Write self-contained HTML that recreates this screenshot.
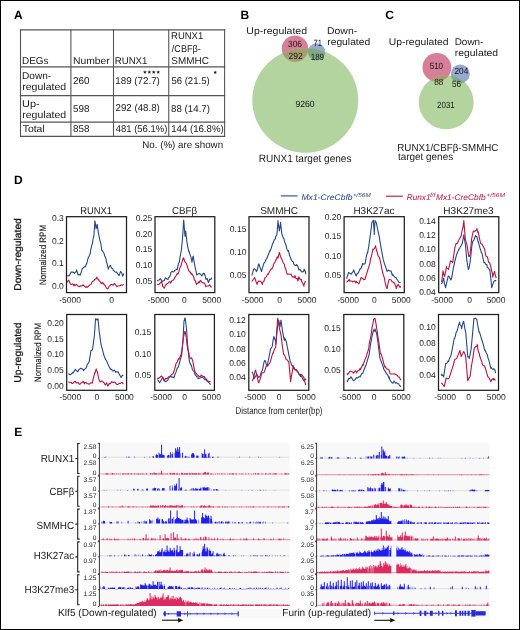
<!DOCTYPE html>
<html><head><meta charset="utf-8"><style>
html,body{margin:0;padding:0;background:#fff;}
svg{display:block;font-family:"Liberation Sans", sans-serif;will-change:transform;text-rendering:geometricPrecision;}
</style></head><body>
<svg width="520" height="630" viewBox="0 0 520 630">
<rect x="0" y="0" width="520" height="630" fill="#fff"/>
<text x="14" y="19" font-size="12" font-weight="bold" fill="#000">A</text>
<line x1="20.5" y1="29.2" x2="20.5" y2="137.0" stroke="#555" stroke-width="1.1"/>
<line x1="70.9" y1="29.2" x2="70.9" y2="137.0" stroke="#555" stroke-width="1.1"/>
<line x1="113.5" y1="29.2" x2="113.5" y2="137.0" stroke="#555" stroke-width="1.1"/>
<line x1="168.75" y1="29.2" x2="168.75" y2="137.0" stroke="#555" stroke-width="1.1"/>
<line x1="224.6" y1="29.2" x2="224.6" y2="137.0" stroke="#555" stroke-width="1.1"/>
<line x1="19.95" y1="29.8" x2="225.15" y2="29.8" stroke="#555" stroke-width="1.25"/>
<line x1="19.95" y1="66.9" x2="225.15" y2="66.9" stroke="#555" stroke-width="1.25"/>
<line x1="19.95" y1="95.65" x2="225.15" y2="95.65" stroke="#555" stroke-width="1.25"/>
<line x1="19.95" y1="122.1" x2="225.15" y2="122.1" stroke="#555" stroke-width="1.25"/>
<line x1="19.95" y1="136.4" x2="225.15" y2="136.4" stroke="#555" stroke-width="1.25"/>
<text x="22.00" y="63.70" font-size="9.90" textLength="26.57" lengthAdjust="spacingAndGlyphs" fill="#1a1a1a">DEGs</text>
<text x="72.97" y="63.70" font-size="9.90" textLength="36.75" lengthAdjust="spacingAndGlyphs" fill="#1a1a1a">Number</text>
<text x="114.73" y="63.60" font-size="9.90" textLength="32.70" lengthAdjust="spacingAndGlyphs" fill="#1a1a1a">RUNX1</text>
<text x="171.04" y="39.40" font-size="9.90" textLength="32.18" lengthAdjust="spacingAndGlyphs" fill="#1a1a1a">RUNX1</text>
<text x="171.80" y="51.60" font-size="9.90" textLength="28.97" lengthAdjust="spacingAndGlyphs" fill="#1a1a1a">/CBF&#946;-</text>
<text x="171.35" y="63.70" font-size="9.90" textLength="37.52" lengthAdjust="spacingAndGlyphs" fill="#1a1a1a">SMMHC</text>
<text x="22.09" y="78.80" font-size="9.90" textLength="29.16" lengthAdjust="spacingAndGlyphs" fill="#1a1a1a">Down-</text>
<text x="22.21" y="90.00" font-size="9.90" textLength="44.02" lengthAdjust="spacingAndGlyphs" fill="#1a1a1a">regulated</text>
<text x="73.00" y="84.30" font-size="9.90" textLength="16.58" lengthAdjust="spacingAndGlyphs" fill="#1a1a1a">260</text>
<text x="115.27" y="84.40" font-size="9.90" textLength="44.61" lengthAdjust="spacingAndGlyphs" fill="#1a1a1a">189 (72.7)</text>
<text x="171.42" y="84.10" font-size="9.90" textLength="38.23" lengthAdjust="spacingAndGlyphs" fill="#1a1a1a">56 (21.5)</text>
<text x="22.08" y="106.90" font-size="9.90" textLength="17.57" lengthAdjust="spacingAndGlyphs" fill="#1a1a1a">Up-</text>
<text x="22.21" y="117.90" font-size="9.90" textLength="44.02" lengthAdjust="spacingAndGlyphs" fill="#1a1a1a">regulated</text>
<text x="73.10" y="111.80" font-size="9.90" textLength="16.53" lengthAdjust="spacingAndGlyphs" fill="#1a1a1a">598</text>
<text x="115.51" y="111.40" font-size="9.90" textLength="44.36" lengthAdjust="spacingAndGlyphs" fill="#1a1a1a">292 (48.8)</text>
<text x="171.11" y="111.50" font-size="9.90" textLength="38.85" lengthAdjust="spacingAndGlyphs" fill="#1a1a1a">88 (14.7)</text>
<text x="22.69" y="131.60" font-size="9.90" textLength="21.96" lengthAdjust="spacingAndGlyphs" fill="#1a1a1a">Total</text>
<text x="73.10" y="131.80" font-size="9.90" textLength="16.53" lengthAdjust="spacingAndGlyphs" fill="#1a1a1a">858</text>
<text x="115.81" y="132.10" font-size="9.90" textLength="51.54" lengthAdjust="spacingAndGlyphs" fill="#1a1a1a">481 (56.1%)</text>
<text x="171.18" y="132.00" font-size="9.90" textLength="52.48" lengthAdjust="spacingAndGlyphs" fill="#1a1a1a">144 (16.8%)</text>
<text x="142.22" y="148.20" font-size="9.90" textLength="80.88" lengthAdjust="spacingAndGlyphs" fill="#1a1a1a">No. (%) are shown</text>
<polygon points="144.90,70.20 145.40,71.51 146.80,71.58 145.71,72.46 146.08,73.82 144.90,73.05 143.72,73.82 144.09,72.46 143.00,71.58 144.40,71.51" fill="#1a1a1a"/>
<polygon points="149.30,70.20 149.80,71.51 151.20,71.58 150.11,72.46 150.48,73.82 149.30,73.05 148.12,73.82 148.49,72.46 147.40,71.58 148.80,71.51" fill="#1a1a1a"/>
<polygon points="153.70,70.20 154.20,71.51 155.60,71.58 154.51,72.46 154.88,73.82 153.70,73.05 152.52,73.82 152.89,72.46 151.80,71.58 153.20,71.51" fill="#1a1a1a"/>
<polygon points="158.20,70.20 158.70,71.51 160.10,71.58 159.01,72.46 159.38,73.82 158.20,73.05 157.02,73.82 157.39,72.46 156.30,71.58 157.70,71.51" fill="#1a1a1a"/>
<polygon points="215.20,70.40 215.70,71.71 217.10,71.78 216.01,72.66 216.38,74.02 215.20,73.25 214.02,74.02 214.39,72.66 213.30,71.78 214.70,71.71" fill="#1a1a1a"/>
<text x="240.5" y="19.3" font-size="12" font-weight="bold" fill="#000">B</text>
<clipPath id="vbg"><ellipse cx="305.3" cy="100.3" rx="53.0" ry="52.4"/></clipPath>
<circle cx="295.0" cy="48.7" r="13.2" fill="#d77f99"/>
<circle cx="316.5" cy="51.9" r="8.7" fill="#99a8cf"/>
<ellipse cx="305.3" cy="100.3" rx="53.0" ry="52.4" fill="#b3d39f"/>
<circle cx="295.0" cy="48.7" r="13.2" fill="#a99c72" clip-path="url(#vbg)"/>
<circle cx="316.5" cy="51.9" r="8.7" fill="#7fa887" clip-path="url(#vbg)"/>
<text x="246.31" y="33.70" font-size="9.70" textLength="60.73" lengthAdjust="spacingAndGlyphs" fill="#1a1a1a">Up-regulated</text>
<text x="327.07" y="33.90" font-size="9.70" textLength="30.10" lengthAdjust="spacingAndGlyphs" fill="#1a1a1a">Down-</text>
<text x="327.23" y="45.00" font-size="9.70" textLength="42.99" lengthAdjust="spacingAndGlyphs" fill="#1a1a1a">regulated</text>
<text x="288.11" y="46.60" font-size="9.00" textLength="13.85" lengthAdjust="spacingAndGlyphs" fill="#151515">306</text>
<text x="288.58" y="59.00" font-size="9.00" textLength="14.13" lengthAdjust="spacingAndGlyphs" fill="#151515">292</text>
<text x="313.42" y="46.20" font-size="9.00" textLength="8.44" lengthAdjust="spacingAndGlyphs" fill="#151515">71</text>
<text x="310.70" y="60.10" font-size="9.00" textLength="13.39" lengthAdjust="spacingAndGlyphs" fill="#151515">189</text>
<text x="295.41" y="106.60" font-size="9.00" textLength="19.19" lengthAdjust="spacingAndGlyphs" fill="#151515">9260</text>
<text x="258.70" y="161.90" font-size="10.60" textLength="92.78" lengthAdjust="spacingAndGlyphs" fill="#1a1a1a">RUNX1 target genes</text>
<text x="385.3" y="19.4" font-size="12" font-weight="bold" fill="#000">C</text>
<clipPath id="vcg"><ellipse cx="446.2" cy="102.2" rx="27.4" ry="27.0"/></clipPath>
<circle cx="436.9" cy="67.4" r="14.4" fill="#d77f99"/>
<circle cx="460.3" cy="73.9" r="9.5" fill="#99a8cf"/>
<ellipse cx="446.2" cy="102.2" rx="27.4" ry="27.0" fill="#b3d39f"/>
<circle cx="436.9" cy="67.4" r="14.4" fill="#a99c72" clip-path="url(#vcg)"/>
<circle cx="460.3" cy="73.9" r="9.5" fill="#7fa887" clip-path="url(#vcg)"/>
<text x="388.72" y="45.00" font-size="9.70" textLength="59.91" lengthAdjust="spacingAndGlyphs" fill="#1a1a1a">Up-regulated</text>
<text x="454.70" y="44.90" font-size="9.70" textLength="28.74" lengthAdjust="spacingAndGlyphs" fill="#1a1a1a">Down-</text>
<text x="454.83" y="55.70" font-size="9.70" textLength="43.30" lengthAdjust="spacingAndGlyphs" fill="#1a1a1a">regulated</text>
<text x="429.68" y="68.90" font-size="9.00" textLength="13.43" lengthAdjust="spacingAndGlyphs" fill="#151515">510</text>
<text x="454.48" y="73.90" font-size="9.00" textLength="13.85" lengthAdjust="spacingAndGlyphs" fill="#151515">204</text>
<text x="434.27" y="84.50" font-size="9.00" textLength="9.18" lengthAdjust="spacingAndGlyphs" fill="#151515">88</text>
<text x="451.97" y="87.40" font-size="9.00" textLength="9.07" lengthAdjust="spacingAndGlyphs" fill="#151515">56</text>
<text x="437.10" y="107.50" font-size="9.00" textLength="17.65" lengthAdjust="spacingAndGlyphs" fill="#151515">2031</text>
<text x="397.32" y="150.70" font-size="10.10" textLength="101.06" lengthAdjust="spacingAndGlyphs" fill="#1a1a1a">RUNX1/CBF&#946;-SMMHC</text>
<text x="397.95" y="159.90" font-size="10.10" textLength="55.19" lengthAdjust="spacingAndGlyphs" fill="#1a1a1a">target genes</text>
<text x="14" y="183.5" font-size="12" font-weight="bold" fill="#000">D</text>
<line x1="280.8" y1="195.9" x2="297.6" y2="195.9" stroke="#25488a" stroke-width="1.1"/>
<line x1="385.9" y1="196.2" x2="402.9" y2="196.2" stroke="#bd1240" stroke-width="1.1"/>
<text x="301.44" y="199.70" font-size="8.20" textLength="51.18" lengthAdjust="spacingAndGlyphs" fill="#25488a" font-style="italic">Mx1-CreCbfb</text>
<text x="352.92" y="196.50" font-size="5.90" textLength="17.76" lengthAdjust="spacingAndGlyphs" fill="#25488a" font-style="italic">+/56M</text>
<text x="406.75" y="199.80" font-size="8.20" textLength="23.71" lengthAdjust="spacingAndGlyphs" fill="#bd1240" font-style="italic">Runx1</text>
<text x="430.00" y="196.50" font-size="5.90" textLength="5.43" lengthAdjust="spacingAndGlyphs" fill="#bd1240" font-style="italic">f/f</text>
<text x="435.95" y="199.80" font-size="8.20" textLength="49.77" lengthAdjust="spacingAndGlyphs" fill="#bd1240" font-style="italic">Mx1-CreCbfb</text>
<text x="486.40" y="197.00" font-size="5.90" textLength="18.58" lengthAdjust="spacingAndGlyphs" fill="#bd1240" font-style="italic">+/56M</text>
<text x="80.15" y="213.90" font-size="10.00" textLength="31.77" lengthAdjust="spacingAndGlyphs" fill="#1a1a1a">RUNX1</text>
<text x="172.01" y="213.90" font-size="10.00" textLength="25.13" lengthAdjust="spacingAndGlyphs" fill="#1a1a1a">CBF&#946;</text>
<text x="260.15" y="213.90" font-size="10.00" textLength="37.93" lengthAdjust="spacingAndGlyphs" fill="#1a1a1a">SMMHC</text>
<text x="353.40" y="213.90" font-size="10.00" textLength="41.04" lengthAdjust="spacingAndGlyphs" fill="#1a1a1a">H3K27ac</text>
<text x="443.29" y="213.90" font-size="10.00" textLength="50.44" lengthAdjust="spacingAndGlyphs" fill="#1a1a1a">H3K27me3</text>
<text x="63.8" y="220.8" font-size="8.5" text-anchor="end" fill="#1c1c1c">0.3</text>
<text x="63.8" y="243.5" font-size="8.5" text-anchor="end" fill="#1c1c1c">0.2</text>
<text x="63.8" y="266.2" font-size="8.5" text-anchor="end" fill="#1c1c1c">0.1</text>
<text x="63.8" y="289.0" font-size="8.5" text-anchor="end" fill="#1c1c1c">0.0</text>
<text x="152.2" y="220.9" font-size="8.5" text-anchor="end" fill="#1c1c1c">0.25</text>
<text x="152.2" y="236.5" font-size="8.5" text-anchor="end" fill="#1c1c1c">0.20</text>
<text x="152.2" y="252.3" font-size="8.5" text-anchor="end" fill="#1c1c1c">0.15</text>
<text x="152.2" y="268.0" font-size="8.5" text-anchor="end" fill="#1c1c1c">0.10</text>
<text x="152.2" y="283.9" font-size="8.5" text-anchor="end" fill="#1c1c1c">0.05</text>
<text x="246.4" y="232.0" font-size="8.5" text-anchor="end" fill="#1c1c1c">0.15</text>
<text x="246.4" y="254.5" font-size="8.5" text-anchor="end" fill="#1c1c1c">0.10</text>
<text x="246.4" y="277.5" font-size="8.5" text-anchor="end" fill="#1c1c1c">0.05</text>
<text x="341.2" y="219.6" font-size="8.5" text-anchor="end" fill="#1c1c1c">0.20</text>
<text x="341.2" y="239.3" font-size="8.5" text-anchor="end" fill="#1c1c1c">0.15</text>
<text x="341.2" y="258.8" font-size="8.5" text-anchor="end" fill="#1c1c1c">0.10</text>
<text x="341.2" y="278.4" font-size="8.5" text-anchor="end" fill="#1c1c1c">0.05</text>
<text x="435.7" y="224.1" font-size="8.5" text-anchor="end" fill="#1c1c1c">0.14</text>
<text x="435.7" y="238.2" font-size="8.5" text-anchor="end" fill="#1c1c1c">0.12</text>
<text x="435.7" y="252.0" font-size="8.5" text-anchor="end" fill="#1c1c1c">0.10</text>
<text x="435.7" y="266.5" font-size="8.5" text-anchor="end" fill="#1c1c1c">0.08</text>
<text x="435.7" y="280.5" font-size="8.5" text-anchor="end" fill="#1c1c1c">0.06</text>
<text x="435.7" y="294.7" font-size="8.5" text-anchor="end" fill="#1c1c1c">0.04</text>
<text x="63.8" y="326.3" font-size="8.5" text-anchor="end" fill="#1c1c1c">0.20</text>
<text x="63.8" y="342.0" font-size="8.5" text-anchor="end" fill="#1c1c1c">0.15</text>
<text x="63.8" y="357.4" font-size="8.5" text-anchor="end" fill="#1c1c1c">0.10</text>
<text x="63.8" y="373.1" font-size="8.5" text-anchor="end" fill="#1c1c1c">0.05</text>
<text x="63.8" y="388.6" font-size="8.5" text-anchor="end" fill="#1c1c1c">0.00</text>
<text x="151.2" y="335.1" font-size="8.5" text-anchor="end" fill="#1c1c1c">0.15</text>
<text x="151.2" y="356.6" font-size="8.5" text-anchor="end" fill="#1c1c1c">0.10</text>
<text x="151.2" y="378.2" font-size="8.5" text-anchor="end" fill="#1c1c1c">0.05</text>
<text x="245.7" y="323.0" font-size="8.5" text-anchor="end" fill="#1c1c1c">0.12</text>
<text x="245.7" y="337.4" font-size="8.5" text-anchor="end" fill="#1c1c1c">0.10</text>
<text x="245.7" y="351.5" font-size="8.5" text-anchor="end" fill="#1c1c1c">0.08</text>
<text x="245.7" y="365.8" font-size="8.5" text-anchor="end" fill="#1c1c1c">0.06</text>
<text x="245.7" y="380.3" font-size="8.5" text-anchor="end" fill="#1c1c1c">0.04</text>
<text x="340.7" y="330.7" font-size="8.5" text-anchor="end" fill="#1c1c1c">0.15</text>
<text x="340.7" y="351.8" font-size="8.5" text-anchor="end" fill="#1c1c1c">0.10</text>
<text x="340.7" y="373.4" font-size="8.5" text-anchor="end" fill="#1c1c1c">0.05</text>
<text x="435.7" y="330.3" font-size="8.5" text-anchor="end" fill="#1c1c1c">0.10</text>
<text x="435.7" y="346.1" font-size="8.5" text-anchor="end" fill="#1c1c1c">0.08</text>
<text x="435.7" y="362.0" font-size="8.5" text-anchor="end" fill="#1c1c1c">0.06</text>
<text x="435.7" y="377.8" font-size="8.5" text-anchor="end" fill="#1c1c1c">0.04</text>
<text x="70.0" y="303.1" font-size="8.5" text-anchor="middle" fill="#1c1c1c">-5000</text>
<text x="111.7" y="303.1" font-size="8.5" text-anchor="middle" fill="#1c1c1c">0</text>
<text x="158.5" y="303.4" font-size="8.5" text-anchor="middle" fill="#1c1c1c">-5000</text>
<text x="184.3" y="303.4" font-size="8.5" text-anchor="middle" fill="#1c1c1c">0</text>
<text x="211.8" y="303.4" font-size="8.5" text-anchor="middle" fill="#1c1c1c">5000</text>
<text x="252.5" y="303.4" font-size="8.5" text-anchor="middle" fill="#1c1c1c">-5000</text>
<text x="279.5" y="303.4" font-size="8.5" text-anchor="middle" fill="#1c1c1c">0</text>
<text x="307.0" y="303.4" font-size="8.5" text-anchor="middle" fill="#1c1c1c">5000</text>
<text x="348.1" y="303.4" font-size="8.5" text-anchor="middle" fill="#1c1c1c">-5000</text>
<text x="374.3" y="303.4" font-size="8.5" text-anchor="middle" fill="#1c1c1c">0</text>
<text x="401.3" y="303.4" font-size="8.5" text-anchor="middle" fill="#1c1c1c">5000</text>
<text x="442.1" y="303.4" font-size="8.5" text-anchor="middle" fill="#1c1c1c">-5000</text>
<text x="469.5" y="303.4" font-size="8.5" text-anchor="middle" fill="#1c1c1c">0</text>
<text x="496.1" y="303.4" font-size="8.5" text-anchor="middle" fill="#1c1c1c">5000</text>
<text x="70.4" y="400.3" font-size="8.5" text-anchor="middle" fill="#1c1c1c">-5000</text>
<text x="96.9" y="400.3" font-size="8.5" text-anchor="middle" fill="#1c1c1c">0</text>
<text x="124.4" y="400.3" font-size="8.5" text-anchor="middle" fill="#1c1c1c">5000</text>
<text x="161.0" y="400.3" font-size="8.5" text-anchor="middle" fill="#1c1c1c">-5000</text>
<text x="184.6" y="400.3" font-size="8.5" text-anchor="middle" fill="#1c1c1c">0</text>
<text x="211.5" y="400.3" font-size="8.5" text-anchor="middle" fill="#1c1c1c">5000</text>
<text x="255.0" y="400.3" font-size="8.5" text-anchor="middle" fill="#1c1c1c">-5000</text>
<text x="279.2" y="400.3" font-size="8.5" text-anchor="middle" fill="#1c1c1c">0</text>
<text x="306.3" y="400.3" font-size="8.5" text-anchor="middle" fill="#1c1c1c">5000</text>
<text x="350.0" y="400.3" font-size="8.5" text-anchor="middle" fill="#1c1c1c">-5000</text>
<text x="374.2" y="400.3" font-size="8.5" text-anchor="middle" fill="#1c1c1c">0</text>
<text x="401.3" y="400.3" font-size="8.5" text-anchor="middle" fill="#1c1c1c">5000</text>
<text x="445.0" y="400.3" font-size="8.5" text-anchor="middle" fill="#1c1c1c">-5000</text>
<text x="468.7" y="400.3" font-size="8.5" text-anchor="middle" fill="#1c1c1c">0</text>
<text x="496.3" y="400.3" font-size="8.5" text-anchor="middle" fill="#1c1c1c">5000</text>
<text x="-0.82" y="0" font-size="9.80" textLength="72.54" lengthAdjust="spacingAndGlyphs" fill="#1a1a1a" stroke="#1a1a1a" stroke-width="0.3" transform="translate(21.3,289.9) rotate(-90)">Down-regulated</text>
<text x="-0.78" y="0" font-size="9.80" textLength="60.32" lengthAdjust="spacingAndGlyphs" fill="#1a1a1a" stroke="#1a1a1a" stroke-width="0.3" transform="translate(21.3,381.9) rotate(-90)">Up-regulated</text>
<text x="-0.64" y="0" font-size="9.30" textLength="60.05" lengthAdjust="spacingAndGlyphs" fill="#1a1a1a" stroke="#1a1a1a" stroke-width="0.15" transform="translate(46.0,284.4) rotate(-90)">Normalized RPM</text>
<text x="-0.62" y="0" font-size="9.30" textLength="58.93" lengthAdjust="spacingAndGlyphs" fill="#1a1a1a" stroke="#1a1a1a" stroke-width="0.15" transform="translate(41.3,381.3) rotate(-90)">Normalized RPM</text>
<text x="235.57" y="414.20" font-size="10.00" textLength="86.90" lengthAdjust="spacingAndGlyphs" fill="#1a1a1a">Distance from center(bp)</text>
<path d="M67.20,275.60 L67.20,275.60 L68.50,275.84 L69.40,275.60 L69.80,274.69 L71.10,271.97 L71.50,272.00 L72.40,272.10 L73.70,272.34 L74.40,273.50 L75.00,272.57 L76.30,271.46 L76.60,269.90 L77.60,273.08 L78.00,274.90 L78.90,274.40 L80.20,275.29 L80.20,274.90 L81.50,271.34 L82.40,268.40 L82.80,268.28 L84.10,266.81 L85.20,267.00 L85.40,266.45 L86.70,263.60 L87.40,261.20 L88.00,258.49 L89.30,255.66 L90.30,253.30 L90.60,250.40 L91.90,244.92 L92.50,243.20 L93.20,238.13 L93.90,236.00 L94.50,226.69 L94.90,220.80 L95.80,226.33 L96.00,228.80 L97.10,224.98 L97.20,224.40 L98.20,231.60 L98.40,232.79 L99.70,239.45 L99.70,239.60 L101.00,244.27 L101.80,250.40 L102.30,250.63 L103.60,252.73 L104.00,253.30 L104.90,256.34 L106.20,259.28 L106.20,260.50 L107.50,265.44 L108.30,269.10 L108.80,267.50 L110.10,265.51 L110.50,265.50 L111.40,267.93 L112.70,268.72 L113.40,270.60 L114.00,270.86 L115.30,272.22 L116.30,272.00 L116.60,271.92 L117.90,273.97 L119.10,275.60 L119.20,275.40 L120.50,271.64 L120.60,271.30 L121.80,273.18 L122.70,276.30 L123.10,275.34 L123.80,273.50" fill="none" stroke="#25488a" stroke-width="1.1" stroke-linejoin="round"/>
<path d="M67.50,282.49 L67.50,281.40 L68.80,280.16 L69.40,281.40 L70.10,283.54 L70.80,284.30 L71.40,284.40 L72.70,283.79 L74.00,285.90 L74.40,284.30 L75.30,285.34 L76.60,284.39 L77.90,286.03 L78.80,286.40 L79.20,286.73 L80.50,285.70 L81.80,285.97 L83.10,284.95 L83.10,285.00 L84.40,286.20 L85.70,287.48 L87.00,286.45 L87.40,287.20 L88.30,286.64 L89.60,285.06 L90.90,284.48 L91.00,284.30 L92.20,281.86 L93.50,280.73 L93.90,280.70 L94.80,279.43 L96.10,278.69 L96.80,277.10 L97.40,279.04 L98.70,279.30 L98.90,280.70 L100.00,281.16 L101.30,283.62 L101.80,283.60 L102.60,282.39 L103.90,284.24 L104.70,285.00 L105.20,285.54 L106.50,288.24 L107.60,288.60 L107.80,288.90 L109.10,286.48 L110.40,284.83 L110.50,285.00 L111.70,284.33 L113.00,285.25 L114.10,283.60 L114.30,283.45 L115.60,284.81 L116.90,286.59 L117.00,286.40 L118.20,286.07 L119.50,285.76 L120.60,285.70 L120.80,284.76 L122.10,285.33 L123.40,284.67 L123.50,285.00" fill="none" stroke="#bd1240" stroke-width="1.1" stroke-linejoin="round"/>
<path d="M157.70,281.35 L157.70,280.30 L159.00,280.04 L160.30,278.58 L160.30,278.60 L161.60,280.50 L162.90,281.20 L162.90,280.89 L164.20,280.40 L165.50,277.70 L165.50,277.70 L166.80,279.08 L168.10,279.40 L168.10,278.24 L169.40,277.11 L170.70,274.20 L170.70,272.68 L172.00,271.37 L173.30,271.94 L174.10,271.60 L174.60,270.29 L175.90,269.95 L176.70,269.00 L177.20,269.69 L178.50,263.47 L179.30,262.10 L179.80,258.54 L181.10,251.48 L181.60,248.30 L182.40,239.48 L182.80,234.40 L183.70,220.20 L183.70,220.04 L185.00,236.20 L185.00,236.01 L185.70,231.00 L186.30,236.82 L187.10,243.10 L187.60,246.10 L188.80,251.70 L188.90,251.02 L190.20,255.10 L190.90,256.90 L191.50,259.77 L192.00,262.10 L192.80,257.15 L193.20,256.10 L194.10,261.61 L195.40,269.00 L195.40,268.23 L196.60,274.20 L196.70,275.04 L198.00,273.94 L199.20,273.40 L199.30,273.58 L200.60,274.27 L201.80,276.00 L201.90,275.82 L203.20,273.23 L204.40,274.20 L204.50,273.49 L205.80,278.81 L206.10,279.40 L207.10,278.48 L208.40,282.46 L208.70,282.00 L209.70,278.98 L210.50,279.40 L211.00,279.37 L211.70,277.70" fill="none" stroke="#25488a" stroke-width="1.1" stroke-linejoin="round"/>
<path d="M157.70,283.75 L157.70,284.60 L159.00,284.41 L160.30,282.80 L161.20,282.00 L161.60,281.30 L162.90,286.79 L163.70,287.20 L164.20,288.14 L165.50,285.33 L166.80,283.83 L167.20,283.70 L168.10,283.10 L169.40,281.66 L170.70,282.00 L170.70,283.10 L172.00,280.46 L173.30,279.96 L174.10,279.40 L174.60,277.86 L175.90,276.10 L177.20,273.52 L177.60,274.20 L178.50,273.07 L179.80,268.21 L180.20,267.30 L181.10,265.51 L181.90,262.10 L182.40,260.58 L183.30,257.80 L183.70,258.12 L185.00,262.10 L185.00,261.77 L186.30,263.42 L186.80,264.70 L187.60,267.15 L188.80,270.80 L188.90,270.56 L190.20,272.33 L191.40,274.20 L191.50,272.96 L192.80,275.28 L194.00,277.70 L194.10,279.62 L195.40,280.74 L196.60,284.60 L196.70,283.42 L198.00,283.11 L199.20,281.20 L199.30,282.66 L200.60,280.43 L201.90,282.30 L202.70,282.90 L203.20,282.77 L204.50,282.94 L205.80,286.73 L206.10,286.30 L207.10,286.05 L208.40,285.85 L209.60,285.50 L209.70,284.83 L211.00,287.09 L211.70,287.20" fill="none" stroke="#bd1240" stroke-width="1.1" stroke-linejoin="round"/>
<path d="M252.00,274.56 L252.00,275.10 L253.30,270.29 L253.70,269.00 L254.60,268.79 L255.90,269.98 L256.30,271.60 L257.20,270.24 L258.50,264.49 L258.90,263.80 L259.80,266.79 L261.10,270.37 L261.50,271.60 L262.40,268.18 L263.70,263.82 L264.10,263.00 L265.00,262.14 L266.30,259.06 L266.70,258.70 L267.60,256.31 L268.90,253.25 L270.20,250.00 L270.20,251.18 L271.50,247.23 L272.80,243.10 L272.80,243.48 L274.10,240.34 L275.40,238.70 L275.40,237.32 L276.70,235.06 L277.10,232.70 L278.00,220.60 L278.00,221.57 L279.30,230.12 L279.40,231.00 L280.60,222.30 L280.60,222.84 L281.90,234.32 L282.00,234.40 L283.20,237.81 L284.00,238.70 L284.50,241.32 L285.80,244.80 L285.80,244.34 L287.10,249.76 L288.40,251.70 L288.40,250.45 L289.70,256.06 L291.00,258.70 L291.00,259.19 L292.30,261.27 L293.60,262.10 L293.60,263.98 L294.90,265.33 L296.20,265.60 L296.20,264.45 L297.50,265.68 L298.70,269.00 L298.80,269.92 L300.10,269.38 L301.30,271.60 L301.40,271.56 L302.70,272.02 L304.00,270.80 L304.00,269.16 L305.30,271.29 L305.70,274.20" fill="none" stroke="#25488a" stroke-width="1.1" stroke-linejoin="round"/>
<path d="M252.00,281.51 L252.00,281.20 L253.30,279.50 L254.60,277.70 L254.60,277.41 L255.90,281.20 L257.20,284.60 L257.20,283.57 L258.50,281.08 L259.80,281.20 L259.80,281.00 L261.10,281.73 L262.40,284.60 L262.40,282.63 L263.70,281.76 L265.00,277.70 L265.00,277.63 L266.30,276.89 L267.60,273.91 L268.50,274.20 L268.90,272.80 L270.20,270.40 L271.50,268.55 L271.90,269.00 L272.80,267.16 L274.10,262.98 L274.50,263.00 L275.40,261.32 L276.70,258.25 L277.10,256.90 L278.00,258.15 L279.30,252.35 L279.70,253.50 L280.60,256.95 L281.90,259.23 L282.30,260.40 L283.20,262.77 L284.50,264.50 L284.90,267.30 L285.80,269.14 L287.10,274.03 L287.50,274.20 L288.40,274.10 L289.70,274.30 L291.00,274.20 L291.00,273.85 L292.30,276.92 L293.60,276.85 L294.40,277.70 L294.90,275.56 L296.20,278.67 L297.50,278.44 L297.90,281.20 L298.80,276.82 L300.10,279.40 L301.30,279.40 L301.40,281.26 L302.70,283.03 L304.00,286.30 L304.00,284.89 L305.30,281.27 L305.70,281.20" fill="none" stroke="#bd1240" stroke-width="1.1" stroke-linejoin="round"/>
<path d="M346.80,278.72 L346.80,277.70 L348.10,274.09 L348.60,272.50 L349.40,273.07 L350.70,273.82 L351.20,274.20 L352.00,272.86 L353.30,271.31 L353.70,269.90 L354.60,272.51 L355.90,275.26 L356.30,276.00 L357.20,273.54 L358.50,272.74 L358.90,271.60 L359.80,269.21 L361.10,268.25 L362.40,264.70 L362.40,263.56 L363.70,264.13 L365.00,263.80 L365.00,263.79 L366.30,256.56 L367.60,251.70 L367.60,253.25 L368.90,245.26 L370.20,236.20 L370.20,235.78 L371.50,226.27 L371.90,222.30 L372.80,221.29 L373.30,220.20 L374.10,230.47 L374.20,234.40 L375.00,220.60 L375.40,221.39 L376.20,222.30 L376.70,224.66 L378.00,231.00 L378.00,231.07 L379.30,236.61 L379.70,239.60 L380.60,244.86 L381.40,250.00 L381.90,252.17 L383.20,259.45 L384.00,262.10 L384.50,263.90 L385.80,267.50 L386.60,269.90 L387.10,271.45 L388.40,270.02 L389.20,270.80 L389.70,270.94 L391.00,270.91 L392.30,275.22 L392.70,274.20 L393.60,275.97 L394.90,277.23 L396.20,277.70 L396.20,278.30 L397.50,280.04 L398.70,282.00 L398.80,282.24 L400.10,282.47 L400.50,282.90" fill="none" stroke="#25488a" stroke-width="1.1" stroke-linejoin="round"/>
<path d="M346.80,281.80 L346.80,282.00 L348.10,280.75 L349.40,279.40 L349.40,280.91 L350.70,280.92 L352.00,281.27 L352.90,282.00 L353.30,281.33 L354.60,280.97 L355.90,282.90 L356.30,281.20 L357.20,282.57 L358.50,283.38 L358.90,283.70 L359.80,281.28 L361.10,277.51 L361.50,277.70 L362.40,278.07 L363.70,279.64 L365.00,279.40 L365.00,279.01 L366.30,274.87 L367.60,270.80 L367.60,270.58 L368.90,266.56 L370.20,262.10 L370.20,260.51 L371.50,255.81 L372.80,250.00 L372.80,249.15 L374.10,249.13 L375.40,246.50 L375.40,245.73 L376.70,251.05 L377.10,251.70 L378.00,255.65 L379.30,257.31 L379.70,258.70 L380.60,262.29 L381.90,269.13 L382.30,270.80 L383.20,274.40 L384.50,278.61 L384.90,281.20 L385.80,285.31 L386.60,288.10 L387.10,288.44 L388.40,281.82 L389.20,279.40 L389.70,279.57 L391.00,279.69 L392.30,282.02 L392.70,282.00 L393.60,282.09 L394.90,284.16 L396.20,287.20 L396.20,288.48 L397.50,284.94 L398.70,284.60 L398.80,285.78 L400.10,287.45 L400.50,286.30" fill="none" stroke="#bd1240" stroke-width="1.1" stroke-linejoin="round"/>
<path d="M441.70,284.06 L441.70,283.80 L443.00,280.65 L443.70,278.10 L444.30,283.08 L445.60,287.50 L445.60,287.70 L446.90,281.95 L448.20,276.04 L448.50,276.20 L449.50,277.24 L450.80,279.98 L451.30,279.00 L452.10,275.99 L453.40,267.63 L454.20,264.60 L454.70,261.76 L456.00,256.96 L457.10,253.10 L457.30,252.99 L458.60,249.89 L459.90,247.71 L460.00,247.30 L461.20,245.61 L462.30,243.50 L462.50,242.04 L463.80,234.80 L463.80,234.76 L465.10,242.81 L465.40,244.40 L466.40,255.39 L466.70,258.80 L467.70,265.93 L468.30,269.40 L469.00,268.51 L470.00,262.70 L470.30,260.56 L471.60,248.19 L471.90,245.40 L472.90,241.03 L474.20,239.62 L474.40,238.70 L475.50,235.60 L476.30,236.70 L476.80,236.49 L478.10,241.87 L478.30,241.50 L479.40,246.23 L480.70,250.12 L481.20,252.10 L482.00,253.42 L483.30,259.68 L484.00,262.70 L484.60,262.41 L485.90,264.58 L486.90,264.60 L487.20,267.46 L488.50,268.02 L489.80,270.40 L489.80,269.62 L491.10,281.07 L491.70,287.70 L492.40,285.61 L493.70,281.90 L493.70,281.72 L495.00,280.28 L496.20,281.00" fill="none" stroke="#25488a" stroke-width="1.1" stroke-linejoin="round"/>
<path d="M441.70,282.02 L441.70,281.90 L443.00,270.91 L443.10,271.30 L444.30,276.33 L444.60,276.20 L445.60,272.16 L446.50,266.50 L446.90,268.16 L448.20,268.49 L448.50,269.40 L449.50,265.39 L450.40,260.80 L450.80,261.00 L452.10,261.82 L452.70,262.70 L453.40,257.77 L454.70,248.28 L455.20,246.30 L456.00,243.53 L457.30,243.62 L458.10,241.50 L458.60,240.33 L459.90,238.18 L461.00,235.80 L461.20,235.99 L462.50,227.99 L462.90,228.10 L463.80,221.30 L463.80,220.52 L465.10,236.34 L465.40,239.60 L466.40,242.99 L466.70,243.50 L467.70,249.37 L468.70,256.00 L469.00,256.80 L470.00,255.00 L470.30,252.33 L471.50,240.60 L471.60,238.91 L472.90,232.95 L473.50,231.00 L474.20,231.56 L475.50,230.75 L476.30,230.00 L476.80,228.58 L478.10,233.06 L478.30,231.90 L479.40,238.06 L480.20,241.50 L480.70,243.67 L482.00,244.10 L483.10,246.30 L483.30,246.52 L484.60,249.04 L485.00,251.20 L485.90,256.10 L487.20,256.79 L487.90,258.80 L488.50,261.98 L489.80,263.20 L490.80,266.50 L491.10,268.34 L492.40,273.75 L492.70,277.10 L493.70,273.66 L494.60,271.30 L495.00,273.98 L496.20,278.10" fill="none" stroke="#bd1240" stroke-width="1.1" stroke-linejoin="round"/>
<path d="M68.90,373.20 L68.90,374.20 L70.20,374.72 L71.50,373.79 L72.80,372.34 L73.10,373.10 L74.10,371.18 L75.40,369.23 L75.40,369.60 L76.70,370.86 L77.70,371.90 L78.00,371.11 L79.30,369.30 L80.50,368.50 L80.60,368.33 L81.90,368.75 L83.20,369.54 L83.50,370.80 L84.50,369.41 L85.80,368.39 L86.90,366.20 L87.10,364.57 L88.40,363.14 L89.20,361.50 L89.70,358.09 L91.00,350.30 L91.10,350.50 L92.30,349.91 L92.70,348.80 L93.60,341.30 L94.30,336.20 L94.90,328.70 L95.50,318.80 L96.20,318.78 L96.90,320.00 L97.50,319.65 L98.00,318.80 L98.80,327.08 L99.20,331.50 L100.10,337.42 L100.80,343.10 L101.40,345.97 L102.70,350.58 L103.10,352.30 L104.00,355.48 L105.30,358.86 L105.40,359.20 L106.60,360.73 L107.90,364.12 L108.90,366.20 L109.20,366.65 L110.50,369.13 L111.80,369.40 L112.30,370.80 L113.10,371.02 L114.40,370.08 L115.70,372.39 L115.80,371.90 L117.00,371.85 L118.30,372.15 L119.20,374.20 L119.60,374.67 L120.90,377.30 L121.50,377.20 L122.20,375.32 L123.40,375.40" fill="none" stroke="#25488a" stroke-width="1.1" stroke-linejoin="round"/>
<path d="M68.90,381.43 L68.90,382.30 L70.20,382.23 L71.50,382.44 L71.90,383.50 L72.80,383.39 L74.10,381.85 L75.40,381.32 L75.40,381.90 L76.70,383.02 L78.00,382.60 L79.30,384.20 L80.00,384.20 L80.60,383.18 L81.90,382.45 L83.20,381.41 L84.50,383.83 L84.60,382.30 L85.80,382.54 L87.10,383.53 L88.40,383.84 L89.20,384.20 L89.70,383.90 L91.00,382.70 L92.30,383.07 L92.70,381.20 L93.60,377.20 L94.90,372.21 L95.00,373.10 L96.20,368.79 L96.20,369.60 L97.50,372.27 L97.80,374.20 L98.80,378.69 L99.60,381.20 L100.10,382.01 L101.40,381.00 L102.70,381.06 L103.10,382.30 L104.00,382.70 L105.30,385.09 L106.60,382.71 L107.70,385.80 L107.90,386.02 L109.20,383.44 L110.50,383.83 L111.20,382.30 L111.80,381.59 L113.10,382.57 L114.40,381.93 L115.70,382.69 L115.80,383.50 L117.00,384.61 L118.30,384.16 L119.60,383.18 L120.40,383.50 L120.90,382.92 L122.20,382.40 L123.40,384.20" fill="none" stroke="#bd1240" stroke-width="1.1" stroke-linejoin="round"/>
<path d="M157.70,379.45 L157.70,379.80 L159.00,381.76 L159.60,382.70 L160.30,381.47 L161.60,379.31 L162.50,377.90 L162.90,377.41 L164.20,380.07 L165.40,381.70 L165.50,381.53 L166.80,381.03 L168.10,379.84 L168.30,377.90 L169.40,377.40 L170.70,376.38 L171.20,376.90 L172.00,377.13 L173.30,377.10 L174.00,377.90 L174.60,375.49 L175.90,372.34 L176.00,372.10 L177.20,368.29 L178.50,366.66 L178.80,365.40 L179.80,361.65 L181.10,357.22 L181.70,354.80 L182.40,346.49 L183.10,338.50 L183.70,326.31 L184.00,321.20 L185.00,317.93 L185.20,318.30 L186.30,326.97 L186.50,328.80 L187.50,344.20 L187.60,344.62 L188.90,357.16 L189.40,361.50 L190.20,363.62 L191.50,365.85 L192.30,369.20 L192.80,370.26 L194.10,371.59 L195.20,375.00 L195.40,374.71 L196.70,376.70 L198.00,376.80 L198.10,378.80 L199.30,378.28 L200.60,377.69 L201.90,376.90 L201.90,376.76 L203.20,377.82 L204.50,379.16 L204.80,379.80 L205.80,379.58 L207.10,381.06 L207.70,381.70 L208.40,381.90 L209.70,383.78 L210.60,384.60" fill="none" stroke="#25488a" stroke-width="1.1" stroke-linejoin="round"/>
<path d="M157.70,377.72 L157.70,378.80 L159.00,378.05 L160.30,377.01 L161.50,376.00 L161.60,376.04 L162.90,377.92 L164.20,380.97 L164.40,380.80 L165.50,378.20 L166.80,378.81 L168.10,377.32 L168.30,376.90 L169.40,376.49 L170.70,375.79 L172.00,374.08 L173.10,374.00 L173.30,373.04 L174.60,369.14 L175.90,364.25 L176.00,363.50 L177.20,362.01 L178.50,358.65 L178.80,359.60 L179.80,357.43 L181.10,354.55 L181.70,351.90 L182.40,346.95 L183.30,338.50 L183.70,336.62 L184.60,331.70 L185.00,331.50 L186.20,336.50 L186.30,338.24 L187.50,348.10 L187.60,348.47 L188.90,352.89 L189.40,357.70 L190.20,358.56 L191.50,357.73 L192.30,359.60 L192.80,360.96 L194.10,368.12 L194.20,369.20 L195.40,372.75 L196.70,373.87 L197.10,375.00 L198.00,375.24 L199.30,376.57 L200.60,376.43 L201.00,375.00 L201.90,375.59 L203.20,376.46 L204.50,376.54 L204.80,377.90 L205.80,378.27 L207.10,380.58 L207.70,380.80 L208.40,381.37 L209.70,381.52 L210.60,381.70" fill="none" stroke="#bd1240" stroke-width="1.1" stroke-linejoin="round"/>
<path d="M252.30,373.09 L252.30,372.10 L253.60,375.91 L254.20,378.80 L254.90,377.28 L256.20,375.36 L256.50,374.00 L257.50,375.58 L258.80,377.37 L259.40,376.90 L260.10,375.68 L261.40,371.97 L262.30,370.20 L262.70,368.89 L264.00,362.10 L264.60,360.60 L265.30,360.56 L266.60,365.74 L267.10,366.30 L267.90,362.27 L269.20,356.18 L270.00,351.90 L270.50,348.96 L271.80,347.07 L272.30,346.20 L273.10,340.43 L273.80,336.50 L274.40,337.95 L275.70,341.56 L275.80,344.20 L277.00,331.74 L277.70,325.00 L278.30,323.02 L278.70,320.20 L279.60,325.22 L280.00,326.90 L280.90,320.27 L281.00,320.20 L282.20,328.67 L282.50,330.80 L283.50,336.61 L284.40,340.40 L284.80,337.83 L286.10,341.08 L286.30,341.30 L287.40,347.67 L288.30,351.90 L288.70,354.18 L290.00,360.40 L291.20,363.50 L291.30,364.77 L292.60,365.71 L293.90,367.47 L294.00,367.30 L295.20,369.70 L296.50,370.12 L296.90,371.20 L297.80,372.04 L299.10,374.25 L300.40,376.57 L300.80,375.00 L301.70,376.64 L303.00,379.35 L303.70,380.80 L304.30,380.37 L305.60,378.80 L305.60,380.14" fill="none" stroke="#25488a" stroke-width="1.1" stroke-linejoin="round"/>
<path d="M252.30,380.77 L252.30,380.80 L253.60,378.09 L254.90,371.48 L255.60,370.20 L256.20,372.60 L257.50,378.19 L258.50,382.70 L258.80,382.66 L260.10,379.35 L261.30,375.00 L261.40,373.39 L262.70,372.68 L264.00,372.64 L264.20,372.10 L265.30,368.90 L266.60,365.03 L267.10,365.40 L267.90,365.64 L269.20,363.79 L270.00,362.50 L270.50,361.34 L271.80,356.07 L272.90,352.90 L273.10,353.47 L274.40,349.19 L275.70,347.53 L275.80,346.20 L277.00,327.67 L277.70,318.30 L278.30,320.89 L279.20,326.90 L279.60,329.02 L280.90,334.36 L281.20,336.50 L282.20,344.70 L283.50,353.80 L283.50,354.06 L284.80,355.57 L286.10,359.26 L286.30,359.60 L287.40,360.08 L288.70,362.34 L288.80,361.50 L290.00,374.33 L290.60,381.70 L291.30,376.70 L292.60,369.87 L293.10,365.40 L293.90,368.65 L295.20,370.05 L296.50,369.76 L296.90,370.20 L297.80,371.53 L299.10,374.44 L300.40,374.38 L300.80,375.00 L301.70,374.61 L303.00,376.56 L303.70,376.90 L304.30,379.78 L305.60,384.60 L305.60,383.77" fill="none" stroke="#bd1240" stroke-width="1.1" stroke-linejoin="round"/>
<path d="M347.30,380.38 L347.30,381.70 L348.60,378.66 L349.90,378.45 L350.60,376.90 L351.20,377.10 L352.50,379.34 L353.50,380.80 L353.80,380.66 L355.10,379.64 L356.30,377.90 L356.40,377.61 L357.70,377.94 L359.00,376.50 L360.20,376.90 L360.30,376.45 L361.60,373.76 L362.90,373.34 L363.10,372.10 L364.20,369.54 L365.50,365.96 L366.00,365.40 L366.80,362.38 L368.10,358.02 L368.80,355.80 L369.40,352.78 L370.70,343.19 L371.70,338.50 L372.00,336.37 L373.30,331.24 L373.70,329.80 L374.60,331.13 L375.00,328.80 L375.90,331.90 L376.50,332.70 L377.20,337.34 L378.50,346.20 L378.50,346.77 L379.80,357.01 L380.40,359.60 L381.10,361.27 L382.40,364.62 L383.30,367.30 L383.70,369.07 L385.00,371.10 L386.20,373.10 L386.30,373.77 L387.60,374.53 L388.90,378.18 L389.10,376.90 L390.20,380.47 L391.50,382.15 L392.00,382.70 L392.80,383.25 L394.10,381.08 L395.40,383.21 L395.80,382.70 L396.70,382.86 L398.00,383.81 L398.70,383.70 L399.30,385.13 L400.60,386.50 L400.60,386.23" fill="none" stroke="#25488a" stroke-width="1.1" stroke-linejoin="round"/>
<path d="M347.30,373.25 L347.30,374.60 L348.60,373.55 L349.90,371.33 L350.60,371.20 L351.20,371.33 L352.50,371.96 L353.50,373.10 L353.80,372.72 L355.10,370.68 L356.30,372.10 L356.40,372.98 L357.70,370.94 L359.00,370.36 L360.20,368.30 L360.30,369.78 L361.60,366.92 L362.90,364.16 L363.10,365.40 L364.20,361.76 L365.50,358.06 L366.00,357.70 L366.80,354.56 L368.10,350.56 L368.80,348.10 L369.40,342.92 L370.70,337.04 L371.70,330.80 L372.00,327.85 L373.30,321.76 L373.70,319.20 L374.60,318.49 L375.00,318.30 L375.90,323.21 L376.50,326.90 L377.20,331.57 L378.50,340.40 L378.50,339.97 L379.80,349.08 L380.40,353.80 L381.10,353.89 L382.30,357.70 L382.40,357.97 L383.70,363.33 L385.00,367.29 L385.20,366.30 L386.30,368.46 L387.60,369.26 L388.10,369.20 L388.90,369.98 L390.20,373.83 L391.00,374.00 L391.50,373.96 L392.80,373.94 L394.10,373.77 L394.80,374.00 L395.40,374.49 L396.70,374.96 L397.70,376.00 L398.00,376.33 L399.30,377.23 L400.60,379.80 L400.60,379.50" fill="none" stroke="#bd1240" stroke-width="1.1" stroke-linejoin="round"/>
<path d="M441.70,376.05 L441.70,374.00 L443.00,375.82 L443.70,376.90 L444.30,372.45 L445.60,363.98 L445.60,363.50 L446.90,363.24 L448.20,360.70 L448.50,361.50 L449.50,358.56 L450.80,356.00 L451.30,353.80 L452.10,349.82 L453.40,342.83 L454.20,338.50 L454.70,338.57 L456.00,333.11 L457.10,330.80 L457.30,330.18 L458.60,325.11 L459.60,322.10 L459.90,324.50 L461.20,325.99 L461.50,328.80 L462.50,324.40 L463.50,321.20 L463.80,322.22 L465.10,329.80 L465.80,332.70 L466.40,340.54 L467.70,355.80 L467.70,357.06 L469.00,356.90 L469.20,358.70 L470.30,353.55 L471.20,348.10 L471.60,343.68 L472.50,334.60 L472.90,329.65 L474.00,318.30 L474.20,318.86 L475.50,318.06 L476.30,319.20 L476.80,319.66 L478.10,327.25 L479.20,332.70 L479.40,331.88 L480.70,336.10 L482.00,340.47 L482.10,340.40 L483.30,344.65 L484.60,350.10 L485.00,350.00 L485.90,352.21 L487.20,354.46 L487.90,357.70 L488.50,359.21 L489.80,363.82 L490.80,368.30 L491.10,367.30 L492.40,369.19 L493.70,369.20 L493.70,368.62 L495.00,370.09 L495.60,373.10" fill="none" stroke="#25488a" stroke-width="1.1" stroke-linejoin="round"/>
<path d="M441.70,383.73 L441.70,383.10 L443.00,384.77 L444.20,386.50 L444.30,386.39 L445.60,380.58 L446.20,377.90 L446.90,378.74 L448.20,378.72 L448.50,378.80 L449.50,377.20 L450.80,372.94 L451.30,371.20 L452.10,368.88 L453.40,364.54 L454.20,361.50 L454.70,359.53 L456.00,358.99 L457.10,357.70 L457.30,356.93 L458.60,353.87 L459.60,351.00 L459.90,350.54 L461.20,356.51 L461.50,355.80 L462.50,353.94 L463.50,351.90 L463.80,351.57 L465.10,354.40 L465.80,357.70 L466.40,364.74 L467.70,380.80 L467.70,380.72 L469.00,377.95 L470.00,376.90 L470.30,374.87 L471.60,365.04 L471.90,363.50 L472.90,357.84 L474.20,348.68 L474.40,348.10 L475.50,346.74 L476.80,346.08 L477.30,344.60 L478.10,350.81 L479.40,353.92 L479.60,355.80 L480.70,358.77 L482.00,362.44 L482.10,363.50 L483.30,365.78 L484.60,365.74 L485.00,367.30 L485.90,369.84 L487.20,374.56 L487.90,376.90 L488.50,377.01 L489.80,379.18 L490.80,381.70 L491.10,381.08 L492.40,378.76 L493.70,379.80 L493.70,378.50 L495.00,379.84 L495.60,380.40" fill="none" stroke="#bd1240" stroke-width="1.1" stroke-linejoin="round"/>
<rect x="66.5" y="216.7" width="60.0" height="75.90000000000003" fill="none" stroke="#1e1e1e" stroke-width="1.25"/>
<rect x="155" y="216.7" width="59.80000000000001" height="75.90000000000003" fill="none" stroke="#1e1e1e" stroke-width="1.25"/>
<rect x="249" y="216.7" width="60" height="75.90000000000003" fill="none" stroke="#1e1e1e" stroke-width="1.25"/>
<rect x="344.1" y="216.7" width="60.19999999999999" height="75.90000000000003" fill="none" stroke="#1e1e1e" stroke-width="1.25"/>
<rect x="438.7" y="216.7" width="60.10000000000002" height="75.90000000000003" fill="none" stroke="#1e1e1e" stroke-width="1.25"/>
<rect x="66.7" y="314.5" width="59.89999999999999" height="75.80000000000001" fill="none" stroke="#1e1e1e" stroke-width="1.25"/>
<rect x="154.8" y="314.5" width="59.599999999999994" height="75.80000000000001" fill="none" stroke="#1e1e1e" stroke-width="1.25"/>
<rect x="248.8" y="314.5" width="60.0" height="75.80000000000001" fill="none" stroke="#1e1e1e" stroke-width="1.25"/>
<rect x="343.8" y="314.5" width="60.0" height="75.80000000000001" fill="none" stroke="#1e1e1e" stroke-width="1.25"/>
<rect x="438.5" y="314.5" width="60.0" height="75.80000000000001" fill="none" stroke="#1e1e1e" stroke-width="1.25"/>
<text x="14.2" y="435.7" font-size="12" font-weight="bold" fill="#000">E</text>
<rect x="100.6" y="608.5" width="388.8" height="9.5" fill="#f8f8f8"/>
<rect x="100.6" y="442.6" width="188.9" height="163.39999999999998" fill="#f8f8f8"/>
<line x1="100.6" y1="457.2" x2="289.5" y2="457.2" stroke="#dedede" stroke-width="1.0"/>
<line x1="100.6" y1="474.0" x2="289.5" y2="474.0" stroke="#eaa2b6" stroke-width="1.15"/>
<line x1="100.6" y1="490.06" x2="289.5" y2="490.06" stroke="#dedede" stroke-width="1.0"/>
<line x1="100.6" y1="506.84" x2="289.5" y2="506.84" stroke="#eaa2b6" stroke-width="1.15"/>
<line x1="100.6" y1="522.92" x2="289.5" y2="522.92" stroke="#dedede" stroke-width="1.0"/>
<line x1="100.6" y1="539.6800000000001" x2="289.5" y2="539.6800000000001" stroke="#eaa2b6" stroke-width="1.15"/>
<line x1="100.6" y1="555.78" x2="289.5" y2="555.78" stroke="#dedede" stroke-width="1.0"/>
<line x1="100.6" y1="572.5200000000001" x2="289.5" y2="572.5200000000001" stroke="#eaa2b6" stroke-width="1.15"/>
<line x1="100.6" y1="588.64" x2="289.5" y2="588.64" stroke="#dedede" stroke-width="1.0"/>
<line x1="100.6" y1="605.3600000000001" x2="289.5" y2="605.3600000000001" stroke="#eaa2b6" stroke-width="1.15"/>
<rect x="317.3" y="442.6" width="172.09999999999997" height="163.39999999999998" fill="#f8f8f8"/>
<line x1="317.3" y1="458.1" x2="489.4" y2="458.1" stroke="#dedede" stroke-width="1.0"/>
<line x1="317.3" y1="474.65" x2="489.4" y2="474.65" stroke="#eaa2b6" stroke-width="1.15"/>
<line x1="317.3" y1="490.75" x2="489.4" y2="490.75" stroke="#dedede" stroke-width="1.0"/>
<line x1="317.3" y1="507.33" x2="489.4" y2="507.33" stroke="#eaa2b6" stroke-width="1.15"/>
<line x1="317.3" y1="523.4" x2="489.4" y2="523.4" stroke="#dedede" stroke-width="1.0"/>
<line x1="317.3" y1="540.01" x2="489.4" y2="540.01" stroke="#eaa2b6" stroke-width="1.15"/>
<line x1="317.3" y1="556.05" x2="489.4" y2="556.05" stroke="#dedede" stroke-width="1.0"/>
<line x1="317.3" y1="572.69" x2="489.4" y2="572.69" stroke="#eaa2b6" stroke-width="1.15"/>
<line x1="317.3" y1="588.7" x2="489.4" y2="588.7" stroke="#dedede" stroke-width="1.0"/>
<line x1="317.3" y1="605.37" x2="489.4" y2="605.37" stroke="#eaa2b6" stroke-width="1.15"/>
<path d="M100.6,457.7L100.6,457.70L100.6,457.70L104.1,457.70L104.1,456.93L104.6,456.93L104.6,457.70L105.6,457.70L105.6,456.52L106.1,456.52L106.1,457.70L126.6,457.70L126.6,456.58L127.1,456.58L127.1,457.70L128.1,457.70L128.1,456.56L128.6,456.56L128.6,457.70L129.1,457.70L129.1,456.60L129.6,456.60L129.6,457.70L134.1,457.70L134.1,456.51L134.6,456.51L134.6,457.70L144.1,457.70L144.1,456.86L144.6,456.86L144.6,457.70L149.6,457.70L149.6,456.61L150.1,456.61L150.1,457.70L152.6,457.70L152.6,456.06L153.1,456.06L153.1,455.97L153.6,455.97L153.6,456.71L154.1,456.71L154.1,457.70L155.6,457.70L155.6,454.78L156.1,454.78L156.1,454.49L156.6,454.49L156.6,454.20L157.1,454.20L157.1,454.79L157.6,454.79L157.6,454.88L158.1,454.88L158.1,457.70L158.6,457.70L158.6,452.45L159.1,452.45L159.1,453.10L159.6,453.10L159.6,454.44L160.1,454.44L160.1,453.89L160.6,453.89L160.6,454.61L161.1,454.61L161.1,444.70L162.1,444.70L162.1,455.22L162.6,455.22L162.6,453.87L163.1,453.87L163.1,454.90L163.6,454.90L163.6,454.90L164.1,454.90L164.1,455.34L164.6,455.34L164.6,457.70L167.1,457.70L167.1,455.70L167.6,455.70L167.6,455.26L168.1,455.26L168.1,454.76L168.6,454.76L168.6,454.95L169.1,454.95L169.1,455.19L169.6,455.19L169.6,457.70L170.1,457.70L170.1,452.21L170.6,452.21L170.6,452.28L171.1,452.28L171.1,457.70L171.6,457.70L171.6,453.92L172.1,453.92L172.1,454.30L172.6,454.30L172.6,452.10L173.1,452.10L173.1,457.70L174.6,457.70L174.6,452.72L175.1,452.72L175.1,448.20L176.1,448.20L176.1,449.86L176.6,449.86L176.6,451.47L177.1,451.47L177.1,447.20L178.1,447.20L178.1,449.19L178.6,449.19L178.6,451.67L179.1,451.67L179.1,447.00L180.1,447.00L180.1,457.70L180.6,457.70L180.6,453.30L181.1,453.30L181.1,457.70L182.1,457.70L182.1,452.43L182.6,452.43L182.6,452.84L183.1,452.84L183.1,457.70L184.6,457.70L184.6,456.43L185.1,456.43L185.1,456.18L185.6,456.18L185.6,455.72L186.1,455.72L186.1,456.11L186.6,456.11L186.6,457.70L187.6,457.70L187.6,456.43L188.1,456.43L188.1,456.84L188.6,456.84L188.6,457.70L189.6,457.70L189.6,456.83L190.1,456.83L190.1,457.70L191.1,457.70L191.1,454.87L191.6,454.87L191.6,453.39L192.1,453.39L192.1,453.28L192.6,453.28L192.6,453.00L193.6,453.00L193.6,453.48L194.1,453.48L194.1,454.64L194.6,454.64L194.6,457.70L196.1,457.70L196.1,456.15L196.6,456.15L196.6,455.23L197.1,455.23L197.1,455.56L197.6,455.56L197.6,455.75L198.1,455.75L198.1,455.79L198.6,455.79L198.6,457.70L201.6,457.70L201.6,453.00L202.1,453.00L202.1,453.62L202.6,453.62L202.6,454.06L203.1,454.06L203.1,454.05L203.6,454.05L203.6,456.84L204.1,456.84L204.1,449.40L205.1,449.40L205.1,454.36L205.6,454.36L205.6,453.69L206.1,453.69L206.1,456.95L206.6,456.95L206.6,453.89L207.1,453.89L207.1,457.70L207.6,457.70L207.6,456.73L208.1,456.73L208.1,453.24L208.6,453.24L208.6,453.84L209.1,453.84L209.1,452.61L209.6,452.61L209.6,457.70L210.1,457.70L210.1,456.81L210.6,456.81L210.6,457.70L212.1,457.70L212.1,456.71L212.6,456.71L212.6,456.39L213.1,456.39L213.1,456.67L213.6,456.67L213.6,457.70L217.1,457.70L217.1,456.78L217.6,456.78L217.6,457.70L218.6,457.70L218.6,456.50L219.1,456.50L219.1,457.70L239.1,457.70L239.1,456.61L239.6,456.61L239.6,457.70L249.6,457.70L249.6,456.61L250.1,456.61L250.1,457.70L258.1,457.70L258.1,456.41L258.6,456.41L258.6,457.70L260.1,457.70L260.1,456.91L260.6,456.91L260.6,457.70L279.6,457.70L279.6,456.72L280.1,456.72L280.1,457.70L289.5,457.70L289.5,457.7Z" fill="#2020ee"/>
<path d="M100.6,474.6L100.6,474.55L100.6,474.55L105.1,474.55L105.1,473.04L105.6,473.04L105.6,474.55L106.1,474.55L106.1,473.37L106.6,473.37L106.6,473.51L107.1,473.51L107.1,472.98L107.6,472.98L107.6,473.60L108.1,473.60L108.1,473.64L108.6,473.64L108.6,474.55L110.1,474.55L110.1,473.50L110.6,473.50L110.6,474.55L111.6,474.55L111.6,473.28L112.1,473.28L112.1,472.90L112.6,472.90L112.6,473.08L113.1,473.08L113.1,474.55L113.6,474.55L113.6,473.22L114.1,473.22L114.1,474.55L114.6,474.55L114.6,473.26L115.1,473.26L115.1,474.55L116.6,474.55L116.6,473.11L117.1,473.11L117.1,474.55L118.6,474.55L118.6,473.17L119.1,473.17L119.1,474.55L120.1,474.55L120.1,473.41L120.6,473.41L120.6,474.55L122.1,474.55L122.1,473.62L122.6,473.62L122.6,473.53L123.1,473.53L123.1,473.03L123.6,473.03L123.6,474.55L124.6,474.55L124.6,473.16L125.1,473.16L125.1,474.55L125.6,474.55L125.6,473.02L126.1,473.02L126.1,473.66L126.6,473.66L126.6,474.55L127.1,474.55L127.1,472.93L127.6,472.93L127.6,474.55L128.1,474.55L128.1,473.38L128.6,473.38L128.6,472.91L129.1,472.91L129.1,474.55L130.1,474.55L130.1,473.19L130.6,473.19L130.6,474.55L131.1,474.55L131.1,473.23L131.6,473.23L131.6,473.00L132.1,473.00L132.1,474.55L134.1,474.55L134.1,473.17L134.6,473.17L134.6,473.13L135.1,473.13L135.1,474.55L136.1,474.55L136.1,473.57L136.6,473.57L136.6,474.55L137.6,474.55L137.6,473.19L138.1,473.19L138.1,473.40L138.6,473.40L138.6,473.64L139.1,473.64L139.1,474.55L139.6,474.55L139.6,473.59L140.1,473.59L140.1,473.29L140.6,473.29L140.6,474.55L141.6,474.55L141.6,473.48L142.1,473.48L142.1,474.55L142.6,474.55L142.6,473.05L143.1,473.05L143.1,474.55L143.6,474.55L143.6,473.60L144.1,473.60L144.1,474.55L144.6,474.55L144.6,473.69L145.1,473.69L145.1,474.55L146.1,474.55L146.1,472.85L146.6,472.85L146.6,473.43L147.1,473.43L147.1,474.55L150.1,474.55L150.1,473.06L150.6,473.06L150.6,473.27L151.1,473.27L151.1,474.55L151.6,474.55L151.6,473.36L152.1,473.36L152.1,473.27L152.6,473.27L152.6,473.52L153.1,473.52L153.1,472.62L153.6,472.62L153.6,474.55L154.1,474.55L154.1,472.56L154.6,472.56L154.6,472.80L155.1,472.80L155.1,473.32L155.6,473.32L155.6,472.95L156.1,472.95L156.1,473.31L156.6,473.31L156.6,473.41L157.1,473.41L157.1,474.55L157.6,474.55L157.6,473.15L158.1,473.15L158.1,473.28L158.6,473.28L158.6,474.55L159.1,474.55L159.1,472.86L159.6,472.86L159.6,474.55L160.6,474.55L160.6,472.81L161.1,472.81L161.1,470.75L162.1,470.75L162.1,473.52L162.6,473.52L162.6,474.55L163.6,474.55L163.6,473.36L164.1,473.36L164.1,474.55L165.6,474.55L165.6,473.03L166.1,473.03L166.1,474.55L166.6,474.55L166.6,473.67L167.1,473.67L167.1,472.99L167.6,472.99L167.6,474.55L169.6,474.55L169.6,472.86L170.1,472.86L170.1,472.86L170.6,472.86L170.6,472.89L171.1,472.89L171.1,473.30L171.6,473.30L171.6,474.55L172.1,474.55L172.1,473.22L172.6,473.22L172.6,473.39L173.1,473.39L173.1,473.03L173.6,473.03L173.6,472.86L174.1,472.86L174.1,472.91L174.6,472.91L174.6,472.86L175.1,472.86L175.1,474.55L176.1,474.55L176.1,473.50L176.6,473.50L176.6,473.35L177.1,473.35L177.1,473.17L177.6,473.17L177.6,473.54L178.1,473.54L178.1,474.55L179.1,474.55L179.1,473.45L179.6,473.45L179.6,473.43L180.1,473.43L180.1,474.55L181.1,474.55L181.1,472.79L181.6,472.79L181.6,472.80L182.1,472.80L182.1,472.78L182.6,472.78L182.6,472.97L183.1,472.97L183.1,473.43L183.6,473.43L183.6,474.55L184.1,474.55L184.1,472.98L184.6,472.98L184.6,473.56L185.1,473.56L185.1,472.89L185.6,472.89L185.6,473.70L186.1,473.70L186.1,473.03L186.6,473.03L186.6,473.30L187.1,473.30L187.1,473.30L187.6,473.30L187.6,473.13L188.1,473.13L188.1,474.55L188.6,474.55L188.6,473.37L189.1,473.37L189.1,472.83L189.6,472.83L189.6,473.68L190.1,473.68L190.1,473.05L190.6,473.05L190.6,473.64L191.1,473.64L191.1,474.55L191.6,474.55L191.6,472.85L192.1,472.85L192.1,472.94L192.6,472.94L192.6,473.14L193.1,473.14L193.1,473.43L193.6,473.43L193.6,473.39L194.1,473.39L194.1,473.25L194.6,473.25L194.6,473.29L195.1,473.29L195.1,473.51L195.6,473.51L195.6,473.08L196.1,473.08L196.1,473.20L196.6,473.20L196.6,473.33L197.1,473.33L197.1,474.55L197.6,474.55L197.6,473.13L198.1,473.13L198.1,473.25L198.6,473.25L198.6,473.06L199.1,473.06L199.1,473.43L199.6,473.43L199.6,473.40L200.1,473.40L200.1,474.55L200.6,474.55L200.6,472.97L201.1,472.97L201.1,474.55L202.1,474.55L202.1,473.52L202.6,473.52L202.6,474.55L203.1,474.55L203.1,472.89L203.6,472.89L203.6,472.83L204.1,472.83L204.1,472.00L204.6,472.00L204.6,472.25L205.1,472.25L205.1,472.12L205.6,472.12L205.6,472.30L206.1,472.30L206.1,474.55L206.6,474.55L206.6,472.66L207.1,472.66L207.1,472.60L207.6,472.60L207.6,472.78L208.1,472.78L208.1,472.63L208.6,472.63L208.6,472.22L209.1,472.22L209.1,474.55L210.1,474.55L210.1,473.34L210.6,473.34L210.6,474.55L211.1,474.55L211.1,473.60L211.6,473.60L211.6,473.15L212.1,473.15L212.1,474.55L213.6,474.55L213.6,473.63L214.1,473.63L214.1,474.55L215.1,474.55L215.1,473.55L215.6,473.55L215.6,474.55L217.6,474.55L217.6,473.05L218.1,473.05L218.1,474.55L219.1,474.55L219.1,473.27L219.6,473.27L219.6,474.55L221.1,474.55L221.1,473.14L221.6,473.14L221.6,474.55L222.6,474.55L222.6,473.08L223.1,473.08L223.1,474.55L224.1,474.55L224.1,473.18L224.6,473.18L224.6,474.55L227.1,474.55L227.1,473.53L227.6,473.53L227.6,474.55L229.1,474.55L229.1,473.11L229.6,473.11L229.6,474.55L230.6,474.55L230.6,473.60L231.1,473.60L231.1,474.55L231.6,474.55L231.6,473.47L232.1,473.47L232.1,473.32L232.6,473.32L232.6,473.60L233.1,473.60L233.1,473.61L233.6,473.61L233.6,473.15L234.1,473.15L234.1,474.55L235.6,474.55L235.6,473.07L236.1,473.07L236.1,473.38L236.6,473.38L236.6,474.55L239.6,474.55L239.6,473.37L240.1,473.37L240.1,474.55L241.1,474.55L241.1,473.52L241.6,473.52L241.6,474.55L242.6,474.55L242.6,473.26L243.1,473.26L243.1,474.55L245.1,474.55L245.1,473.21L245.6,473.21L245.6,474.55L248.1,474.55L248.1,472.91L248.6,472.91L248.6,474.55L251.6,474.55L251.6,473.67L252.1,473.67L252.1,474.55L253.6,474.55L253.6,472.93L254.1,472.93L254.1,474.55L255.1,474.55L255.1,472.86L255.6,472.86L255.6,473.41L256.1,473.41L256.1,474.55L257.1,474.55L257.1,473.08L257.6,473.08L257.6,474.55L258.1,474.55L258.1,473.00L258.6,473.00L258.6,473.15L259.1,473.15L259.1,474.55L261.1,474.55L261.1,473.45L261.6,473.45L261.6,474.55L262.6,474.55L262.6,473.17L263.1,473.17L263.1,474.55L265.1,474.55L265.1,472.95L265.6,472.95L265.6,473.61L266.1,473.61L266.1,474.55L266.6,474.55L266.6,473.29L267.1,473.29L267.1,474.55L268.1,474.55L268.1,473.68L268.6,473.68L268.6,474.55L269.6,474.55L269.6,472.98L270.1,472.98L270.1,473.04L270.6,473.04L270.6,474.55L272.6,474.55L272.6,473.66L273.1,473.66L273.1,474.55L273.6,474.55L273.6,473.07L274.1,473.07L274.1,474.55L274.6,474.55L274.6,473.11L275.1,473.11L275.1,473.59L275.6,473.59L275.6,473.25L276.1,473.25L276.1,473.11L276.6,473.11L276.6,474.55L281.1,474.55L281.1,473.41L281.6,473.41L281.6,474.55L284.1,474.55L284.1,473.27L284.6,473.27L284.6,474.55L285.1,474.55L285.1,472.87L285.6,472.87L285.6,473.16L286.1,473.16L286.1,473.27L286.6,473.27L286.6,473.64L287.1,473.64L287.1,474.55L287.6,474.55L287.6,473.60L288.1,473.60L288.1,472.98L288.6,472.98L288.6,474.55L289.5,474.55L289.5,474.6Z" fill="#dc2b5e"/>
<path d="M317.3,458.6L317.3,458.60L317.3,458.60L320.3,458.60L320.3,457.28L320.8,457.28L320.8,457.55L321.3,457.55L321.3,457.44L321.8,457.44L321.8,457.46L322.3,457.46L322.3,457.33L322.8,457.33L322.8,458.60L328.3,458.60L328.3,457.41L328.8,457.41L328.8,457.08L329.3,457.08L329.3,456.72L329.8,456.72L329.8,457.04L330.3,457.04L330.3,458.60L330.8,458.60L330.8,457.16L331.3,457.16L331.3,457.36L331.8,457.36L331.8,456.94L332.3,456.94L332.3,458.60L336.8,458.60L336.8,457.39L337.3,457.39L337.3,457.60L337.8,457.60L337.8,457.27L338.3,457.27L338.3,457.52L338.8,457.52L338.8,457.45L339.3,457.45L339.3,458.60L346.8,458.60L346.8,457.41L347.3,457.41L347.3,457.28L347.8,457.28L347.8,457.69L348.3,457.69L348.3,457.11L348.8,457.11L348.8,457.23L349.3,457.23L349.3,458.60L350.3,458.60L350.3,457.39L350.8,457.39L350.8,458.60L354.8,458.60L354.8,457.13L355.3,457.13L355.3,457.54L355.8,457.54L355.8,458.60L359.8,458.60L359.8,457.77L360.3,457.77L360.3,457.70L360.8,457.70L360.8,457.64L361.3,457.64L361.3,457.89L361.8,457.89L361.8,458.60L365.8,458.60L365.8,456.26L366.3,456.26L366.3,458.60L367.3,458.60L367.3,456.68L367.8,456.68L367.8,456.18L368.3,456.18L368.3,456.57L368.8,456.57L368.8,456.62L369.3,456.62L369.3,458.60L370.3,458.60L370.3,455.90L370.8,455.90L370.8,456.92L371.3,456.92L371.3,456.30L371.8,456.30L371.8,456.14L372.3,456.14L372.3,458.60L373.3,458.60L373.3,454.61L373.8,454.61L373.8,454.87L374.3,454.87L374.3,458.60L375.8,458.60L375.8,455.93L376.3,455.93L376.3,455.16L376.8,455.16L376.8,454.67L377.3,454.67L377.3,454.93L377.8,454.93L377.8,458.60L378.3,458.60L378.3,455.13L378.8,455.13L378.8,452.10L379.8,452.10L379.8,458.60L380.8,458.60L380.8,455.05L381.3,455.05L381.3,446.60L382.3,446.60L382.3,458.60L382.8,458.60L382.8,449.60L383.8,449.60L383.8,451.56L384.3,451.56L384.3,452.43L384.8,452.43L384.8,450.71L385.3,450.71L385.3,455.69L385.8,455.69L385.8,454.94L386.3,454.94L386.3,455.96L386.8,455.96L386.8,455.94L387.3,455.94L387.3,458.60L387.8,458.60L387.8,456.44L388.3,456.44L388.3,456.07L388.8,456.07L388.8,456.52L389.3,456.52L389.3,455.10L390.3,455.10L390.3,458.60L396.3,458.60L396.3,456.48L396.8,456.48L396.8,456.39L397.3,456.39L397.3,458.60L397.8,458.60L397.8,456.42L398.3,456.42L398.3,457.14L398.8,457.14L398.8,458.60L399.3,458.60L399.3,456.36L399.8,456.36L399.8,458.60L401.8,458.60L401.8,456.32L402.3,456.32L402.3,457.12L402.8,457.12L402.8,456.67L403.3,456.67L403.3,457.11L403.8,457.11L403.8,456.35L404.3,456.35L404.3,456.60L404.8,456.60L404.8,456.96L405.3,456.96L405.3,458.60L406.8,458.60L406.8,457.86L407.3,457.86L407.3,458.60L413.3,458.60L413.3,458.08L413.8,458.08L413.8,458.60L419.8,458.60L419.8,457.97L420.3,457.97L420.3,458.60L429.3,458.60L429.3,457.62L429.8,457.62L429.8,458.09L430.3,458.09L430.3,458.60L432.3,458.60L432.3,457.73L432.8,457.73L432.8,458.60L437.8,458.60L437.8,457.86L438.3,457.86L438.3,458.60L439.8,458.60L439.8,457.75L440.3,457.75L440.3,458.60L461.3,458.60L461.3,457.93L461.8,457.93L461.8,458.60L464.8,458.60L464.8,457.91L465.3,457.91L465.3,457.84L465.8,457.84L465.8,458.60L469.8,458.60L469.8,457.65L470.3,457.65L470.3,458.60L472.8,458.60L472.8,457.94L473.3,457.94L473.3,458.60L479.3,458.60L479.3,458.06L479.8,458.06L479.8,458.08L480.3,458.08L480.3,458.60L483.3,458.60L483.3,457.66L483.8,457.66L483.8,458.60L486.8,458.60L486.8,457.94L487.3,457.94L487.3,458.60L487.8,458.60L487.8,456.89L488.3,456.89L488.3,456.12L488.8,456.12L488.8,458.60L489.3,458.60L489.3,456.40L489.4,456.40L489.4,458.6Z" fill="#2020ee"/>
<path d="M317.3,475.2L317.3,475.20L317.3,475.20L325.8,475.20L325.8,474.53L326.3,474.53L326.3,475.20L338.3,475.20L338.3,474.52L338.8,474.52L338.8,475.20L339.8,475.20L339.8,474.25L340.3,474.25L340.3,475.20L343.8,475.20L343.8,474.60L344.3,474.60L344.3,475.20L348.8,475.20L348.8,474.58L349.3,474.58L349.3,475.20L350.8,475.20L350.8,474.26L351.3,474.26L351.3,475.20L353.3,475.20L353.3,474.56L353.8,474.56L353.8,475.20L356.8,475.20L356.8,474.53L357.3,474.53L357.3,475.20L359.8,475.20L359.8,474.26L360.3,474.26L360.3,475.20L363.8,475.20L363.8,474.54L364.3,474.54L364.3,475.20L367.8,475.20L367.8,474.20L368.3,474.20L368.3,474.29L368.8,474.29L368.8,475.20L370.3,475.20L370.3,474.58L370.8,474.58L370.8,474.55L371.3,474.55L371.3,475.20L371.8,475.20L371.8,474.40L372.3,474.40L372.3,474.15L372.8,474.15L372.8,474.46L373.3,474.46L373.3,474.42L373.8,474.42L373.8,474.06L374.3,474.06L374.3,475.20L374.8,475.20L374.8,473.94L375.3,473.94L375.3,473.90L375.8,473.90L375.8,474.28L376.3,474.28L376.3,475.20L377.3,475.20L377.3,474.22L377.8,474.22L377.8,474.09L378.3,474.09L378.3,473.64L378.8,473.64L378.8,474.05L379.3,474.05L379.3,475.20L380.8,475.20L380.8,473.35L381.3,473.35L381.3,473.47L381.8,473.47L381.8,472.70L382.8,472.70L382.8,473.21L383.3,473.21L383.3,473.56L383.8,473.56L383.8,473.19L384.3,473.19L384.3,475.20L384.8,475.20L384.8,472.20L385.8,472.20L385.8,473.92L386.3,473.92L386.3,474.59L386.8,474.59L386.8,474.11L387.3,474.11L387.3,475.20L388.3,475.20L388.3,473.82L388.8,473.82L388.8,473.79L389.3,473.79L389.3,474.39L389.8,474.39L389.8,474.46L390.3,474.46L390.3,475.20L391.8,475.20L391.8,474.32L392.3,474.32L392.3,475.20L393.3,475.20L393.3,474.59L393.8,474.59L393.8,475.20L395.3,475.20L395.3,474.32L395.8,474.32L395.8,475.20L396.8,475.20L396.8,474.29L397.3,474.29L397.3,475.20L398.8,475.20L398.8,474.59L399.3,474.59L399.3,475.20L400.3,475.20L400.3,474.43L400.8,474.43L400.8,474.04L401.3,474.04L401.3,474.10L401.8,474.10L401.8,475.20L402.3,475.20L402.3,473.98L402.8,473.98L402.8,474.60L403.3,474.60L403.3,475.20L403.8,475.20L403.8,474.45L404.3,474.45L404.3,474.35L404.8,474.35L404.8,475.20L405.8,475.20L405.8,474.43L406.3,474.43L406.3,474.47L406.8,474.47L406.8,474.12L407.3,474.12L407.3,475.20L408.3,475.20L408.3,474.58L408.8,474.58L408.8,475.20L409.8,475.20L409.8,474.03L410.3,474.03L410.3,475.20L410.8,475.20L410.8,474.40L411.3,474.40L411.3,475.20L411.8,475.20L411.8,473.93L412.3,473.93L412.3,474.44L412.8,474.44L412.8,475.20L413.3,475.20L413.3,474.25L413.8,474.25L413.8,475.20L416.8,475.20L416.8,474.63L417.3,474.63L417.3,475.20L428.3,475.20L428.3,474.49L428.8,474.49L428.8,475.20L433.3,475.20L433.3,474.45L433.8,474.45L433.8,475.20L438.3,475.20L438.3,474.39L438.8,474.39L438.8,475.20L459.3,475.20L459.3,474.67L459.8,474.67L459.8,475.20L460.8,475.20L460.8,474.60L461.3,474.60L461.3,474.64L461.8,474.64L461.8,474.56L462.3,474.56L462.3,475.20L466.8,475.20L466.8,474.61L467.3,474.61L467.3,475.20L471.3,475.20L471.3,474.23L471.8,474.23L471.8,475.20L475.3,475.20L475.3,474.51L475.8,474.51L475.8,475.20L479.3,475.20L479.3,474.63L479.8,474.63L479.8,474.37L480.3,474.37L480.3,475.20L480.8,475.20L480.8,474.21L481.3,474.21L481.3,474.30L481.8,474.30L481.8,475.20L482.8,475.20L482.8,474.38L483.3,474.38L483.3,475.20L489.4,475.20L489.4,475.2Z" fill="#dc2b5e"/>
<path d="M100.6,490.6L100.6,490.56L100.6,490.56L103.6,490.56L103.6,490.03L104.1,490.03L104.1,490.04L104.6,490.04L104.6,490.56L106.6,490.56L106.6,489.96L107.1,489.96L107.1,490.56L117.6,490.56L117.6,489.77L118.1,489.77L118.1,490.56L120.1,490.56L120.1,489.85L120.6,489.85L120.6,490.56L127.1,490.56L127.1,490.02L127.6,490.02L127.6,489.96L128.1,489.96L128.1,490.56L133.1,490.56L133.1,488.73L133.6,488.73L133.6,488.74L134.1,488.74L134.1,489.02L134.6,489.02L134.6,490.56L137.1,490.56L137.1,489.26L137.6,489.26L137.6,488.64L138.1,488.64L138.1,488.74L138.6,488.74L138.6,490.56L141.1,490.56L141.1,489.77L141.6,489.77L141.6,490.56L142.1,490.56L142.1,489.07L142.6,489.07L142.6,490.56L143.1,490.56L143.1,489.86L143.6,489.86L143.6,490.56L146.1,490.56L146.1,489.00L146.6,489.00L146.6,488.32L147.1,488.32L147.1,488.26L147.6,488.26L147.6,489.14L148.1,489.14L148.1,490.56L152.1,490.56L152.1,488.42L152.6,488.42L152.6,490.56L153.1,490.56L153.1,488.59L153.6,488.59L153.6,488.00L154.1,488.00L154.1,487.61L154.6,487.61L154.6,488.29L155.1,488.29L155.1,488.04L155.6,488.04L155.6,487.88L156.1,487.88L156.1,490.56L157.1,490.56L157.1,488.67L157.6,488.67L157.6,488.22L158.1,488.22L158.1,488.12L158.6,488.12L158.6,490.56L159.1,490.56L159.1,488.51L159.6,488.51L159.6,489.68L160.1,489.68L160.1,490.56L161.6,490.56L161.6,489.83L162.1,489.83L162.1,487.96L162.6,487.96L162.6,487.94L163.1,487.94L163.1,488.12L163.6,488.12L163.6,488.35L164.1,488.35L164.1,487.89L164.6,487.89L164.6,490.56L169.6,490.56L169.6,486.10L170.1,486.10L170.1,490.56L170.6,490.56L170.6,485.53L171.1,485.53L171.1,490.56L172.1,490.56L172.1,485.29L172.6,485.29L172.6,487.46L173.1,487.46L173.1,490.56L174.1,490.56L174.1,484.30L174.6,484.30L174.6,485.97L175.1,485.97L175.1,486.14L175.6,486.14L175.6,485.07L176.1,485.07L176.1,483.56L177.1,483.56L177.1,490.56L178.1,490.56L178.1,489.62L178.6,489.62L178.6,478.06L179.6,478.06L179.6,490.56L180.1,490.56L180.1,487.91L180.6,487.91L180.6,487.39L181.1,487.39L181.1,487.83L181.6,487.83L181.6,486.88L182.1,486.88L182.1,490.56L184.6,490.56L184.6,489.95L185.1,489.95L185.1,489.82L185.6,489.82L185.6,489.79L186.1,489.79L186.1,489.58L186.6,489.58L186.6,490.56L189.6,490.56L189.6,489.68L190.1,489.68L190.1,490.56L190.6,490.56L190.6,489.00L191.1,489.00L191.1,488.24L191.6,488.24L191.6,490.56L192.1,490.56L192.1,488.35L192.6,488.35L192.6,490.56L193.1,490.56L193.1,488.37L193.6,488.37L193.6,488.32L194.1,488.32L194.1,489.03L194.6,489.03L194.6,490.56L195.1,490.56L195.1,488.12L195.6,488.12L195.6,488.55L196.1,488.55L196.1,488.46L196.6,488.46L196.6,488.82L197.1,488.82L197.1,488.99L197.6,488.99L197.6,488.35L198.1,488.35L198.1,490.56L198.6,490.56L198.6,488.95L199.1,488.95L199.1,489.06L199.6,489.06L199.6,488.79L200.1,488.79L200.1,487.46L200.6,487.46L200.6,488.28L201.1,488.28L201.1,490.56L201.6,490.56L201.6,487.42L202.1,487.42L202.1,490.56L202.6,490.56L202.6,487.37L203.1,487.37L203.1,487.74L203.6,487.74L203.6,486.76L204.6,486.76L204.6,487.66L205.1,487.66L205.1,487.99L205.6,487.99L205.6,487.20L206.1,487.20L206.1,487.98L206.6,487.98L206.6,487.12L207.1,487.12L207.1,487.28L207.6,487.28L207.6,487.30L208.1,487.30L208.1,487.23L208.6,487.23L208.6,490.56L209.6,490.56L209.6,487.77L210.1,487.77L210.1,490.56L211.1,490.56L211.1,489.38L211.6,489.38L211.6,490.56L213.1,490.56L213.1,489.16L213.6,489.16L213.6,489.55L214.1,489.55L214.1,489.37L214.6,489.37L214.6,490.56L215.6,490.56L215.6,489.10L216.1,489.10L216.1,489.09L216.6,489.09L216.6,489.08L217.1,489.08L217.1,489.73L217.6,489.73L217.6,489.30L218.1,489.30L218.1,490.56L218.6,490.56L218.6,489.81L219.1,489.81L219.1,490.56L225.1,490.56L225.1,489.88L225.6,489.88L225.6,490.56L241.6,490.56L241.6,489.95L242.1,489.95L242.1,490.56L248.1,490.56L248.1,489.91L248.6,489.91L248.6,490.56L251.6,490.56L251.6,489.88L252.1,489.88L252.1,489.88L252.6,489.88L252.6,490.56L257.6,490.56L257.6,489.97L258.1,489.97L258.1,490.56L259.6,490.56L259.6,489.82L260.1,489.82L260.1,490.00L260.6,490.00L260.6,489.63L261.1,489.63L261.1,490.56L263.1,490.56L263.1,489.78L263.6,489.78L263.6,490.56L265.6,490.56L265.6,490.01L266.1,490.01L266.1,490.56L274.6,490.56L274.6,489.90L275.1,489.90L275.1,490.56L289.5,490.56L289.5,490.6Z" fill="#2020ee"/>
<path d="M100.6,507.4L100.6,507.39L100.6,507.39L108.1,507.39L108.1,506.20L108.6,506.20L108.6,506.69L109.1,506.69L109.1,507.39L112.6,507.39L112.6,506.46L113.1,506.46L113.1,507.39L119.1,507.39L119.1,506.51L119.6,506.51L119.6,507.39L120.1,507.39L120.1,506.16L120.6,506.16L120.6,507.39L121.6,507.39L121.6,505.59L122.6,505.59L122.6,507.39L123.6,507.39L123.6,506.64L124.1,506.64L124.1,507.39L127.6,507.39L127.6,506.31L128.1,506.31L128.1,506.53L128.6,506.53L128.6,506.32L129.1,506.32L129.1,507.39L129.6,507.39L129.6,506.21L130.1,506.21L130.1,507.39L132.6,507.39L132.6,506.20L133.1,506.20L133.1,506.19L133.6,506.19L133.6,507.39L136.6,507.39L136.6,506.55L137.1,506.55L137.1,507.39L142.6,507.39L142.6,506.56L143.1,506.56L143.1,507.39L145.6,507.39L145.6,506.66L146.1,506.66L146.1,507.39L147.6,507.39L147.6,506.57L148.1,506.57L148.1,507.39L149.1,507.39L149.1,506.66L149.6,506.66L149.6,507.39L150.1,507.39L150.1,505.85L150.6,505.85L150.6,505.05L151.1,505.05L151.1,505.91L151.6,505.91L151.6,505.27L152.1,505.27L152.1,505.22L152.6,505.22L152.6,506.23L153.1,506.23L153.1,505.35L153.6,505.35L153.6,505.64L154.1,505.64L154.1,505.72L154.6,505.72L154.6,505.72L155.1,505.72L155.1,506.00L155.6,506.00L155.6,505.26L156.1,505.26L156.1,505.93L156.6,505.93L156.6,505.79L157.1,505.79L157.1,506.71L157.6,506.71L157.6,505.11L158.1,505.11L158.1,505.42L158.6,505.42L158.6,505.49L159.1,505.49L159.1,507.39L160.1,507.39L160.1,505.31L160.6,505.31L160.6,505.44L161.1,505.44L161.1,505.66L161.6,505.66L161.6,507.39L162.1,507.39L162.1,504.90L162.6,504.90L162.6,505.37L163.1,505.37L163.1,507.39L163.6,507.39L163.6,505.02L164.1,505.02L164.1,505.95L164.6,505.95L164.6,505.94L165.1,505.94L165.1,505.13L165.6,505.13L165.6,504.96L166.1,504.96L166.1,505.96L166.6,505.96L166.6,507.39L167.1,507.39L167.1,506.00L167.6,506.00L167.6,505.37L168.1,505.37L168.1,505.86L168.6,505.86L168.6,507.39L169.1,507.39L169.1,505.27L169.6,505.27L169.6,506.00L170.1,506.00L170.1,505.04L170.6,505.04L170.6,505.73L171.1,505.73L171.1,505.39L171.6,505.39L171.6,505.62L172.1,505.62L172.1,505.63L172.6,505.63L172.6,505.56L173.1,505.56L173.1,506.01L173.6,506.01L173.6,505.53L174.1,505.53L174.1,505.72L174.6,505.72L174.6,505.61L175.1,505.61L175.1,505.83L175.6,505.83L175.6,505.64L176.1,505.64L176.1,505.23L176.6,505.23L176.6,504.91L177.1,504.91L177.1,507.39L177.6,507.39L177.6,505.04L178.1,505.04L178.1,505.32L178.6,505.32L178.6,507.39L179.1,507.39L179.1,506.62L179.6,506.62L179.6,505.02L180.1,505.02L180.1,505.75L180.6,505.75L180.6,505.90L181.1,505.90L181.1,505.28L181.6,505.28L181.6,505.22L182.1,505.22L182.1,505.01L182.6,505.01L182.6,505.45L183.1,505.45L183.1,507.39L184.6,507.39L184.6,506.23L185.1,506.23L185.1,507.39L191.1,507.39L191.1,506.24L191.6,506.24L191.6,507.39L193.6,507.39L193.6,506.11L194.1,506.11L194.1,507.39L196.6,507.39L196.6,506.49L197.1,506.49L197.1,507.39L199.6,507.39L199.6,506.71L200.1,506.71L200.1,505.58L200.6,505.58L200.6,505.90L201.1,505.90L201.1,505.33L201.6,505.33L201.6,505.53L202.1,505.53L202.1,507.39L202.6,507.39L202.6,505.37L203.1,505.37L203.1,506.02L203.6,506.02L203.6,505.74L204.1,505.74L204.1,505.53L204.6,505.53L204.6,505.18L205.1,505.18L205.1,506.21L205.6,506.21L205.6,505.93L206.1,505.93L206.1,505.83L206.6,505.83L206.6,507.39L207.1,507.39L207.1,505.97L207.6,505.97L207.6,507.39L208.1,507.39L208.1,505.87L208.6,505.87L208.6,505.60L209.1,505.60L209.1,505.20L209.6,505.20L209.6,505.14L210.1,505.14L210.1,505.96L210.6,505.96L210.6,507.39L211.6,507.39L211.6,505.97L212.1,505.97L212.1,506.55L212.6,506.55L212.6,507.39L213.1,507.39L213.1,506.24L213.6,506.24L213.6,506.73L214.1,506.73L214.1,507.39L217.1,507.39L217.1,506.72L217.6,506.72L217.6,507.39L218.6,507.39L218.6,506.35L219.1,506.35L219.1,507.39L219.6,507.39L219.6,506.30L220.1,506.30L220.1,507.39L222.1,507.39L222.1,506.37L222.6,506.37L222.6,507.39L224.1,507.39L224.1,506.39L224.6,506.39L224.6,507.39L225.6,507.39L225.6,506.35L226.1,506.35L226.1,507.39L227.1,507.39L227.1,506.65L227.6,506.65L227.6,507.39L231.6,507.39L231.6,506.70L232.1,506.70L232.1,507.39L233.1,507.39L233.1,506.51L233.6,506.51L233.6,507.39L239.6,507.39L239.6,506.38L240.1,506.38L240.1,507.39L241.6,507.39L241.6,506.58L242.1,506.58L242.1,507.39L246.1,507.39L246.1,506.62L246.6,506.62L246.6,507.39L248.1,507.39L248.1,506.45L248.6,506.45L248.6,507.39L250.6,507.39L250.6,506.47L251.1,506.47L251.1,507.39L252.1,507.39L252.1,506.57L252.6,506.57L252.6,507.39L253.1,507.39L253.1,506.14L253.6,506.14L253.6,506.13L254.1,506.13L254.1,507.39L259.6,507.39L259.6,506.71L260.1,506.71L260.1,507.39L263.6,507.39L263.6,506.43L264.1,506.43L264.1,507.39L267.1,507.39L267.1,506.59L267.6,506.59L267.6,507.39L268.1,507.39L268.1,506.52L268.6,506.52L268.6,507.39L271.6,507.39L271.6,506.72L272.1,506.72L272.1,507.39L275.1,507.39L275.1,506.69L275.6,506.69L275.6,507.39L278.1,507.39L278.1,506.72L278.6,506.72L278.6,506.66L279.1,506.66L279.1,507.39L279.6,507.39L279.6,506.32L280.1,506.32L280.1,507.39L282.1,507.39L282.1,506.69L282.6,506.69L282.6,506.16L283.1,506.16L283.1,507.39L283.6,507.39L283.6,506.22L284.1,506.22L284.1,506.56L284.6,506.56L284.6,507.39L288.1,507.39L288.1,506.29L288.6,506.29L288.6,506.12L289.1,506.12L289.1,507.39L289.5,507.39L289.5,507.4Z" fill="#dc2b5e"/>
<path d="M317.3,491.2L317.3,491.25L317.3,491.25L319.3,491.25L319.3,490.48L319.8,490.48L319.8,491.25L323.3,491.25L323.3,490.30L323.8,490.30L323.8,491.25L324.3,491.25L324.3,490.45L324.8,490.45L324.8,491.25L326.3,491.25L326.3,490.60L326.8,490.60L326.8,491.25L331.8,491.25L331.8,489.31L332.3,489.31L332.3,489.62L332.8,489.62L332.8,489.64L333.3,489.64L333.3,489.95L333.8,489.95L333.8,489.57L334.3,489.57L334.3,489.81L334.8,489.81L334.8,489.66L335.3,489.66L335.3,489.79L335.8,489.79L335.8,490.08L336.3,490.08L336.3,491.25L336.8,491.25L336.8,489.53L337.3,489.53L337.3,489.29L337.8,489.29L337.8,491.25L338.3,491.25L338.3,490.42L338.8,490.42L338.8,491.25L339.3,491.25L339.3,490.23L339.8,490.23L339.8,489.85L340.3,489.85L340.3,490.12L340.8,490.12L340.8,489.87L341.3,489.87L341.3,490.39L341.8,490.39L341.8,490.30L342.3,490.30L342.3,489.78L342.8,489.78L342.8,491.25L348.8,491.25L348.8,490.59L349.3,490.59L349.3,490.47L349.8,490.47L349.8,491.25L351.3,491.25L351.3,490.43L351.8,490.43L351.8,490.62L352.3,490.62L352.3,490.46L352.8,490.46L352.8,490.50L353.3,490.50L353.3,490.32L353.8,490.32L353.8,490.67L354.3,490.67L354.3,490.70L354.8,490.70L354.8,490.47L355.3,490.47L355.3,490.51L355.8,490.51L355.8,491.25L358.3,491.25L358.3,489.74L358.8,489.74L358.8,490.12L359.3,490.12L359.3,489.27L359.8,489.27L359.8,489.58L360.3,489.58L360.3,491.25L360.8,491.25L360.8,489.59L361.3,489.59L361.3,489.77L361.8,489.77L361.8,489.35L362.3,489.35L362.3,491.25L362.8,491.25L362.8,489.76L363.3,489.76L363.3,489.89L363.8,489.89L363.8,490.02L364.3,490.02L364.3,491.25L367.3,491.25L367.3,487.26L367.8,487.26L367.8,487.05L368.3,487.05L368.3,488.32L368.8,488.32L368.8,491.25L369.3,491.25L369.3,488.13L369.8,488.13L369.8,487.91L370.3,487.91L370.3,486.84L370.8,486.84L370.8,488.26L371.3,488.26L371.3,491.25L371.8,491.25L371.8,488.00L372.3,488.00L372.3,488.20L372.8,488.20L372.8,489.05L373.3,489.05L373.3,491.25L374.3,491.25L374.3,487.86L374.8,487.86L374.8,488.61L375.3,488.61L375.3,488.35L375.8,488.35L375.8,491.25L377.8,491.25L377.8,488.00L378.3,488.00L378.3,491.25L378.8,491.25L378.8,487.70L379.3,487.70L379.3,487.39L379.8,487.39L379.8,488.06L380.3,488.06L380.3,491.25L380.8,491.25L380.8,484.88L381.3,484.88L381.3,483.25L381.8,483.25L381.8,482.89L382.3,482.89L382.3,484.49L382.8,484.49L382.8,482.37L383.3,482.37L383.3,481.75L384.3,481.75L384.3,491.25L384.8,491.25L384.8,486.87L385.3,486.87L385.3,486.93L385.8,486.93L385.8,491.25L387.8,491.25L387.8,487.64L388.3,487.64L388.3,487.51L388.8,487.51L388.8,489.01L389.3,489.01L389.3,489.02L389.8,489.02L389.8,487.91L390.3,487.91L390.3,488.45L390.8,488.45L390.8,491.25L398.3,491.25L398.3,488.18L398.8,488.18L398.8,488.09L399.3,488.09L399.3,488.43L399.8,488.43L399.8,488.18L400.3,488.18L400.3,491.25L401.3,491.25L401.3,488.48L401.8,488.48L401.8,489.32L402.3,489.32L402.3,491.25L402.8,491.25L402.8,489.93L403.3,489.93L403.3,489.58L403.8,489.58L403.8,490.07L404.3,490.07L404.3,490.43L404.8,490.43L404.8,489.51L405.3,489.51L405.3,491.25L406.8,491.25L406.8,490.47L407.3,490.47L407.3,491.25L417.3,491.25L417.3,490.46L417.8,490.46L417.8,491.25L424.3,491.25L424.3,490.38L424.8,490.38L424.8,491.25L426.8,491.25L426.8,490.68L427.3,490.68L427.3,491.25L429.3,491.25L429.3,490.37L429.8,490.37L429.8,491.25L439.3,491.25L439.3,490.44L439.8,490.44L439.8,491.25L444.3,491.25L444.3,490.41L444.8,490.41L444.8,491.25L445.8,491.25L445.8,490.55L446.3,490.55L446.3,491.25L447.8,491.25L447.8,490.71L448.3,490.71L448.3,490.29L448.8,490.29L448.8,491.25L450.3,491.25L450.3,490.34L450.8,490.34L450.8,491.25L452.8,491.25L452.8,490.26L453.3,490.26L453.3,491.25L469.3,491.25L469.3,490.52L469.8,490.52L469.8,490.31L470.3,490.31L470.3,489.40L470.8,489.40L470.8,491.25L471.3,491.25L471.3,489.39L471.8,489.39L471.8,489.44L472.3,489.44L472.3,489.36L472.8,489.36L472.8,489.90L473.3,489.90L473.3,489.83L473.8,489.83L473.8,489.58L474.3,489.58L474.3,489.63L474.8,489.63L474.8,489.45L475.3,489.45L475.3,491.25L475.8,491.25L475.8,490.31L476.3,490.31L476.3,491.25L476.8,491.25L476.8,490.48L477.3,490.48L477.3,491.25L484.8,491.25L484.8,490.30L485.3,490.30L485.3,489.93L485.8,489.93L485.8,489.90L486.3,489.90L486.3,489.96L486.8,489.96L486.8,490.10L487.3,490.10L487.3,490.00L487.8,490.00L487.8,489.84L488.3,489.84L488.3,490.07L488.8,490.07L488.8,489.96L489.3,489.96L489.3,491.25L489.4,491.25L489.4,491.2Z" fill="#2020ee"/>
<path d="M317.3,507.9L317.3,507.88L317.3,507.88L317.8,507.88L317.8,506.66L318.3,506.66L318.3,506.76L318.8,506.76L318.8,507.88L321.8,507.88L321.8,506.78L322.3,506.78L322.3,507.05L322.8,507.05L322.8,507.88L323.8,507.88L323.8,506.66L324.3,506.66L324.3,507.88L324.8,507.88L324.8,506.67L325.3,506.67L325.3,507.88L326.3,507.88L326.3,506.78L326.8,506.78L326.8,507.88L328.8,507.88L328.8,506.96L329.3,506.96L329.3,507.88L330.3,507.88L330.3,507.01L330.8,507.01L330.8,507.88L331.3,507.88L331.3,506.51L331.8,506.51L331.8,506.54L332.3,506.54L332.3,506.60L332.8,506.60L332.8,507.05L333.3,507.05L333.3,507.88L333.8,507.88L333.8,506.89L334.3,506.89L334.3,507.88L337.3,507.88L337.3,506.50L337.8,506.50L337.8,507.88L338.3,507.88L338.3,506.83L338.8,506.83L338.8,507.88L339.8,507.88L339.8,506.74L340.3,506.74L340.3,507.88L341.8,507.88L341.8,506.84L342.3,506.84L342.3,507.88L343.8,507.88L343.8,506.68L344.3,506.68L344.3,507.88L344.8,507.88L344.8,506.96L345.3,506.96L345.3,507.88L347.3,507.88L347.3,506.95L347.8,506.95L347.8,507.88L348.3,507.88L348.3,506.83L348.8,506.83L348.8,506.54L349.3,506.54L349.3,506.96L349.8,506.96L349.8,506.75L350.3,506.75L350.3,507.88L351.3,507.88L351.3,506.99L351.8,506.99L351.8,507.88L354.3,507.88L354.3,506.70L354.8,506.70L354.8,507.88L355.3,507.88L355.3,506.87L355.8,506.87L355.8,506.77L356.3,506.77L356.3,507.88L356.8,507.88L356.8,506.47L357.3,506.47L357.3,506.48L357.8,506.48L357.8,507.88L358.3,507.88L358.3,506.47L358.8,506.47L358.8,507.88L359.3,507.88L359.3,506.39L359.8,506.39L359.8,507.02L360.3,507.02L360.3,507.88L361.3,507.88L361.3,506.79L361.8,506.79L361.8,507.88L362.8,507.88L362.8,506.94L363.3,506.94L363.3,507.88L364.3,507.88L364.3,506.61L364.8,506.61L364.8,507.01L365.3,507.01L365.3,506.60L365.8,506.60L365.8,507.04L366.3,507.04L366.3,506.78L366.8,506.78L366.8,506.47L367.3,506.47L367.3,506.85L367.8,506.85L367.8,507.88L368.3,507.88L368.3,505.86L368.8,505.86L368.8,506.11L369.3,506.11L369.3,506.42L369.8,506.42L369.8,506.09L370.3,506.09L370.3,505.52L370.8,505.52L370.8,507.88L371.3,507.88L371.3,505.19L371.8,505.19L371.8,507.88L372.3,507.88L372.3,505.43L372.8,505.43L372.8,505.54L373.3,505.54L373.3,507.88L373.8,507.88L373.8,504.34L374.3,504.34L374.3,505.14L374.8,505.14L374.8,504.29L375.3,504.29L375.3,503.90L375.8,503.90L375.8,504.94L376.3,504.94L376.3,505.40L376.8,505.40L376.8,504.23L377.3,504.23L377.3,504.74L377.8,504.74L377.8,503.22L378.3,503.22L378.3,504.70L378.8,504.70L378.8,503.30L379.3,503.30L379.3,507.88L379.8,507.88L379.8,502.88L380.8,502.88L380.8,502.43L381.3,502.43L381.3,502.97L381.8,502.97L381.8,502.68L382.3,502.68L382.3,504.19L382.8,504.19L382.8,500.58L383.8,500.58L383.8,504.02L384.3,504.02L384.3,503.70L384.8,503.70L384.8,503.22L385.3,503.22L385.3,503.70L385.8,503.70L385.8,501.88L386.8,501.88L386.8,503.71L387.3,503.71L387.3,504.19L387.8,504.19L387.8,504.36L388.3,504.36L388.3,505.32L388.8,505.32L388.8,504.54L389.3,504.54L389.3,505.16L389.8,505.16L389.8,505.93L390.3,505.93L390.3,505.43L390.8,505.43L390.8,505.72L391.3,505.72L391.3,505.99L391.8,505.99L391.8,506.28L392.3,506.28L392.3,507.88L393.3,507.88L393.3,506.55L393.8,506.55L393.8,507.88L394.3,507.88L394.3,506.65L394.8,506.65L394.8,506.74L395.3,506.74L395.3,506.93L395.8,506.93L395.8,507.88L396.3,507.88L396.3,506.93L396.8,506.93L396.8,506.42L397.3,506.42L397.3,507.88L398.8,507.88L398.8,506.55L399.3,506.55L399.3,507.88L400.3,507.88L400.3,505.10L400.8,505.10L400.8,504.38L401.8,504.38L401.8,504.77L402.3,504.77L402.3,504.89L402.8,504.89L402.8,507.88L403.3,507.88L403.3,505.77L403.8,505.77L403.8,504.63L404.3,504.63L404.3,505.21L404.8,505.21L404.8,505.46L405.3,505.46L405.3,504.82L405.8,504.82L405.8,504.38L406.8,504.38L406.8,505.79L407.3,505.79L407.3,504.74L407.8,504.74L407.8,505.23L408.3,505.23L408.3,505.56L408.8,505.56L408.8,505.17L409.3,505.17L409.3,507.88L409.8,507.88L409.8,504.38L410.8,504.38L410.8,504.86L411.3,504.86L411.3,504.84L411.8,504.84L411.8,505.57L412.3,505.57L412.3,507.88L412.8,507.88L412.8,506.85L413.3,506.85L413.3,506.84L413.8,506.84L413.8,507.88L414.3,507.88L414.3,506.41L414.8,506.41L414.8,507.88L415.3,507.88L415.3,506.86L415.8,506.86L415.8,507.88L416.3,507.88L416.3,506.98L416.8,506.98L416.8,507.88L417.8,507.88L417.8,506.66L418.3,506.66L418.3,506.69L418.8,506.69L418.8,506.81L419.3,506.81L419.3,506.60L419.8,506.60L419.8,507.88L422.3,507.88L422.3,506.49L422.8,506.49L422.8,507.05L423.3,507.05L423.3,507.88L425.8,507.88L425.8,506.52L426.3,506.52L426.3,506.48L426.8,506.48L426.8,507.88L428.3,507.88L428.3,507.00L428.8,507.00L428.8,506.84L429.3,506.84L429.3,506.44L429.8,506.44L429.8,506.62L430.3,506.62L430.3,507.88L430.8,507.88L430.8,506.98L431.3,506.98L431.3,507.88L431.8,507.88L431.8,506.63L432.3,506.63L432.3,507.88L434.8,507.88L434.8,506.39L435.3,506.39L435.3,506.75L435.8,506.75L435.8,506.64L436.3,506.64L436.3,507.88L438.3,507.88L438.3,506.44L438.8,506.44L438.8,507.88L440.8,507.88L440.8,506.50L441.3,506.50L441.3,507.88L442.8,507.88L442.8,506.67L443.3,506.67L443.3,507.88L444.8,507.88L444.8,506.98L445.3,506.98L445.3,507.88L445.8,507.88L445.8,506.89L446.3,506.89L446.3,506.88L446.8,506.88L446.8,507.88L447.8,507.88L447.8,506.80L448.3,506.80L448.3,507.88L449.3,507.88L449.3,506.98L449.8,506.98L449.8,506.86L450.3,506.86L450.3,507.88L451.3,507.88L451.3,506.88L451.8,506.88L451.8,507.88L452.8,507.88L452.8,506.57L453.3,506.57L453.3,507.04L453.8,507.04L453.8,507.88L455.3,507.88L455.3,506.42L455.8,506.42L455.8,507.88L456.8,507.88L456.8,506.98L457.3,506.98L457.3,506.55L457.8,506.55L457.8,506.97L458.3,506.97L458.3,507.88L458.8,507.88L458.8,506.92L459.3,506.92L459.3,506.40L459.8,506.40L459.8,507.88L465.8,507.88L465.8,506.41L466.3,506.41L466.3,506.57L466.8,506.57L466.8,506.81L467.3,506.81L467.3,507.88L469.3,507.88L469.3,506.72L469.8,506.72L469.8,507.88L473.8,507.88L473.8,506.54L474.3,506.54L474.3,507.88L477.3,507.88L477.3,506.78L477.8,506.78L477.8,506.74L478.3,506.74L478.3,506.91L478.8,506.91L478.8,507.88L479.3,507.88L479.3,506.46L479.8,506.46L479.8,507.88L480.8,507.88L480.8,506.86L481.3,506.86L481.3,507.88L482.8,507.88L482.8,506.41L483.3,506.41L483.3,507.88L483.8,507.88L483.8,506.59L484.3,506.59L484.3,507.88L484.8,507.88L484.8,507.01L485.3,507.01L485.3,506.97L485.8,506.97L485.8,506.50L486.3,506.50L486.3,507.88L489.4,507.88L489.4,507.9Z" fill="#dc2b5e"/>
<path d="M100.6,523.4L100.6,523.42L100.6,523.42L101.1,523.42L101.1,521.59L101.6,521.59L101.6,523.42L102.6,523.42L102.6,521.47L103.1,521.47L103.1,520.49L103.6,520.49L103.6,521.04L104.1,521.04L104.1,521.04L104.6,521.04L104.6,520.95L105.1,520.95L105.1,523.42L109.6,523.42L109.6,521.52L110.1,521.52L110.1,522.04L110.6,522.04L110.6,521.89L111.1,521.89L111.1,522.11L111.6,522.11L111.6,521.92L112.1,521.92L112.1,523.42L116.6,523.42L116.6,521.18L117.1,521.18L117.1,521.24L117.6,521.24L117.6,523.42L118.1,523.42L118.1,521.33L118.6,521.33L118.6,523.42L121.6,523.42L121.6,521.41L122.1,521.41L122.1,523.42L127.6,523.42L127.6,520.74L128.1,520.74L128.1,520.72L128.6,520.72L128.6,523.42L135.1,523.42L135.1,522.22L135.6,522.22L135.6,523.42L137.6,523.42L137.6,521.59L138.1,521.59L138.1,523.42L138.6,523.42L138.6,521.33L139.1,521.33L139.1,521.90L139.6,521.90L139.6,522.04L140.1,522.04L140.1,523.42L141.6,523.42L141.6,521.60L142.1,521.60L142.1,523.42L143.6,523.42L143.6,520.93L144.1,520.93L144.1,520.62L144.6,520.62L144.6,523.42L145.1,523.42L145.1,521.61L145.6,521.61L145.6,521.20L146.1,521.20L146.1,521.51L146.6,521.51L146.6,520.88L147.1,520.88L147.1,523.42L149.1,523.42L149.1,519.40L149.6,519.40L149.6,519.05L150.1,519.05L150.1,520.15L150.6,520.15L150.6,520.60L151.1,520.60L151.1,520.67L151.6,520.67L151.6,523.42L152.6,523.42L152.6,519.80L153.1,519.80L153.1,523.42L156.1,523.42L156.1,518.71L156.6,518.71L156.6,518.43L157.1,518.43L157.1,518.82L157.6,518.82L157.6,517.32L158.1,517.32L158.1,517.71L158.6,517.71L158.6,519.94L159.1,519.94L159.1,519.16L159.6,519.16L159.6,518.85L160.1,518.85L160.1,523.42L161.6,523.42L161.6,519.06L162.1,519.06L162.1,519.16L162.6,519.16L162.6,519.15L163.1,519.15L163.1,520.65L163.6,520.65L163.6,521.25L164.1,521.25L164.1,522.03L164.6,522.03L164.6,523.42L165.1,523.42L165.1,521.23L165.6,521.23L165.6,521.31L166.1,521.31L166.1,521.76L166.6,521.76L166.6,520.60L167.1,520.60L167.1,523.42L168.1,523.42L168.1,518.50L168.6,518.50L168.6,518.24L169.1,518.24L169.1,518.23L169.6,518.23L169.6,521.67L170.1,521.67L170.1,510.42L171.1,510.42L171.1,523.42L171.6,523.42L171.6,518.84L172.1,518.84L172.1,518.77L172.6,518.77L172.6,518.43L173.1,518.43L173.1,523.42L173.6,523.42L173.6,516.86L174.1,516.86L174.1,523.42L174.6,523.42L174.6,519.66L175.1,519.66L175.1,519.15L175.6,519.15L175.6,519.00L176.1,519.00L176.1,518.28L176.6,518.28L176.6,510.42L177.6,510.42L177.6,517.20L178.1,517.20L178.1,517.97L178.6,517.97L178.6,517.95L179.1,517.95L179.1,517.65L179.6,517.65L179.6,519.13L180.1,519.13L180.1,518.89L180.6,518.89L180.6,519.02L181.1,519.02L181.1,520.34L181.6,520.34L181.6,519.20L182.1,519.20L182.1,519.72L182.6,519.72L182.6,520.06L183.1,520.06L183.1,520.16L183.6,520.16L183.6,523.42L184.1,523.42L184.1,519.64L184.6,519.64L184.6,521.73L185.1,521.73L185.1,519.79L185.6,519.79L185.6,519.79L186.1,519.79L186.1,519.43L186.6,519.43L186.6,517.42L187.6,517.42L187.6,519.93L188.1,519.93L188.1,520.41L188.6,520.41L188.6,523.42L189.6,523.42L189.6,517.92L190.6,517.92L190.6,519.26L191.1,519.26L191.1,519.80L191.6,519.80L191.6,519.13L192.1,519.13L192.1,519.61L192.6,519.61L192.6,519.67L193.1,519.67L193.1,519.25L193.6,519.25L193.6,519.62L194.1,519.62L194.1,510.42L195.1,510.42L195.1,519.23L195.6,519.23L195.6,519.15L196.1,519.15L196.1,519.71L196.6,519.71L196.6,520.45L197.1,520.45L197.1,523.42L198.6,523.42L198.6,519.46L199.1,519.46L199.1,523.42L201.1,523.42L201.1,517.76L201.6,517.76L201.6,517.32L202.1,517.32L202.1,512.92L203.1,512.92L203.1,517.62L203.6,517.62L203.6,516.98L204.1,516.98L204.1,517.93L204.6,517.93L204.6,518.49L205.1,518.49L205.1,514.42L206.1,514.42L206.1,515.47L206.6,515.47L206.6,515.98L207.1,515.98L207.1,517.41L207.6,517.41L207.6,515.92L208.1,515.92L208.1,515.42L209.1,515.42L209.1,517.75L209.6,517.75L209.6,523.42L210.1,523.42L210.1,515.80L210.6,515.80L210.6,518.88L211.1,518.88L211.1,515.92L211.6,515.92L211.6,518.74L212.1,518.74L212.1,523.42L212.6,523.42L212.6,521.52L213.1,521.52L213.1,523.42L214.6,523.42L214.6,521.93L215.1,521.93L215.1,521.42L215.6,521.42L215.6,521.69L216.1,521.69L216.1,523.42L216.6,523.42L216.6,521.74L217.1,521.74L217.1,522.00L217.6,522.00L217.6,523.42L218.6,523.42L218.6,521.26L219.1,521.26L219.1,521.13L219.6,521.13L219.6,523.42L220.6,523.42L220.6,521.89L221.1,521.89L221.1,521.31L221.6,521.31L221.6,521.29L222.1,521.29L222.1,523.42L222.6,523.42L222.6,521.46L223.1,521.46L223.1,521.99L223.6,521.99L223.6,523.42L225.1,523.42L225.1,521.25L225.6,521.25L225.6,521.98L226.1,521.98L226.1,521.33L226.6,521.33L226.6,523.42L227.1,523.42L227.1,521.24L227.6,521.24L227.6,521.94L228.1,521.94L228.1,521.02L228.6,521.02L228.6,521.85L229.1,521.85L229.1,523.42L229.6,523.42L229.6,521.18L230.1,521.18L230.1,523.42L232.6,523.42L232.6,521.50L233.1,521.50L233.1,523.42L234.1,523.42L234.1,522.09L234.6,522.09L234.6,523.42L235.1,523.42L235.1,522.10L235.6,522.10L235.6,523.42L238.1,523.42L238.1,521.96L238.6,521.96L238.6,522.07L239.1,522.07L239.1,523.42L239.6,523.42L239.6,522.05L240.1,522.05L240.1,523.42L241.6,523.42L241.6,521.70L242.1,521.70L242.1,522.01L242.6,522.01L242.6,523.42L246.1,523.42L246.1,522.13L246.6,522.13L246.6,523.42L247.6,523.42L247.6,522.22L248.1,522.22L248.1,523.42L249.1,523.42L249.1,521.81L249.6,521.81L249.6,523.42L250.1,523.42L250.1,521.82L250.6,521.82L250.6,521.61L251.1,521.61L251.1,523.42L253.6,523.42L253.6,521.80L254.1,521.80L254.1,523.42L255.1,523.42L255.1,522.18L255.6,522.18L255.6,523.42L256.1,523.42L256.1,521.46L256.6,521.46L256.6,523.42L257.1,523.42L257.1,521.76L257.6,521.76L257.6,523.42L258.1,523.42L258.1,521.52L258.6,521.52L258.6,523.42L259.1,523.42L259.1,522.21L259.6,522.21L259.6,521.57L260.1,521.57L260.1,522.28L260.6,522.28L260.6,521.55L261.1,521.55L261.1,523.42L262.6,523.42L262.6,522.26L263.1,522.26L263.1,523.42L263.6,523.42L263.6,521.42L264.1,521.42L264.1,523.42L265.1,523.42L265.1,521.60L265.6,521.60L265.6,523.42L272.1,523.42L272.1,522.16L272.6,522.16L272.6,523.42L287.6,523.42L287.6,522.18L288.1,522.18L288.1,523.42L289.5,523.42L289.5,523.4Z" fill="#2020ee"/>
<path d="M100.6,540.2L100.6,540.23L100.6,540.23L102.6,540.23L102.6,538.23L103.6,538.23L103.6,540.23L106.6,540.23L106.6,537.92L107.1,537.92L107.1,538.18L107.6,538.18L107.6,540.23L109.6,540.23L109.6,538.59L110.1,538.59L110.1,540.23L110.6,540.23L110.6,538.73L111.6,538.73L111.6,540.23L114.1,540.23L114.1,537.95L114.6,537.95L114.6,538.78L115.1,538.78L115.1,540.23L115.6,540.23L115.6,538.88L116.1,538.88L116.1,540.23L116.6,540.23L116.6,538.58L117.1,538.58L117.1,540.23L117.6,540.23L117.6,538.73L118.6,538.73L118.6,540.23L127.6,540.23L127.6,538.73L128.6,538.73L128.6,540.23L130.6,540.23L130.6,538.27L131.1,538.27L131.1,540.23L132.6,540.23L132.6,538.11L133.1,538.11L133.1,540.23L134.1,540.23L134.1,538.52L134.6,538.52L134.6,538.18L135.1,538.18L135.1,540.23L139.6,540.23L139.6,538.73L140.6,538.73L140.6,540.23L142.6,540.23L142.6,537.66L143.1,537.66L143.1,537.63L143.6,537.63L143.6,537.99L144.1,537.99L144.1,540.23L145.1,540.23L145.1,538.54L145.6,538.54L145.6,534.23L146.6,534.23L146.6,540.23L147.1,540.23L147.1,538.31L147.6,538.31L147.6,540.23L148.1,540.23L148.1,537.88L148.6,537.88L148.6,540.23L151.1,540.23L151.1,537.78L151.6,537.78L151.6,538.23L152.6,538.23L152.6,540.23L153.6,540.23L153.6,537.69L154.1,537.69L154.1,540.23L154.6,540.23L154.6,538.23L155.6,538.23L155.6,540.23L159.6,540.23L159.6,535.23L160.6,535.23L160.6,540.23L162.6,540.23L162.6,538.23L163.6,538.23L163.6,538.43L164.1,538.43L164.1,540.23L164.6,540.23L164.6,534.23L165.6,534.23L165.6,538.49L166.1,538.49L166.1,538.49L166.6,538.49L166.6,537.91L167.1,537.91L167.1,537.69L167.6,537.69L167.6,538.23L168.6,538.23L168.6,538.20L169.1,538.20L169.1,540.23L170.6,540.23L170.6,533.23L171.6,533.23L171.6,540.23L173.1,540.23L173.1,532.23L174.1,532.23L174.1,538.35L174.6,538.35L174.6,537.23L175.6,537.23L175.6,538.06L176.1,538.06L176.1,540.23L176.6,540.23L176.6,534.23L177.6,534.23L177.6,538.38L178.1,538.38L178.1,540.23L178.6,540.23L178.6,538.19L179.1,538.19L179.1,540.23L180.6,540.23L180.6,537.23L181.6,537.23L181.6,540.23L182.1,540.23L182.1,538.69L182.6,538.69L182.6,540.23L183.1,540.23L183.1,538.80L183.6,538.80L183.6,540.23L184.6,540.23L184.6,538.23L185.6,538.23L185.6,538.40L186.1,538.40L186.1,540.23L186.6,540.23L186.6,538.58L187.1,538.58L187.1,540.23L188.1,540.23L188.1,538.73L188.6,538.73L188.6,538.73L189.6,538.73L189.6,540.23L193.6,540.23L193.6,538.73L194.6,538.73L194.6,540.23L195.6,540.23L195.6,537.68L196.1,537.68L196.1,540.23L196.6,540.23L196.6,538.02L197.1,538.02L197.1,540.23L197.6,540.23L197.6,538.73L198.6,538.73L198.6,540.23L200.1,540.23L200.1,537.35L200.6,537.35L200.6,536.72L201.1,536.72L201.1,540.23L201.6,540.23L201.6,537.18L202.1,537.18L202.1,540.23L203.1,540.23L203.1,537.04L203.6,537.04L203.6,538.43L204.1,538.43L204.1,540.23L204.6,540.23L204.6,536.44L205.1,536.44L205.1,536.66L205.6,536.66L205.6,536.60L206.1,536.60L206.1,537.13L206.6,537.13L206.6,540.23L208.1,540.23L208.1,536.96L208.6,536.96L208.6,540.23L209.6,540.23L209.6,537.66L210.1,537.66L210.1,540.23L211.1,540.23L211.1,537.64L211.6,537.64L211.6,540.23L212.6,540.23L212.6,538.79L213.1,538.79L213.1,540.23L214.1,540.23L214.1,538.48L214.6,538.48L214.6,537.78L215.1,537.78L215.1,540.23L217.1,540.23L217.1,537.67L217.6,537.67L217.6,537.90L218.1,537.90L218.1,540.23L220.1,540.23L220.1,538.69L220.6,538.69L220.6,540.23L222.6,540.23L222.6,538.19L223.1,538.19L223.1,538.84L223.6,538.84L223.6,540.23L229.1,540.23L229.1,538.85L229.6,538.85L229.6,540.23L230.1,540.23L230.1,537.81L230.6,537.81L230.6,538.93L231.1,538.93L231.1,540.23L232.6,540.23L232.6,538.80L233.1,538.80L233.1,540.23L233.6,540.23L233.6,538.79L234.1,538.79L234.1,540.23L240.6,540.23L240.6,538.00L241.1,538.00L241.1,540.23L243.6,540.23L243.6,538.11L244.1,538.11L244.1,538.65L244.6,538.65L244.6,540.23L245.1,540.23L245.1,538.40L245.6,538.40L245.6,540.23L246.1,540.23L246.1,537.69L246.6,537.69L246.6,538.66L247.1,538.66L247.1,540.23L247.6,540.23L247.6,538.84L248.1,538.84L248.1,540.23L253.1,540.23L253.1,538.09L253.6,538.09L253.6,538.79L254.1,538.79L254.1,540.23L258.1,540.23L258.1,538.21L258.6,538.21L258.6,538.60L259.1,538.60L259.1,538.89L259.6,538.89L259.6,540.23L263.1,540.23L263.1,538.07L263.6,538.07L263.6,540.23L264.1,540.23L264.1,537.95L264.6,537.95L264.6,540.23L270.1,540.23L270.1,538.52L270.6,538.52L270.6,540.23L271.1,540.23L271.1,538.72L271.6,538.72L271.6,540.23L273.1,540.23L273.1,537.66L273.6,537.66L273.6,540.23L278.1,540.23L278.1,538.61L278.6,538.61L278.6,540.23L279.1,540.23L279.1,538.61L279.6,538.61L279.6,538.45L280.1,538.45L280.1,538.62L280.6,538.62L280.6,540.23L281.6,540.23L281.6,538.61L282.1,538.61L282.1,540.23L283.6,540.23L283.6,537.73L284.1,537.73L284.1,540.23L289.1,540.23L289.1,538.82L289.5,538.82L289.5,540.2Z" fill="#dc2b5e"/>
<path d="M317.3,523.9L317.3,523.90L317.3,523.90L319.8,523.90L319.8,523.08L320.3,523.08L320.3,523.90L322.3,523.90L322.3,523.21L322.8,523.21L322.8,523.90L324.8,523.90L324.8,522.84L325.3,522.84L325.3,522.20L325.8,522.20L325.8,521.97L326.3,521.97L326.3,522.59L326.8,522.59L326.8,522.50L327.3,522.50L327.3,522.05L327.8,522.05L327.8,522.40L328.3,522.40L328.3,522.40L328.8,522.40L328.8,522.07L329.3,522.07L329.3,523.90L329.8,523.90L329.8,522.00L330.3,522.00L330.3,522.88L330.8,522.88L330.8,523.24L331.3,523.24L331.3,523.90L331.8,523.90L331.8,522.63L332.3,522.63L332.3,523.90L332.8,523.90L332.8,522.78L333.3,522.78L333.3,522.24L333.8,522.24L333.8,522.20L334.3,522.20L334.3,522.43L334.8,522.43L334.8,522.12L335.3,522.12L335.3,522.14L335.8,522.14L335.8,522.01L336.3,522.01L336.3,521.79L336.8,521.79L336.8,523.90L337.3,523.90L337.3,521.61L337.8,521.61L337.8,521.88L338.3,521.88L338.3,522.12L338.8,522.12L338.8,522.33L339.3,522.33L339.3,521.86L339.8,521.86L339.8,522.45L340.3,522.45L340.3,523.90L340.8,523.90L340.8,522.89L341.3,522.89L341.3,523.90L341.8,523.90L341.8,522.64L342.3,522.64L342.3,522.91L342.8,522.91L342.8,523.14L343.3,523.14L343.3,522.74L343.8,522.74L343.8,523.90L345.3,523.90L345.3,522.67L345.8,522.67L345.8,522.17L346.3,522.17L346.3,522.18L346.8,522.18L346.8,522.48L347.3,522.48L347.3,522.32L347.8,522.32L347.8,521.96L348.3,521.96L348.3,523.90L348.8,523.90L348.8,522.39L349.3,522.39L349.3,522.29L349.8,522.29L349.8,522.77L350.3,522.77L350.3,523.90L350.8,523.90L350.8,522.75L351.3,522.75L351.3,521.92L351.8,521.92L351.8,523.90L353.3,523.90L353.3,521.74L353.8,521.74L353.8,523.90L354.3,523.90L354.3,521.49L354.8,521.49L354.8,521.73L355.3,521.73L355.3,522.16L355.8,522.16L355.8,521.53L356.3,521.53L356.3,521.65L356.8,521.65L356.8,522.30L357.3,522.30L357.3,522.28L357.8,522.28L357.8,522.51L358.3,522.51L358.3,521.66L358.8,521.66L358.8,522.43L359.3,522.43L359.3,523.90L359.8,523.90L359.8,521.70L360.3,521.70L360.3,522.18L360.8,522.18L360.8,522.20L361.3,522.20L361.3,522.63L361.8,522.63L361.8,522.47L362.3,522.47L362.3,521.88L362.8,521.88L362.8,522.37L363.3,522.37L363.3,523.21L363.8,523.21L363.8,523.90L365.8,523.90L365.8,521.64L366.3,521.64L366.3,521.50L366.8,521.50L366.8,521.57L367.3,521.57L367.3,521.37L367.8,521.37L367.8,521.65L368.3,521.65L368.3,520.92L368.8,520.92L368.8,521.03L369.3,521.03L369.3,521.28L369.8,521.28L369.8,520.75L370.3,520.75L370.3,521.64L370.8,521.64L370.8,520.97L371.3,520.97L371.3,519.99L371.8,519.99L371.8,520.55L372.3,520.55L372.3,520.25L372.8,520.25L372.8,520.11L373.3,520.11L373.3,519.12L373.8,519.12L373.8,520.65L374.3,520.65L374.3,519.40L374.8,519.40L374.8,519.82L375.3,519.82L375.3,519.77L375.8,519.77L375.8,514.90L376.8,514.90L376.8,518.29L377.3,518.29L377.3,519.31L377.8,519.31L377.8,518.31L378.3,518.31L378.3,517.98L378.8,517.98L378.8,519.41L379.3,519.41L379.3,516.58L379.8,516.58L379.8,517.92L380.3,517.92L380.3,518.36L380.8,518.36L380.8,511.90L381.8,511.90L381.8,519.11L382.3,519.11L382.3,518.15L382.8,518.15L382.8,515.68L383.3,515.68L383.3,516.64L383.8,516.64L383.8,519.36L384.3,519.36L384.3,516.65L384.8,516.65L384.8,518.22L385.3,518.22L385.3,516.65L385.8,516.65L385.8,518.98L386.3,518.98L386.3,518.17L386.8,518.17L386.8,519.74L387.3,519.74L387.3,518.73L387.8,518.73L387.8,515.90L388.8,515.90L388.8,520.20L389.3,520.20L389.3,521.16L389.8,521.16L389.8,521.49L390.3,521.49L390.3,520.99L390.8,520.99L390.8,520.77L391.3,520.77L391.3,523.90L397.3,523.90L397.3,522.26L397.8,522.26L397.8,521.89L398.3,521.89L398.3,521.04L398.8,521.04L398.8,520.76L399.3,520.76L399.3,521.34L399.8,521.34L399.8,521.51L400.3,521.51L400.3,521.30L400.8,521.30L400.8,520.15L401.3,520.15L401.3,520.83L401.8,520.83L401.8,521.15L402.3,521.15L402.3,519.75L402.8,519.75L402.8,523.90L403.3,523.90L403.3,520.29L403.8,520.29L403.8,523.90L404.3,523.90L404.3,519.26L404.8,519.26L404.8,520.88L405.3,520.88L405.3,523.90L405.8,523.90L405.8,519.23L406.3,519.23L406.3,519.63L406.8,519.63L406.8,523.90L407.3,523.90L407.3,521.24L407.8,521.24L407.8,519.90L408.3,519.90L408.3,520.05L408.8,520.05L408.8,521.19L409.3,521.19L409.3,523.90L409.8,523.90L409.8,521.41L410.3,521.41L410.3,521.75L410.8,521.75L410.8,521.02L411.3,521.02L411.3,521.73L411.8,521.73L411.8,523.90L412.3,523.90L412.3,522.00L412.8,522.00L412.8,522.67L413.3,522.67L413.3,522.54L413.8,522.54L413.8,522.34L414.3,522.34L414.3,521.98L414.8,521.98L414.8,523.90L416.8,523.90L416.8,522.76L417.3,522.76L417.3,522.18L417.8,522.18L417.8,523.90L418.3,523.90L418.3,522.21L418.8,522.21L418.8,523.90L419.8,523.90L419.8,522.05L420.3,522.05L420.3,523.90L420.8,523.90L420.8,521.90L421.3,521.90L421.3,522.27L421.8,522.27L421.8,523.90L423.8,523.90L423.8,522.01L424.3,522.01L424.3,523.90L424.8,523.90L424.8,521.94L425.3,521.94L425.3,522.61L425.8,522.61L425.8,522.27L426.3,522.27L426.3,522.26L426.8,522.26L426.8,523.90L428.3,523.90L428.3,522.41L428.8,522.41L428.8,523.90L429.3,523.90L429.3,522.26L429.8,522.26L429.8,522.19L430.3,522.19L430.3,523.90L430.8,523.90L430.8,522.04L431.3,522.04L431.3,523.90L431.8,523.90L431.8,521.92L432.3,521.92L432.3,522.17L432.8,522.17L432.8,523.90L433.8,523.90L433.8,522.72L434.3,522.72L434.3,522.29L434.8,522.29L434.8,522.52L435.3,522.52L435.3,522.32L435.8,522.32L435.8,522.12L436.3,522.12L436.3,523.90L437.3,523.90L437.3,522.77L437.8,522.77L437.8,522.36L438.3,522.36L438.3,522.60L438.8,522.60L438.8,523.90L439.3,523.90L439.3,522.37L439.8,522.37L439.8,523.90L440.3,523.90L440.3,522.73L440.8,522.73L440.8,522.06L441.3,522.06L441.3,523.90L443.3,523.90L443.3,522.75L443.8,522.75L443.8,522.03L444.3,522.03L444.3,522.70L444.8,522.70L444.8,523.90L445.3,523.90L445.3,522.32L445.8,522.32L445.8,523.90L446.3,523.90L446.3,522.73L446.8,522.73L446.8,522.42L447.3,522.42L447.3,522.79L447.8,522.79L447.8,522.11L448.3,522.11L448.3,522.16L448.8,522.16L448.8,522.68L449.3,522.68L449.3,523.90L450.3,523.90L450.3,522.16L450.8,522.16L450.8,523.90L451.3,523.90L451.3,522.64L451.8,522.64L451.8,522.54L452.3,522.54L452.3,521.93L452.8,521.93L452.8,523.90L454.3,523.90L454.3,522.47L454.8,522.47L454.8,523.90L455.3,523.90L455.3,521.99L455.8,521.99L455.8,523.90L456.3,523.90L456.3,522.09L456.8,522.09L456.8,523.90L457.3,523.90L457.3,522.72L457.8,522.72L457.8,523.90L458.8,523.90L458.8,522.76L459.3,522.76L459.3,523.90L459.8,523.90L459.8,522.57L460.3,522.57L460.3,522.45L460.8,522.45L460.8,522.46L461.3,522.46L461.3,522.44L461.8,522.44L461.8,523.90L462.3,523.90L462.3,522.56L462.8,522.56L462.8,522.54L463.3,522.54L463.3,522.22L463.8,522.22L463.8,523.90L464.3,523.90L464.3,522.12L464.8,522.12L464.8,523.90L465.3,523.90L465.3,522.00L465.8,522.00L465.8,522.30L466.3,522.30L466.3,523.90L466.8,523.90L466.8,522.76L467.3,522.76L467.3,522.15L467.8,522.15L467.8,522.29L468.3,522.29L468.3,522.65L468.8,522.65L468.8,522.34L469.3,522.34L469.3,523.90L469.8,523.90L469.8,522.26L470.3,522.26L470.3,522.52L470.8,522.52L470.8,523.90L471.3,523.90L471.3,522.44L471.8,522.44L471.8,522.79L472.3,522.79L472.3,522.73L472.8,522.73L472.8,521.93L473.3,521.93L473.3,523.90L473.8,523.90L473.8,522.09L474.3,522.09L474.3,523.90L474.8,523.90L474.8,522.42L475.3,522.42L475.3,523.90L477.3,523.90L477.3,522.12L477.8,522.12L477.8,522.33L478.3,522.33L478.3,522.68L478.8,522.68L478.8,523.90L479.3,523.90L479.3,522.02L479.8,522.02L479.8,523.90L480.3,523.90L480.3,522.48L480.8,522.48L480.8,523.90L481.3,523.90L481.3,522.74L481.8,522.74L481.8,522.46L482.3,522.46L482.3,522.70L482.8,522.70L482.8,521.93L483.3,521.93L483.3,523.90L483.8,523.90L483.8,522.52L484.3,522.52L484.3,523.90L484.8,523.90L484.8,522.65L485.3,522.65L485.3,521.97L485.8,521.97L485.8,523.90L487.3,523.90L487.3,522.37L487.8,522.37L487.8,522.16L488.3,522.16L488.3,522.45L488.8,522.45L488.8,522.74L489.3,522.74L489.3,522.38L489.4,522.38L489.4,523.9Z" fill="#2020ee"/>
<path d="M317.3,540.6L317.3,540.56L317.3,538.55L317.8,538.55L317.8,538.25L318.3,538.25L318.3,540.56L318.8,540.56L318.8,538.23L319.3,538.23L319.3,540.56L319.8,540.56L319.8,538.81L320.3,538.81L320.3,540.56L321.8,540.56L321.8,538.18L322.3,538.18L322.3,539.20L322.8,539.20L322.8,538.53L323.3,538.53L323.3,538.69L323.8,538.69L323.8,538.28L324.3,538.28L324.3,539.22L324.8,539.22L324.8,540.56L325.3,540.56L325.3,538.72L325.8,538.72L325.8,539.16L326.3,539.16L326.3,538.54L326.8,538.54L326.8,538.32L327.3,538.32L327.3,538.26L327.8,538.26L327.8,540.56L330.8,540.56L330.8,536.56L331.8,536.56L331.8,538.27L332.3,538.27L332.3,540.56L332.8,540.56L332.8,538.59L333.3,538.59L333.3,540.56L333.8,540.56L333.8,539.12L334.3,539.12L334.3,540.56L334.8,540.56L334.8,538.44L335.3,538.44L335.3,540.56L335.8,540.56L335.8,538.60L336.3,538.60L336.3,540.56L338.3,540.56L338.3,538.29L338.8,538.29L338.8,540.56L339.3,540.56L339.3,538.70L339.8,538.70L339.8,537.56L340.8,537.56L340.8,539.10L341.3,539.10L341.3,538.20L341.8,538.20L341.8,540.56L342.3,540.56L342.3,539.23L342.8,539.23L342.8,540.56L343.3,540.56L343.3,538.22L343.8,538.22L343.8,538.90L344.3,538.90L344.3,540.56L344.8,540.56L344.8,538.19L345.3,538.19L345.3,538.39L345.8,538.39L345.8,540.56L346.8,540.56L346.8,538.82L347.3,538.82L347.3,538.84L347.8,538.84L347.8,540.56L349.8,540.56L349.8,538.06L350.8,538.06L350.8,538.82L351.3,538.82L351.3,538.65L351.8,538.65L351.8,538.51L352.3,538.51L352.3,540.56L353.3,540.56L353.3,538.90L353.8,538.90L353.8,538.45L354.3,538.45L354.3,540.56L355.3,540.56L355.3,539.23L355.8,539.23L355.8,540.56L356.8,540.56L356.8,537.56L357.8,537.56L357.8,540.56L358.3,540.56L358.3,538.69L358.8,538.69L358.8,540.56L360.8,540.56L360.8,538.18L361.3,538.18L361.3,538.20L361.8,538.20L361.8,540.56L362.3,540.56L362.3,538.52L362.8,538.52L362.8,540.56L363.8,540.56L363.8,538.46L364.3,538.46L364.3,540.56L364.8,540.56L364.8,538.91L365.3,538.91L365.3,535.69L365.8,535.69L365.8,536.07L366.3,536.07L366.3,535.73L366.8,535.73L366.8,537.24L367.3,537.24L367.3,537.37L367.8,537.37L367.8,537.27L368.3,537.27L368.3,537.77L368.8,537.77L368.8,535.72L369.3,535.72L369.3,537.35L369.8,537.35L369.8,536.39L370.3,536.39L370.3,537.17L370.8,537.17L370.8,536.60L371.3,536.60L371.3,536.83L371.8,536.83L371.8,536.19L372.3,536.19L372.3,537.36L372.8,537.36L372.8,537.16L373.3,537.16L373.3,537.50L373.8,537.50L373.8,537.08L374.3,537.08L374.3,535.93L374.8,535.93L374.8,535.64L375.3,535.64L375.3,537.78L375.8,537.78L375.8,535.91L376.3,535.91L376.3,536.16L376.8,536.16L376.8,537.63L377.3,537.63L377.3,537.45L377.8,537.45L377.8,535.86L378.3,535.86L378.3,537.37L378.8,537.37L378.8,535.77L379.3,535.77L379.3,540.56L380.3,540.56L380.3,536.67L380.8,536.67L380.8,528.56L381.8,528.56L381.8,536.81L382.3,536.81L382.3,537.65L382.8,537.65L382.8,535.97L383.3,535.97L383.3,535.79L383.8,535.79L383.8,535.64L384.3,535.64L384.3,536.36L384.8,536.36L384.8,536.50L385.3,536.50L385.3,540.56L385.8,540.56L385.8,530.86L386.8,530.86L386.8,536.31L387.3,536.31L387.3,536.25L387.8,536.25L387.8,535.92L388.3,535.92L388.3,537.04L388.8,537.04L388.8,534.56L389.8,534.56L389.8,537.74L390.3,537.74L390.3,537.20L390.8,537.20L390.8,536.70L391.3,536.70L391.3,537.72L391.8,537.72L391.8,537.11L392.3,537.11L392.3,540.56L397.3,540.56L397.3,535.26L397.8,535.26L397.8,536.54L398.3,536.54L398.3,536.83L398.8,536.83L398.8,537.43L399.3,537.43L399.3,536.99L399.8,536.99L399.8,536.59L400.3,536.59L400.3,535.22L400.8,535.22L400.8,535.14L401.3,535.14L401.3,537.34L401.8,537.34L401.8,532.56L402.8,532.56L402.8,537.28L403.3,537.28L403.3,540.56L403.8,540.56L403.8,536.23L404.3,536.23L404.3,535.31L404.8,535.31L404.8,531.56L405.8,531.56L405.8,535.97L406.3,535.97L406.3,535.54L406.8,535.54L406.8,535.62L407.3,535.62L407.3,536.13L407.8,536.13L407.8,536.27L408.3,536.27L408.3,536.12L408.8,536.12L408.8,536.51L409.3,536.51L409.3,536.14L409.8,536.14L409.8,535.33L410.3,535.33L410.3,540.56L410.8,540.56L410.8,536.44L411.3,536.44L411.3,536.45L411.8,536.45L411.8,535.39L412.3,535.39L412.3,540.56L412.8,540.56L412.8,536.45L413.3,536.45L413.3,540.56L413.8,540.56L413.8,538.83L414.3,538.83L414.3,540.56L414.8,540.56L414.8,538.25L415.3,538.25L415.3,538.12L415.8,538.12L415.8,538.76L416.3,538.76L416.3,538.36L416.8,538.36L416.8,539.10L417.3,539.10L417.3,538.09L417.8,538.09L417.8,538.34L418.3,538.34L418.3,540.56L421.3,540.56L421.3,538.30L421.8,538.30L421.8,540.56L422.3,540.56L422.3,538.94L422.8,538.94L422.8,538.22L423.3,538.22L423.3,540.56L423.8,540.56L423.8,538.95L424.3,538.95L424.3,540.56L425.3,540.56L425.3,538.66L425.8,538.66L425.8,540.56L426.8,540.56L426.8,538.33L427.3,538.33L427.3,538.97L427.8,538.97L427.8,540.56L430.3,540.56L430.3,538.80L430.8,538.80L430.8,538.72L431.3,538.72L431.3,538.69L431.8,538.69L431.8,538.71L432.3,538.71L432.3,538.82L432.8,538.82L432.8,536.56L433.8,536.56L433.8,540.56L434.3,540.56L434.3,538.58L434.8,538.58L434.8,540.56L435.3,540.56L435.3,538.74L435.8,538.74L435.8,538.32L436.3,538.32L436.3,538.75L436.8,538.75L436.8,538.19L437.3,538.19L437.3,538.68L437.8,538.68L437.8,539.10L438.3,539.10L438.3,538.52L438.8,538.52L438.8,538.74L439.3,538.74L439.3,540.56L439.8,540.56L439.8,538.79L440.3,538.79L440.3,539.13L440.8,539.13L440.8,540.56L441.3,540.56L441.3,538.49L441.8,538.49L441.8,540.56L442.3,540.56L442.3,538.46L442.8,538.46L442.8,538.68L443.3,538.68L443.3,540.56L443.8,540.56L443.8,538.57L444.3,538.57L444.3,540.56L444.8,540.56L444.8,538.72L445.3,538.72L445.3,538.95L445.8,538.95L445.8,539.03L446.3,539.03L446.3,538.74L446.8,538.74L446.8,537.56L447.8,537.56L447.8,538.28L448.3,538.28L448.3,540.56L448.8,540.56L448.8,539.03L449.3,539.03L449.3,540.56L449.8,540.56L449.8,538.70L450.3,538.70L450.3,539.00L450.8,539.00L450.8,540.56L452.3,540.56L452.3,538.51L452.8,538.51L452.8,538.99L453.3,538.99L453.3,540.56L454.3,540.56L454.3,539.05L454.8,539.05L454.8,536.56L455.8,536.56L455.8,540.56L456.8,540.56L456.8,538.66L457.3,538.66L457.3,540.56L457.8,540.56L457.8,538.06L458.3,538.06L458.3,538.13L458.8,538.13L458.8,538.65L459.3,538.65L459.3,538.07L459.8,538.07L459.8,539.05L460.3,539.05L460.3,540.56L461.3,540.56L461.3,538.12L461.8,538.12L461.8,540.56L462.8,540.56L462.8,539.05L463.3,539.05L463.3,538.79L463.8,538.79L463.8,538.47L464.3,538.47L464.3,538.97L464.8,538.97L464.8,538.32L465.3,538.32L465.3,540.56L465.8,540.56L465.8,538.87L466.3,538.87L466.3,538.50L466.8,538.50L466.8,540.56L467.3,540.56L467.3,539.09L467.8,539.09L467.8,538.30L468.3,538.30L468.3,540.56L468.8,540.56L468.8,538.07L469.3,538.07L469.3,540.56L469.8,540.56L469.8,538.70L470.3,538.70L470.3,538.38L470.8,538.38L470.8,538.42L471.3,538.42L471.3,540.56L471.8,540.56L471.8,538.28L472.3,538.28L472.3,540.56L472.8,540.56L472.8,538.63L473.3,538.63L473.3,540.56L473.8,540.56L473.8,538.54L474.3,538.54L474.3,540.56L475.8,540.56L475.8,538.42L476.3,538.42L476.3,540.56L477.3,540.56L477.3,538.03L477.8,538.03L477.8,535.56L478.8,535.56L478.8,538.23L479.3,538.23L479.3,538.36L479.8,538.36L479.8,540.56L480.3,540.56L480.3,538.06L480.8,538.06L480.8,538.88L481.3,538.88L481.3,538.28L481.8,538.28L481.8,540.56L482.3,540.56L482.3,538.59L482.8,538.59L482.8,540.56L483.3,540.56L483.3,538.39L483.8,538.39L483.8,538.38L484.3,538.38L484.3,538.07L484.8,538.07L484.8,538.15L485.3,538.15L485.3,539.05L485.8,539.05L485.8,537.56L486.8,537.56L486.8,540.56L487.3,540.56L487.3,538.72L487.8,538.72L487.8,540.56L488.3,540.56L488.3,538.88L488.8,538.88L488.8,538.01L489.3,538.01L489.3,540.56L489.4,540.56L489.4,540.6Z" fill="#dc2b5e"/>
<path d="M100.6,556.3L100.6,556.28L100.6,555.44L101.1,555.44L101.1,556.28L107.6,556.28L107.6,555.43L108.1,555.43L108.1,556.28L109.1,556.28L109.1,555.57L109.6,555.57L109.6,555.51L110.1,555.51L110.1,556.28L110.6,556.28L110.6,555.03L111.1,555.03L111.1,555.54L111.6,555.54L111.6,556.28L114.1,556.28L114.1,555.39L114.6,555.39L114.6,555.31L115.1,555.31L115.1,556.28L118.1,556.28L118.1,555.47L118.6,555.47L118.6,556.28L121.6,556.28L121.6,555.34L122.1,555.34L122.1,556.28L124.1,556.28L124.1,554.40L124.6,554.40L124.6,554.39L125.1,554.39L125.1,556.28L125.6,556.28L125.6,554.58L126.1,554.58L126.1,555.40L126.6,555.40L126.6,556.28L128.1,556.28L128.1,554.65L128.6,554.65L128.6,554.90L129.1,554.90L129.1,555.29L129.6,555.29L129.6,556.28L134.6,556.28L134.6,554.49L135.1,554.49L135.1,556.28L135.6,556.28L135.6,554.24L136.1,554.24L136.1,556.28L136.6,556.28L136.6,555.46L137.1,555.46L137.1,556.28L138.6,556.28L138.6,554.46L139.1,554.46L139.1,556.28L140.1,556.28L140.1,555.56L140.6,555.56L140.6,556.28L142.1,556.28L142.1,554.34L142.6,554.34L142.6,554.44L143.1,554.44L143.1,556.28L145.6,556.28L145.6,554.94L146.1,554.94L146.1,556.28L147.6,556.28L147.6,555.06L148.1,555.06L148.1,556.28L148.6,556.28L148.6,553.85L149.1,553.85L149.1,554.28L149.6,554.28L149.6,554.82L150.1,554.82L150.1,555.04L150.6,555.04L150.6,554.88L151.1,554.88L151.1,554.75L151.6,554.75L151.6,554.35L152.1,554.35L152.1,556.28L153.1,556.28L153.1,555.40L153.6,555.40L153.6,554.92L154.1,554.92L154.1,556.28L155.1,556.28L155.1,554.58L155.6,554.58L155.6,554.59L156.1,554.59L156.1,554.31L156.6,554.31L156.6,553.66L157.1,553.66L157.1,551.58L157.6,551.58L157.6,551.36L158.1,551.36L158.1,551.60L158.6,551.60L158.6,551.12L159.1,551.12L159.1,549.90L159.6,549.90L159.6,552.21L160.1,552.21L160.1,551.66L160.6,551.66L160.6,552.26L161.1,552.26L161.1,549.99L161.6,549.99L161.6,548.28L162.6,548.28L162.6,556.28L163.1,556.28L163.1,551.43L163.6,551.43L163.6,552.07L164.1,552.07L164.1,551.59L164.6,551.59L164.6,549.47L165.1,549.47L165.1,552.13L165.6,552.13L165.6,549.71L166.1,549.71L166.1,552.05L166.6,552.05L166.6,545.48L167.6,545.48L167.6,550.42L168.1,550.42L168.1,551.42L168.6,551.42L168.6,550.22L169.1,550.22L169.1,551.96L169.6,551.96L169.6,547.78L170.6,547.78L170.6,549.45L171.1,549.45L171.1,550.55L171.6,550.55L171.6,550.63L172.1,550.63L172.1,549.73L172.6,549.73L172.6,550.59L173.1,550.59L173.1,552.16L173.6,552.16L173.6,547.78L174.6,547.78L174.6,550.42L175.1,550.42L175.1,556.28L175.6,556.28L175.6,550.51L176.1,550.51L176.1,549.80L176.6,549.80L176.6,545.28L177.6,545.28L177.6,552.28L178.1,552.28L178.1,552.37L178.6,552.37L178.6,551.74L179.1,551.74L179.1,551.58L179.6,551.58L179.6,546.28L180.6,546.28L180.6,550.07L181.1,550.07L181.1,550.01L181.6,550.01L181.6,550.06L182.1,550.06L182.1,549.74L182.6,549.74L182.6,550.16L183.1,550.16L183.1,556.28L184.6,556.28L184.6,555.00L185.1,555.00L185.1,556.28L185.6,556.28L185.6,555.29L186.1,555.29L186.1,553.75L186.6,553.75L186.6,553.51L187.1,553.51L187.1,553.36L187.6,553.36L187.6,553.70L188.1,553.70L188.1,556.28L188.6,556.28L188.6,553.53L189.1,553.53L189.1,556.28L189.6,556.28L189.6,552.28L190.6,552.28L190.6,556.28L192.1,556.28L192.1,553.29L192.6,553.29L192.6,556.28L193.1,556.28L193.1,554.44L193.6,554.44L193.6,551.78L194.6,551.78L194.6,553.90L195.1,553.90L195.1,556.28L196.6,556.28L196.6,554.51L197.1,554.51L197.1,554.12L197.6,554.12L197.6,554.49L198.1,554.49L198.1,555.38L198.6,555.38L198.6,554.20L199.1,554.20L199.1,553.59L199.6,553.59L199.6,553.36L200.1,553.36L200.1,556.28L201.6,556.28L201.6,551.69L202.1,551.69L202.1,549.63L202.6,549.63L202.6,546.28L203.6,546.28L203.6,548.68L204.1,548.68L204.1,543.78L205.1,543.78L205.1,551.18L205.6,551.18L205.6,548.49L206.1,548.49L206.1,551.38L206.6,551.38L206.6,547.28L207.6,547.28L207.6,548.39L208.1,548.39L208.1,556.28L208.6,556.28L208.6,549.99L209.1,549.99L209.1,550.76L209.6,550.76L209.6,548.57L210.1,548.57L210.1,550.75L210.6,550.75L210.6,550.68L211.1,550.68L211.1,554.51L211.6,554.51L211.6,553.34L212.1,553.34L212.1,553.38L212.6,553.38L212.6,551.28L213.6,551.28L213.6,556.28L214.1,556.28L214.1,555.02L214.6,555.02L214.6,556.28L215.1,556.28L215.1,555.57L215.6,555.57L215.6,556.28L216.1,556.28L216.1,554.09L216.6,554.09L216.6,552.78L217.6,552.78L217.6,553.83L218.1,553.83L218.1,554.52L218.6,554.52L218.6,553.47L219.1,553.47L219.1,553.99L219.6,553.99L219.6,556.28L220.1,556.28L220.1,553.74L220.6,553.74L220.6,556.28L221.1,556.28L221.1,554.40L221.6,554.40L221.6,556.28L222.6,556.28L222.6,555.18L223.1,555.18L223.1,554.10L223.6,554.10L223.6,552.78L224.6,552.78L224.6,554.52L225.1,554.52L225.1,556.28L225.6,556.28L225.6,554.97L226.1,554.97L226.1,556.28L228.1,556.28L228.1,554.94L228.6,554.94L228.6,556.28L229.1,556.28L229.1,554.93L229.6,554.93L229.6,556.28L233.1,556.28L233.1,555.28L233.6,555.28L233.6,555.57L234.1,555.57L234.1,556.28L235.1,556.28L235.1,555.34L235.6,555.34L235.6,556.28L241.1,556.28L241.1,555.39L241.6,555.39L241.6,556.28L243.6,556.28L243.6,555.18L244.1,555.18L244.1,556.28L250.6,556.28L250.6,555.07L251.1,555.07L251.1,556.28L253.1,556.28L253.1,554.89L253.6,554.89L253.6,556.28L254.1,556.28L254.1,555.36L254.6,555.36L254.6,556.28L255.1,556.28L255.1,555.33L255.6,555.33L255.6,556.28L256.1,556.28L256.1,555.52L256.6,555.52L256.6,556.28L257.1,556.28L257.1,555.00L257.6,555.00L257.6,556.28L260.6,556.28L260.6,555.23L261.1,555.23L261.1,556.28L261.6,556.28L261.6,555.42L262.1,555.42L262.1,556.28L262.6,556.28L262.6,555.23L263.1,555.23L263.1,556.28L265.1,556.28L265.1,555.24L265.6,555.24L265.6,555.01L266.1,555.01L266.1,555.42L266.6,555.42L266.6,556.28L267.1,556.28L267.1,555.23L267.6,555.23L267.6,556.28L269.1,556.28L269.1,555.27L269.6,555.27L269.6,556.28L272.6,556.28L272.6,555.51L273.1,555.51L273.1,556.28L275.1,556.28L275.1,555.48L275.6,555.48L275.6,556.28L277.1,556.28L277.1,555.41L277.6,555.41L277.6,556.28L280.1,556.28L280.1,555.28L280.6,555.28L280.6,556.28L283.6,556.28L283.6,555.19L284.1,555.19L284.1,556.28L284.6,556.28L284.6,555.06L285.1,555.06L285.1,556.28L289.5,556.28L289.5,556.3Z" fill="#2020ee"/>
<path d="M100.6,573.1L100.6,573.07L100.6,573.07L101.1,573.07L101.1,571.40L101.6,571.40L101.6,573.07L102.1,573.07L102.1,571.56L102.6,571.56L102.6,573.07L103.1,573.07L103.1,571.64L103.6,571.64L103.6,573.07L104.6,573.07L104.6,571.63L105.1,571.63L105.1,573.07L105.6,573.07L105.6,571.51L106.1,571.51L106.1,572.00L106.6,572.00L106.6,572.04L107.1,572.04L107.1,571.98L107.6,571.98L107.6,572.02L108.1,572.02L108.1,573.07L109.1,573.07L109.1,571.77L109.6,571.77L109.6,573.07L110.1,573.07L110.1,571.87L110.6,571.87L110.6,573.07L111.1,573.07L111.1,571.34L111.6,571.34L111.6,573.07L112.1,573.07L112.1,571.60L112.6,571.60L112.6,573.07L113.1,573.07L113.1,571.28L113.6,571.28L113.6,573.07L114.1,573.07L114.1,571.72L114.6,571.72L114.6,573.07L115.1,573.07L115.1,571.56L115.6,571.56L115.6,573.07L116.1,573.07L116.1,571.52L116.6,571.52L116.6,571.80L117.1,571.80L117.1,573.07L117.6,573.07L117.6,571.60L118.1,571.60L118.1,573.07L119.1,573.07L119.1,572.06L119.6,572.06L119.6,571.50L120.1,571.50L120.1,573.07L121.1,573.07L121.1,571.82L121.6,571.82L121.6,573.07L122.1,573.07L122.1,571.45L122.6,571.45L122.6,573.07L123.6,573.07L123.6,571.62L124.1,571.62L124.1,571.32L124.6,571.32L124.6,571.98L125.1,571.98L125.1,572.04L125.6,572.04L125.6,572.07L126.1,572.07L126.1,571.37L126.6,571.37L126.6,571.69L127.1,571.69L127.1,571.49L127.6,571.49L127.6,571.65L128.1,571.65L128.1,571.30L128.6,571.30L128.6,571.42L129.1,571.42L129.1,571.69L129.6,571.69L129.6,573.07L130.1,573.07L130.1,571.77L130.6,571.77L130.6,573.07L131.1,573.07L131.1,571.79L131.6,571.79L131.6,573.07L133.6,573.07L133.6,571.94L134.1,571.94L134.1,571.54L134.6,571.54L134.6,573.07L135.1,573.07L135.1,571.45L135.6,571.45L135.6,571.35L136.1,571.35L136.1,573.07L136.6,573.07L136.6,572.03L137.1,572.03L137.1,571.78L137.6,571.78L137.6,571.82L138.1,571.82L138.1,573.07L138.6,573.07L138.6,571.53L139.1,571.53L139.1,571.67L139.6,571.67L139.6,571.57L140.1,571.57L140.1,573.07L140.6,573.07L140.6,571.61L141.1,571.61L141.1,573.07L143.1,573.07L143.1,571.70L143.6,571.70L143.6,571.77L144.1,571.77L144.1,571.49L144.6,571.49L144.6,571.59L145.1,571.59L145.1,571.78L145.6,571.78L145.6,573.07L146.1,573.07L146.1,571.65L146.6,571.65L146.6,571.99L147.1,571.99L147.1,573.07L148.1,573.07L148.1,571.33L148.6,571.33L148.6,571.35L149.1,571.35L149.1,573.07L149.6,573.07L149.6,571.86L150.1,571.86L150.1,573.07L151.6,573.07L151.6,571.53L152.1,571.53L152.1,573.07L153.6,573.07L153.6,571.59L154.1,571.59L154.1,571.53L154.6,571.53L154.6,571.31L155.1,571.31L155.1,570.55L155.6,570.55L155.6,570.21L156.1,570.21L156.1,571.43L156.6,571.43L156.6,570.04L157.1,570.04L157.1,570.47L157.6,570.47L157.6,571.09L158.1,571.09L158.1,569.84L158.6,569.84L158.6,570.98L159.1,570.98L159.1,570.55L159.6,570.55L159.6,569.90L160.1,569.90L160.1,569.60L160.6,569.60L160.6,571.84L161.1,571.84L161.1,570.97L161.6,570.97L161.6,569.63L162.1,569.63L162.1,571.07L162.6,571.07L162.6,571.09L163.1,571.09L163.1,569.99L163.6,569.99L163.6,569.70L164.1,569.70L164.1,570.14L164.6,570.14L164.6,569.77L165.1,569.77L165.1,570.12L165.6,570.12L165.6,571.01L166.1,571.01L166.1,570.17L166.6,570.17L166.6,569.94L167.1,569.94L167.1,570.37L167.6,570.37L167.6,570.03L168.1,570.03L168.1,570.41L168.6,570.41L168.6,570.98L169.1,570.98L169.1,569.79L169.6,569.79L169.6,567.47L170.6,567.47L170.6,570.94L171.1,570.94L171.1,570.60L171.6,570.60L171.6,570.51L172.1,570.51L172.1,570.83L172.6,570.83L172.6,570.89L173.1,570.89L173.1,570.43L173.6,570.43L173.6,571.13L174.1,571.13L174.1,570.37L174.6,570.37L174.6,570.98L175.1,570.98L175.1,570.93L175.6,570.93L175.6,570.96L176.1,570.96L176.1,569.81L176.6,569.81L176.6,569.86L177.1,569.86L177.1,569.59L177.6,569.59L177.6,571.72L178.1,571.72L178.1,570.35L178.6,570.35L178.6,570.53L179.1,570.53L179.1,570.22L179.6,570.22L179.6,570.15L180.1,570.15L180.1,569.59L180.6,569.59L180.6,570.62L181.1,570.62L181.1,569.72L181.6,569.72L181.6,569.65L182.1,569.65L182.1,569.64L182.6,569.64L182.6,570.16L183.1,570.16L183.1,571.73L183.6,571.73L183.6,571.76L184.1,571.76L184.1,571.45L184.6,571.45L184.6,571.61L185.1,571.61L185.1,571.25L185.6,571.25L185.6,571.77L186.1,571.77L186.1,571.28L186.6,571.28L186.6,570.99L187.1,570.99L187.1,571.03L187.6,571.03L187.6,571.32L188.1,571.32L188.1,571.37L188.6,571.37L188.6,571.33L189.1,571.33L189.1,571.55L189.6,571.55L189.6,573.07L190.1,573.07L190.1,571.69L190.6,571.69L190.6,571.30L191.1,571.30L191.1,571.72L191.6,571.72L191.6,571.39L192.1,571.39L192.1,571.41L192.6,571.41L192.6,573.07L193.1,573.07L193.1,571.38L193.6,571.38L193.6,571.55L194.1,571.55L194.1,571.67L194.6,571.67L194.6,571.06L195.1,571.06L195.1,570.82L195.6,570.82L195.6,571.55L196.1,571.55L196.1,571.48L196.6,571.48L196.6,571.03L197.1,571.03L197.1,571.16L197.6,571.16L197.6,573.07L198.1,573.07L198.1,570.84L198.6,570.84L198.6,570.77L199.1,570.77L199.1,571.80L199.6,571.80L199.6,571.40L200.1,571.40L200.1,573.07L200.6,573.07L200.6,570.47L201.1,570.47L201.1,569.69L201.6,569.69L201.6,569.43L202.1,569.43L202.1,569.09L202.6,569.09L202.6,570.19L203.1,570.19L203.1,571.83L203.6,571.83L203.6,569.79L204.1,569.79L204.1,569.72L204.6,569.72L204.6,567.47L205.6,567.47L205.6,570.75L206.1,570.75L206.1,569.09L206.6,569.09L206.6,569.85L207.1,569.85L207.1,569.82L207.6,569.82L207.6,570.56L208.1,570.56L208.1,569.65L208.6,569.65L208.6,570.59L209.1,570.59L209.1,569.37L209.6,569.37L209.6,569.52L210.1,569.52L210.1,570.57L210.6,570.57L210.6,569.45L211.1,569.45L211.1,569.73L211.6,569.73L211.6,570.34L212.1,570.34L212.1,571.55L212.6,571.55L212.6,572.04L213.1,572.04L213.1,573.07L214.6,573.07L214.6,571.53L215.1,571.53L215.1,571.63L215.6,571.63L215.6,573.07L216.6,573.07L216.6,571.81L217.1,571.81L217.1,573.07L217.6,573.07L217.6,572.04L218.1,572.04L218.1,571.43L218.6,571.43L218.6,571.42L219.1,571.42L219.1,571.52L219.6,571.52L219.6,571.52L220.1,571.52L220.1,571.63L220.6,571.63L220.6,571.82L221.1,571.82L221.1,571.43L221.6,571.43L221.6,571.97L222.1,571.97L222.1,573.07L222.6,573.07L222.6,571.99L223.1,571.99L223.1,573.07L223.6,573.07L223.6,571.67L224.1,571.67L224.1,571.57L224.6,571.57L224.6,571.94L225.1,571.94L225.1,571.74L225.6,571.74L225.6,571.55L226.1,571.55L226.1,573.07L226.6,573.07L226.6,571.49L227.1,571.49L227.1,572.01L227.6,572.01L227.6,571.79L228.1,571.79L228.1,573.07L229.1,573.07L229.1,571.76L229.6,571.76L229.6,571.47L230.1,571.47L230.1,571.47L230.6,571.47L230.6,573.07L231.1,573.07L231.1,571.58L231.6,571.58L231.6,571.43L232.1,571.43L232.1,573.07L232.6,573.07L232.6,572.01L233.1,572.01L233.1,573.07L233.6,573.07L233.6,571.72L234.1,571.72L234.1,571.47L234.6,571.47L234.6,573.07L235.1,573.07L235.1,571.27L235.6,571.27L235.6,573.07L236.1,573.07L236.1,572.07L236.6,572.07L236.6,573.07L237.1,573.07L237.1,571.73L237.6,571.73L237.6,573.07L238.1,573.07L238.1,571.54L238.6,571.54L238.6,571.50L239.1,571.50L239.1,571.58L239.6,571.58L239.6,571.87L240.1,571.87L240.1,571.93L240.6,571.93L240.6,572.03L241.1,572.03L241.1,571.94L241.6,571.94L241.6,573.07L242.1,573.07L242.1,571.81L242.6,571.81L242.6,573.07L244.1,573.07L244.1,572.01L244.6,572.01L244.6,573.07L245.1,573.07L245.1,571.72L245.6,571.72L245.6,573.07L246.1,573.07L246.1,572.01L246.6,572.01L246.6,571.96L247.1,571.96L247.1,572.06L247.6,572.06L247.6,573.07L248.1,573.07L248.1,571.27L248.6,571.27L248.6,573.07L249.6,573.07L249.6,571.34L250.1,571.34L250.1,573.07L250.6,573.07L250.6,571.56L251.1,571.56L251.1,571.74L251.6,571.74L251.6,571.79L252.1,571.79L252.1,573.07L252.6,573.07L252.6,571.62L253.1,571.62L253.1,571.58L253.6,571.58L253.6,571.86L254.1,571.86L254.1,571.32L254.6,571.32L254.6,571.55L255.1,571.55L255.1,571.57L255.6,571.57L255.6,571.46L256.1,571.46L256.1,571.34L256.6,571.34L256.6,571.94L257.1,571.94L257.1,571.87L257.6,571.87L257.6,573.07L258.1,573.07L258.1,571.53L258.6,571.53L258.6,573.07L259.1,573.07L259.1,571.81L259.6,571.81L259.6,573.07L261.6,573.07L261.6,571.66L262.1,571.66L262.1,571.74L262.6,571.74L262.6,573.07L263.1,573.07L263.1,571.98L263.6,571.98L263.6,573.07L264.1,573.07L264.1,571.31L264.6,571.31L264.6,573.07L265.1,573.07L265.1,572.01L265.6,572.01L265.6,573.07L266.1,573.07L266.1,571.88L266.6,571.88L266.6,571.40L267.1,571.40L267.1,571.79L267.6,571.79L267.6,572.07L268.1,572.07L268.1,571.54L268.6,571.54L268.6,573.07L269.1,573.07L269.1,571.48L269.6,571.48L269.6,571.30L270.1,571.30L270.1,572.00L270.6,572.00L270.6,571.84L271.1,571.84L271.1,571.45L271.6,571.45L271.6,571.71L272.1,571.71L272.1,571.94L272.6,571.94L272.6,571.80L273.1,571.80L273.1,571.85L273.6,571.85L273.6,573.07L275.1,573.07L275.1,571.54L275.6,571.54L275.6,571.47L276.1,571.47L276.1,573.07L277.1,573.07L277.1,571.85L277.6,571.85L277.6,571.28L278.1,571.28L278.1,573.07L279.6,573.07L279.6,571.56L280.1,571.56L280.1,571.83L280.6,571.83L280.6,571.62L281.1,571.62L281.1,571.88L281.6,571.88L281.6,572.00L282.1,572.00L282.1,571.81L282.6,571.81L282.6,571.43L283.1,571.43L283.1,571.97L283.6,571.97L283.6,572.04L284.1,572.04L284.1,573.07L285.1,573.07L285.1,571.37L285.6,571.37L285.6,573.07L287.1,573.07L287.1,571.52L287.6,571.52L287.6,573.07L288.1,573.07L288.1,571.72L288.6,571.72L288.6,573.07L289.5,573.07L289.5,573.1Z" fill="#dc2b5e"/>
<path d="M317.3,556.5L317.3,556.55L317.3,556.55L320.3,556.55L320.3,555.65L320.8,555.65L320.8,555.82L321.3,555.82L321.3,555.52L321.8,555.52L321.8,555.87L322.3,555.87L322.3,555.44L322.8,555.44L322.8,556.55L323.3,556.55L323.3,555.57L323.8,555.57L323.8,555.53L324.3,555.53L324.3,556.55L325.3,556.55L325.3,555.73L325.8,555.73L325.8,556.55L326.3,556.55L326.3,555.51L326.8,555.51L326.8,555.44L327.3,555.44L327.3,555.09L327.8,555.09L327.8,555.59L328.3,555.59L328.3,555.55L328.8,555.55L328.8,555.13L329.3,555.13L329.3,556.55L329.8,556.55L329.8,555.42L330.3,555.42L330.3,556.55L330.8,556.55L330.8,555.26L331.3,555.26L331.3,555.51L331.8,555.51L331.8,555.29L332.3,555.29L332.3,555.35L332.8,555.35L332.8,556.55L333.3,556.55L333.3,555.04L333.8,555.04L333.8,555.08L334.3,555.08L334.3,556.55L334.8,556.55L334.8,555.02L335.3,555.02L335.3,555.18L335.8,555.18L335.8,556.55L336.3,556.55L336.3,554.69L336.8,554.69L336.8,554.34L337.3,554.34L337.3,554.82L337.8,554.82L337.8,554.63L338.3,554.63L338.3,554.89L338.8,554.89L338.8,554.18L339.3,554.18L339.3,556.55L339.8,556.55L339.8,554.14L340.3,554.14L340.3,555.12L340.8,555.12L340.8,554.97L341.3,554.97L341.3,554.90L341.8,554.90L341.8,554.07L342.3,554.07L342.3,554.00L342.8,554.00L342.8,556.55L343.3,556.55L343.3,554.51L343.8,554.51L343.8,553.80L344.3,553.80L344.3,553.95L344.8,553.95L344.8,554.71L345.3,554.71L345.3,554.48L345.8,554.48L345.8,553.68L346.3,553.68L346.3,553.81L346.8,553.81L346.8,554.02L347.3,554.02L347.3,553.76L347.8,553.76L347.8,554.17L348.3,554.17L348.3,553.55L348.8,553.55L348.8,554.25L349.3,554.25L349.3,552.74L349.8,552.74L349.8,552.96L350.3,552.96L350.3,553.48L350.8,553.48L350.8,552.55L351.3,552.55L351.3,553.03L351.8,553.03L351.8,553.16L352.3,553.16L352.3,552.97L352.8,552.97L352.8,552.80L353.3,552.80L353.3,552.17L353.8,552.17L353.8,552.51L354.3,552.51L354.3,553.57L354.8,553.57L354.8,553.89L355.3,553.89L355.3,556.55L355.8,556.55L355.8,552.35L356.3,552.35L356.3,552.63L356.8,552.63L356.8,552.78L357.3,552.78L357.3,551.69L357.8,551.69L357.8,553.68L358.3,553.68L358.3,553.38L358.8,553.38L358.8,552.96L359.3,552.96L359.3,551.30L359.8,551.30L359.8,551.95L360.3,551.95L360.3,552.12L360.8,552.12L360.8,552.70L361.3,552.70L361.3,553.11L361.8,553.11L361.8,553.42L362.3,553.42L362.3,553.06L362.8,553.06L362.8,552.93L363.3,552.93L363.3,552.00L363.8,552.00L363.8,552.33L364.3,552.33L364.3,550.64L364.8,550.64L364.8,550.72L365.3,550.72L365.3,551.66L365.8,551.66L365.8,552.69L366.3,552.69L366.3,552.21L366.8,552.21L366.8,552.99L367.3,552.99L367.3,551.12L367.8,551.12L367.8,551.87L368.3,551.87L368.3,550.22L368.8,550.22L368.8,551.97L369.3,551.97L369.3,550.31L369.8,550.31L369.8,551.64L370.3,551.64L370.3,556.55L370.8,556.55L370.8,551.65L371.3,551.65L371.3,550.18L371.8,550.18L371.8,551.97L372.3,551.97L372.3,552.12L372.8,552.12L372.8,552.43L373.3,552.43L373.3,551.31L373.8,551.31L373.8,550.10L374.3,550.10L374.3,550.94L374.8,550.94L374.8,549.61L375.3,549.61L375.3,551.68L375.8,551.68L375.8,550.75L376.3,550.75L376.3,549.69L376.8,549.69L376.8,550.57L377.3,550.57L377.3,548.76L377.8,548.76L377.8,551.36L378.3,551.36L378.3,548.42L378.8,548.42L378.8,549.64L379.3,549.64L379.3,549.58L379.8,549.58L379.8,549.22L380.3,549.22L380.3,550.76L380.8,550.76L380.8,549.98L381.3,549.98L381.3,550.79L381.8,550.79L381.8,548.35L382.3,548.35L382.3,550.19L382.8,550.19L382.8,545.55L383.8,545.55L383.8,549.91L384.3,549.91L384.3,547.23L384.8,547.23L384.8,549.31L385.3,549.31L385.3,548.33L385.8,548.33L385.8,547.64L386.3,547.64L386.3,548.75L386.8,548.75L386.8,546.72L387.3,546.72L387.3,547.23L387.8,547.23L387.8,545.55L388.8,545.55L388.8,556.55L389.3,556.55L389.3,549.88L389.8,549.88L389.8,549.94L390.3,549.94L390.3,547.98L390.8,547.98L390.8,545.84L391.3,545.84L391.3,556.55L396.3,556.55L396.3,548.19L396.8,548.19L396.8,546.36L397.3,546.36L397.3,549.76L397.8,549.76L397.8,550.48L398.3,550.48L398.3,547.45L398.8,547.45L398.8,548.16L399.3,548.16L399.3,549.42L399.8,549.42L399.8,549.27L400.3,549.27L400.3,549.60L400.8,549.60L400.8,548.15L401.3,548.15L401.3,547.31L401.8,547.31L401.8,549.86L402.3,549.86L402.3,547.23L402.8,547.23L402.8,549.42L403.3,549.42L403.3,549.16L403.8,549.16L403.8,550.21L404.3,550.21L404.3,550.44L404.8,550.44L404.8,548.31L405.3,548.31L405.3,549.99L405.8,549.99L405.8,551.52L406.3,551.52L406.3,551.84L406.8,551.84L406.8,550.67L407.3,550.67L407.3,550.73L407.8,550.73L407.8,551.91L408.3,551.91L408.3,552.26L408.8,552.26L408.8,550.82L409.3,550.82L409.3,551.53L409.8,551.53L409.8,553.16L410.3,553.16L410.3,551.83L410.8,551.83L410.8,553.77L411.3,553.77L411.3,552.39L411.8,552.39L411.8,552.72L412.3,552.72L412.3,554.66L412.8,554.66L412.8,556.55L413.8,556.55L413.8,553.92L414.3,553.92L414.3,554.56L414.8,554.56L414.8,554.43L415.3,554.43L415.3,554.95L415.8,554.95L415.8,554.36L416.3,554.36L416.3,554.63L416.8,554.63L416.8,554.35L417.3,554.35L417.3,554.25L417.8,554.25L417.8,556.55L418.3,556.55L418.3,554.91L418.8,554.91L418.8,554.11L419.3,554.11L419.3,554.10L419.8,554.10L419.8,553.77L420.3,553.77L420.3,554.38L420.8,554.38L420.8,554.93L421.3,554.93L421.3,554.91L421.8,554.91L421.8,553.79L422.3,553.79L422.3,556.55L422.8,556.55L422.8,555.57L423.3,555.57L423.3,555.53L423.8,555.53L423.8,555.28L424.3,555.28L424.3,556.55L426.3,556.55L426.3,555.62L426.8,555.62L426.8,556.55L427.3,556.55L427.3,555.77L427.8,555.77L427.8,556.55L428.3,556.55L428.3,555.30L428.8,555.30L428.8,555.36L429.3,555.36L429.3,555.52L429.8,555.52L429.8,555.68L430.3,555.68L430.3,556.55L430.8,556.55L430.8,555.74L431.3,555.74L431.3,556.55L431.8,556.55L431.8,555.73L432.3,555.73L432.3,555.60L432.8,555.60L432.8,555.83L433.3,555.83L433.3,555.57L433.8,555.57L433.8,555.57L434.3,555.57L434.3,556.55L435.8,556.55L435.8,555.75L436.3,555.75L436.3,555.67L436.8,555.67L436.8,556.55L437.3,556.55L437.3,555.27L437.8,555.27L437.8,556.55L438.3,556.55L438.3,555.46L438.8,555.46L438.8,555.35L439.3,555.35L439.3,556.55L440.3,556.55L440.3,555.73L440.8,555.73L440.8,556.55L441.8,556.55L441.8,555.53L442.3,555.53L442.3,555.31L442.8,555.31L442.8,556.55L444.3,556.55L444.3,555.44L444.8,555.44L444.8,555.72L445.3,555.72L445.3,555.30L445.8,555.30L445.8,555.69L446.3,555.69L446.3,555.65L446.8,555.65L446.8,556.55L447.8,556.55L447.8,555.68L448.3,555.68L448.3,555.55L448.8,555.55L448.8,556.55L450.3,556.55L450.3,555.62L450.8,555.62L450.8,556.55L451.8,556.55L451.8,555.65L452.3,555.65L452.3,556.55L452.8,556.55L452.8,555.38L453.3,555.38L453.3,556.55L453.8,556.55L453.8,555.69L454.3,555.69L454.3,555.67L454.8,555.67L454.8,556.55L455.3,556.55L455.3,555.76L455.8,555.76L455.8,556.55L457.3,556.55L457.3,555.77L457.8,555.77L457.8,555.63L458.3,555.63L458.3,555.28L458.8,555.28L458.8,555.57L459.3,555.57L459.3,555.31L459.8,555.31L459.8,555.70L460.3,555.70L460.3,556.55L460.8,556.55L460.8,555.78L461.3,555.78L461.3,555.28L461.8,555.28L461.8,555.27L462.3,555.27L462.3,555.43L462.8,555.43L462.8,555.72L463.3,555.72L463.3,555.39L463.8,555.39L463.8,555.36L464.3,555.36L464.3,556.55L465.3,556.55L465.3,555.69L465.8,555.69L465.8,555.38L466.3,555.38L466.3,555.70L466.8,555.70L466.8,555.54L467.3,555.54L467.3,555.60L467.8,555.60L467.8,555.71L468.3,555.71L468.3,555.68L468.8,555.68L468.8,555.32L469.3,555.32L469.3,556.55L469.8,556.55L469.8,555.55L470.3,555.55L470.3,555.55L470.8,555.55L470.8,555.77L471.3,555.77L471.3,555.79L471.8,555.79L471.8,555.58L472.3,555.58L472.3,555.63L472.8,555.63L472.8,556.55L474.3,556.55L474.3,555.46L474.8,555.46L474.8,555.26L475.3,555.26L475.3,556.55L475.8,556.55L475.8,555.60L476.3,555.60L476.3,555.43L476.8,555.43L476.8,556.55L477.3,556.55L477.3,555.76L477.8,555.76L477.8,556.55L478.8,556.55L478.8,555.83L479.3,555.83L479.3,555.64L479.8,555.64L479.8,555.32L480.3,555.32L480.3,556.55L480.8,556.55L480.8,555.31L481.3,555.31L481.3,555.48L481.8,555.48L481.8,555.35L482.3,555.35L482.3,556.55L482.8,556.55L482.8,555.42L483.3,555.42L483.3,555.32L483.8,555.32L483.8,556.55L484.3,556.55L484.3,555.77L484.8,555.77L484.8,554.04L485.3,554.04L485.3,554.65L485.8,554.65L485.8,554.87L486.3,554.87L486.3,554.42L486.8,554.42L486.8,554.44L487.3,554.44L487.3,554.20L487.8,554.20L487.8,554.47L488.3,554.47L488.3,555.11L488.8,555.11L488.8,554.55L489.3,554.55L489.3,554.90L489.4,554.90L489.4,556.5Z" fill="#2020ee"/>
<path d="M317.3,573.2L317.3,573.24L317.3,571.84L317.8,571.84L317.8,572.32L318.3,572.32L318.3,573.24L318.8,573.24L318.8,571.84L319.3,571.84L319.3,571.91L319.8,571.91L319.8,572.03L320.3,572.03L320.3,571.67L320.8,571.67L320.8,571.59L321.3,571.59L321.3,571.82L321.8,571.82L321.8,572.05L322.3,572.05L322.3,571.44L322.8,571.44L322.8,571.81L323.3,571.81L323.3,571.90L323.8,571.90L323.8,572.07L324.3,572.07L324.3,571.33L324.8,571.33L324.8,571.52L325.3,571.52L325.3,572.06L325.8,572.06L325.8,571.94L326.3,571.94L326.3,571.22L326.8,571.22L326.8,572.00L327.3,572.00L327.3,571.39L327.8,571.39L327.8,571.47L328.3,571.47L328.3,571.51L328.8,571.51L328.8,573.24L329.3,573.24L329.3,571.63L329.8,571.63L329.8,571.31L330.3,571.31L330.3,571.01L330.8,571.01L330.8,571.31L331.3,571.31L331.3,573.24L331.8,573.24L331.8,571.21L332.3,571.21L332.3,571.66L332.8,571.66L332.8,571.47L333.3,571.47L333.3,571.01L333.8,571.01L333.8,571.15L334.3,571.15L334.3,571.66L334.8,571.66L334.8,570.74L335.3,570.74L335.3,571.26L335.8,571.26L335.8,571.44L336.3,571.44L336.3,571.54L336.8,571.54L336.8,570.55L337.3,570.55L337.3,570.76L337.8,570.76L337.8,571.27L338.3,571.27L338.3,571.40L338.8,571.40L338.8,570.51L339.3,570.51L339.3,571.42L339.8,571.42L339.8,570.90L340.3,570.90L340.3,570.39L340.8,570.39L340.8,570.60L341.3,570.60L341.3,570.96L341.8,570.96L341.8,570.53L342.3,570.53L342.3,570.17L342.8,570.17L342.8,570.04L343.3,570.04L343.3,570.27L343.8,570.27L343.8,570.48L344.3,570.48L344.3,571.04L344.8,571.04L344.8,570.94L345.3,570.94L345.3,569.96L345.8,569.96L345.8,570.33L346.3,570.33L346.3,569.75L346.8,569.75L346.8,569.97L347.3,569.97L347.3,570.14L347.8,570.14L347.8,570.46L348.3,570.46L348.3,569.12L348.8,569.12L348.8,570.21L349.3,570.21L349.3,569.41L349.8,569.41L349.8,573.24L350.3,573.24L350.3,568.55L350.8,568.55L350.8,570.24L351.3,570.24L351.3,569.41L351.8,569.41L351.8,568.64L352.3,568.64L352.3,569.90L352.8,569.90L352.8,568.87L353.3,568.87L353.3,569.37L353.8,569.37L353.8,567.97L354.3,567.97L354.3,569.91L354.8,569.91L354.8,569.72L355.3,569.72L355.3,568.77L355.8,568.77L355.8,568.35L356.3,568.35L356.3,568.55L356.8,568.55L356.8,569.52L357.3,569.52L357.3,568.64L357.8,568.64L357.8,569.74L358.3,569.74L358.3,568.01L358.8,568.01L358.8,568.90L359.3,568.90L359.3,567.04L359.8,567.04L359.8,568.57L360.3,568.57L360.3,569.53L360.8,569.53L360.8,569.59L361.3,569.59L361.3,568.60L361.8,568.60L361.8,568.74L362.3,568.74L362.3,566.57L362.8,566.57L362.8,567.01L363.3,567.01L363.3,568.24L363.8,568.24L363.8,568.52L364.3,568.52L364.3,569.08L364.8,569.08L364.8,568.85L365.3,568.85L365.3,566.75L365.8,566.75L365.8,568.97L366.3,568.97L366.3,566.46L366.8,566.46L366.8,567.71L367.3,567.71L367.3,566.66L367.8,566.66L367.8,573.24L368.3,573.24L368.3,568.54L368.8,568.54L368.8,566.18L369.3,566.18L369.3,565.66L369.8,565.66L369.8,568.38L370.3,568.38L370.3,565.15L370.8,565.15L370.8,573.24L371.3,573.24L371.3,566.36L371.8,566.36L371.8,565.94L372.3,565.94L372.3,568.37L372.8,568.37L372.8,573.24L373.3,573.24L373.3,564.90L373.8,564.90L373.8,564.99L374.3,564.99L374.3,567.49L374.8,567.49L374.8,566.10L375.3,566.10L375.3,565.50L375.8,565.50L375.8,566.71L376.3,566.71L376.3,566.34L376.8,566.34L376.8,567.63L377.3,567.63L377.3,566.73L377.8,566.73L377.8,564.94L378.3,564.94L378.3,565.56L378.8,565.56L378.8,563.85L379.3,563.85L379.3,566.72L379.8,566.72L379.8,561.24L380.8,561.24L380.8,563.35L381.3,563.35L381.3,565.96L381.8,565.96L381.8,565.77L382.3,565.77L382.3,567.28L382.8,567.28L382.8,566.38L383.3,566.38L383.3,563.11L383.8,563.11L383.8,562.70L384.3,562.70L384.3,564.96L384.8,564.96L384.8,561.24L385.8,561.24L385.8,563.96L386.3,563.96L386.3,562.55L386.8,562.55L386.8,565.31L387.3,565.31L387.3,563.78L387.8,563.78L387.8,563.15L388.3,563.15L388.3,566.19L388.8,566.19L388.8,565.52L389.3,565.52L389.3,563.70L389.8,563.70L389.8,565.39L390.3,565.39L390.3,565.85L390.8,565.85L390.8,565.79L391.3,565.79L391.3,573.24L396.3,573.24L396.3,564.72L396.8,564.72L396.8,563.36L397.3,563.36L397.3,564.31L397.8,564.31L397.8,565.01L398.3,565.01L398.3,563.89L398.8,563.89L398.8,564.21L399.3,564.21L399.3,566.82L399.8,566.82L399.8,565.57L400.3,565.57L400.3,563.06L400.8,563.06L400.8,566.65L401.3,566.65L401.3,565.00L401.8,565.00L401.8,564.53L402.3,564.53L402.3,567.01L402.8,567.01L402.8,566.70L403.3,566.70L403.3,566.20L403.8,566.20L403.8,565.01L404.3,565.01L404.3,566.68L404.8,566.68L404.8,565.70L405.3,565.70L405.3,564.04L405.8,564.04L405.8,564.09L406.3,564.09L406.3,567.80L406.8,567.80L406.8,565.76L407.3,565.76L407.3,568.45L407.8,568.45L407.8,568.25L408.3,568.25L408.3,567.42L408.8,567.42L408.8,568.55L409.3,568.55L409.3,566.77L409.8,566.77L409.8,567.46L410.3,567.46L410.3,568.00L410.8,568.00L410.8,573.24L411.3,573.24L411.3,568.41L411.8,568.41L411.8,568.88L412.3,568.88L412.3,570.42L412.8,570.42L412.8,570.09L413.3,570.09L413.3,569.48L413.8,569.48L413.8,569.75L414.3,569.75L414.3,569.49L414.8,569.49L414.8,570.37L415.3,570.37L415.3,570.43L415.8,570.43L415.8,568.97L416.3,568.97L416.3,570.96L416.8,570.96L416.8,571.21L417.3,571.21L417.3,571.45L417.8,571.45L417.8,570.89L418.3,570.89L418.3,570.17L418.8,570.17L418.8,571.44L419.3,571.44L419.3,571.20L419.8,571.20L419.8,570.72L420.3,570.72L420.3,571.37L420.8,571.37L420.8,571.05L421.3,571.05L421.3,570.40L421.8,570.40L421.8,571.17L422.3,571.17L422.3,571.04L422.8,571.04L422.8,571.07L423.3,571.07L423.3,571.18L423.8,571.18L423.8,570.32L424.3,570.32L424.3,570.11L424.8,570.11L424.8,570.63L425.3,570.63L425.3,571.11L425.8,571.11L425.8,571.13L426.3,571.13L426.3,570.49L426.8,570.49L426.8,570.44L427.3,570.44L427.3,570.30L427.8,570.30L427.8,571.28L428.3,571.28L428.3,571.19L428.8,571.19L428.8,570.99L429.3,570.99L429.3,570.86L429.8,570.86L429.8,570.31L430.3,570.31L430.3,571.35L430.8,571.35L430.8,571.05L431.3,571.05L431.3,571.31L431.8,571.31L431.8,570.32L432.3,570.32L432.3,570.46L432.8,570.46L432.8,570.32L433.3,570.32L433.3,571.02L433.8,571.02L433.8,570.72L434.3,570.72L434.3,570.20L434.8,570.20L434.8,571.45L435.3,571.45L435.3,570.33L435.8,570.33L435.8,570.37L436.3,570.37L436.3,570.85L436.8,570.85L436.8,570.36L437.3,570.36L437.3,570.39L437.8,570.39L437.8,571.22L438.3,571.22L438.3,570.09L438.8,570.09L438.8,570.13L439.3,570.13L439.3,571.11L439.8,571.11L439.8,570.11L440.3,570.11L440.3,571.51L440.8,571.51L440.8,571.74L441.3,571.74L441.3,571.60L441.8,571.60L441.8,573.24L442.3,573.24L442.3,571.14L442.8,571.14L442.8,571.68L443.3,571.68L443.3,571.40L443.8,571.40L443.8,571.96L444.3,571.96L444.3,571.25L444.8,571.25L444.8,571.96L445.3,571.96L445.3,571.32L445.8,571.32L445.8,571.72L446.3,571.72L446.3,571.88L446.8,571.88L446.8,571.89L447.3,571.89L447.3,571.07L447.8,571.07L447.8,571.81L448.3,571.81L448.3,571.56L448.8,571.56L448.8,571.88L449.3,571.88L449.3,571.54L449.8,571.54L449.8,571.22L450.3,571.22L450.3,571.78L450.8,571.78L450.8,571.32L451.3,571.32L451.3,571.68L451.8,571.68L451.8,571.91L452.3,571.91L452.3,571.23L452.8,571.23L452.8,571.69L453.3,571.69L453.3,571.40L453.8,571.40L453.8,573.24L454.3,573.24L454.3,571.31L454.8,571.31L454.8,571.70L455.3,571.70L455.3,571.42L455.8,571.42L455.8,571.29L456.3,571.29L456.3,571.82L456.8,571.82L456.8,571.08L457.3,571.08L457.3,571.81L457.8,571.81L457.8,571.99L458.3,571.99L458.3,571.50L458.8,571.50L458.8,571.56L459.3,571.56L459.3,571.88L459.8,571.88L459.8,571.55L460.3,571.55L460.3,571.76L460.8,571.76L460.8,571.22L461.3,571.22L461.3,571.54L461.8,571.54L461.8,571.51L462.3,571.51L462.3,571.89L462.8,571.89L462.8,571.09L463.3,571.09L463.3,571.78L463.8,571.78L463.8,571.45L464.3,571.45L464.3,571.26L464.8,571.26L464.8,571.51L465.3,571.51L465.3,571.71L465.8,571.71L465.8,571.39L466.3,571.39L466.3,573.24L466.8,573.24L466.8,571.89L467.3,571.89L467.3,571.78L467.8,571.78L467.8,571.85L468.3,571.85L468.3,572.01L468.8,572.01L468.8,571.42L469.3,571.42L469.3,571.04L469.8,571.04L469.8,571.76L470.3,571.76L470.3,573.24L470.8,573.24L470.8,571.65L471.3,571.65L471.3,571.13L471.8,571.13L471.8,571.94L472.3,571.94L472.3,571.72L472.8,571.72L472.8,571.19L473.3,571.19L473.3,571.13L473.8,571.13L473.8,571.24L474.3,571.24L474.3,571.35L474.8,571.35L474.8,571.72L475.3,571.72L475.3,571.05L475.8,571.05L475.8,571.46L476.3,571.46L476.3,571.22L476.8,571.22L476.8,573.24L477.3,573.24L477.3,571.10L477.8,571.10L477.8,571.41L478.3,571.41L478.3,571.33L478.8,571.33L478.8,571.89L479.3,571.89L479.3,571.62L479.8,571.62L479.8,571.93L480.3,571.93L480.3,571.68L480.8,571.68L480.8,571.47L481.3,571.47L481.3,571.74L481.8,571.74L481.8,572.02L482.3,572.02L482.3,571.60L482.8,571.60L482.8,571.28L483.3,571.28L483.3,571.65L483.8,571.65L483.8,571.26L484.3,571.26L484.3,573.24L484.8,573.24L484.8,571.49L485.3,571.49L485.3,570.80L485.8,570.80L485.8,569.85L486.3,569.85L486.3,570.89L486.8,570.89L486.8,571.52L487.3,571.52L487.3,571.24L487.8,571.24L487.8,570.91L488.3,570.91L488.3,570.02L488.8,570.02L488.8,570.93L489.3,570.93L489.3,570.74L489.4,570.74L489.4,573.2Z" fill="#dc2b5e"/>
<path d="M100.6,589.1L100.6,589.14L100.6,586.27L101.1,586.27L101.1,589.14L102.1,589.14L102.1,586.89L102.6,586.89L102.6,589.14L103.1,589.14L103.1,586.16L103.6,586.16L103.6,586.16L104.1,586.16L104.1,587.41L104.6,587.41L104.6,586.20L105.1,586.20L105.1,589.14L108.1,589.14L108.1,588.00L108.6,588.00L108.6,587.26L109.1,587.26L109.1,588.02L109.6,588.02L109.6,589.14L110.1,589.14L110.1,587.50L110.6,587.50L110.6,587.68L111.1,587.68L111.1,587.77L111.6,587.77L111.6,587.69L112.1,587.69L112.1,587.23L112.6,587.23L112.6,587.52L113.1,587.52L113.1,587.91L113.6,587.91L113.6,587.53L114.1,587.53L114.1,587.76L114.6,587.76L114.6,587.23L115.1,587.23L115.1,589.14L118.1,589.14L118.1,587.16L118.6,587.16L118.6,587.35L119.1,587.35L119.1,587.32L119.6,587.32L119.6,586.78L120.1,586.78L120.1,586.91L120.6,586.91L120.6,587.33L121.1,587.33L121.1,589.14L121.6,589.14L121.6,587.34L122.1,587.34L122.1,587.67L122.6,587.67L122.6,587.51L123.1,587.51L123.1,587.29L123.6,587.29L123.6,587.27L124.1,587.27L124.1,589.14L124.6,589.14L124.6,586.97L125.1,586.97L125.1,589.14L127.1,589.14L127.1,587.90L127.6,587.90L127.6,587.65L128.1,587.65L128.1,587.21L128.6,587.21L128.6,587.91L129.1,587.91L129.1,589.14L129.6,589.14L129.6,587.14L130.1,587.14L130.1,587.37L130.6,587.37L130.6,587.55L131.1,587.55L131.1,587.89L131.6,587.89L131.6,589.14L132.1,589.14L132.1,587.74L132.6,587.74L132.6,587.87L133.1,587.87L133.1,589.14L135.6,589.14L135.6,586.19L136.1,586.19L136.1,587.47L136.6,587.47L136.6,587.28L137.1,587.28L137.1,586.54L137.6,586.54L137.6,586.33L138.1,586.33L138.1,586.22L138.6,586.22L138.6,586.69L139.1,586.69L139.1,589.14L139.6,589.14L139.6,587.45L140.1,587.45L140.1,584.55L140.6,584.55L140.6,584.32L141.1,584.32L141.1,584.94L141.6,584.94L141.6,584.48L142.1,584.48L142.1,585.48L142.6,585.48L142.6,585.06L143.1,585.06L143.1,585.15L143.6,585.15L143.6,585.40L144.1,585.40L144.1,585.38L144.6,585.38L144.6,583.14L145.6,583.14L145.6,584.51L146.1,584.51L146.1,584.79L146.6,584.79L146.6,585.94L147.1,585.94L147.1,585.61L147.6,585.61L147.6,589.14L148.1,589.14L148.1,585.44L148.6,585.44L148.6,583.64L149.6,583.64L149.6,584.16L150.1,584.16L150.1,585.51L150.6,585.51L150.6,584.18L151.1,584.18L151.1,585.52L151.6,585.52L151.6,585.44L152.1,585.44L152.1,586.00L152.6,586.00L152.6,581.14L153.6,581.14L153.6,584.63L154.1,584.63L154.1,585.27L154.6,585.27L154.6,584.45L155.1,584.45L155.1,584.99L155.6,584.99L155.6,584.26L156.1,584.26L156.1,585.23L156.6,585.23L156.6,585.88L157.1,585.88L157.1,581.64L158.1,581.64L158.1,589.14L158.6,589.14L158.6,581.64L159.6,581.64L159.6,586.35L160.1,586.35L160.1,584.56L160.6,584.56L160.6,581.64L161.6,581.64L161.6,585.23L162.1,585.23L162.1,584.62L162.6,584.62L162.6,585.87L163.1,585.87L163.1,589.14L163.6,589.14L163.6,586.18L164.1,586.18L164.1,584.17L164.6,584.17L164.6,585.92L165.1,585.92L165.1,589.14L167.6,589.14L167.6,587.03L168.1,587.03L168.1,587.05L168.6,587.05L168.6,586.45L169.1,586.45L169.1,585.71L169.6,585.71L169.6,585.91L170.1,585.91L170.1,586.17L170.6,586.17L170.6,586.59L171.1,586.59L171.1,585.72L171.6,585.72L171.6,586.47L172.1,586.47L172.1,587.00L172.6,587.00L172.6,586.27L173.1,586.27L173.1,589.14L173.6,589.14L173.6,585.85L174.1,585.85L174.1,589.14L175.1,589.14L175.1,585.87L175.6,585.87L175.6,585.97L176.1,585.97L176.1,585.97L176.6,585.97L176.6,585.98L177.1,585.98L177.1,589.14L177.6,589.14L177.6,587.17L178.1,587.17L178.1,586.82L178.6,586.82L178.6,586.19L179.1,586.19L179.1,586.72L179.6,586.72L179.6,585.66L180.1,585.66L180.1,587.36L180.6,587.36L180.6,589.14L181.1,589.14L181.1,587.76L181.6,587.76L181.6,587.61L182.1,587.61L182.1,589.14L183.1,589.14L183.1,587.91L183.6,587.91L183.6,589.14L184.6,589.14L184.6,587.93L185.1,587.93L185.1,589.14L185.6,589.14L185.6,587.73L186.1,587.73L186.1,589.14L187.1,589.14L187.1,587.56L187.6,587.56L187.6,589.14L188.1,589.14L188.1,587.83L188.6,587.83L188.6,587.33L189.1,587.33L189.1,587.37L189.6,587.37L189.6,587.47L190.1,587.47L190.1,589.14L190.6,589.14L190.6,587.50L191.1,587.50L191.1,587.32L191.6,587.32L191.6,587.18L192.1,587.18L192.1,587.27L192.6,587.27L192.6,587.52L193.1,587.52L193.1,587.78L193.6,587.78L193.6,589.14L194.6,589.14L194.6,587.39L195.1,587.39L195.1,588.02L195.6,588.02L195.6,589.14L196.1,589.14L196.1,587.74L196.6,587.74L196.6,587.92L197.1,587.92L197.1,587.18L197.6,587.18L197.6,589.14L198.1,589.14L198.1,587.66L198.6,587.66L198.6,587.54L199.1,587.54L199.1,588.03L199.6,588.03L199.6,587.18L200.1,587.18L200.1,589.14L201.1,589.14L201.1,587.42L201.6,587.42L201.6,589.14L202.1,589.14L202.1,587.36L202.6,587.36L202.6,589.14L204.6,589.14L204.6,587.55L205.1,587.55L205.1,589.14L205.6,589.14L205.6,587.68L206.1,587.68L206.1,589.14L207.1,589.14L207.1,587.84L207.6,587.84L207.6,587.42L208.1,587.42L208.1,589.14L209.1,589.14L209.1,587.67L209.6,587.67L209.6,589.14L212.1,589.14L212.1,588.16L212.6,588.16L212.6,589.14L214.1,589.14L214.1,587.59L214.6,587.59L214.6,589.14L217.1,589.14L217.1,587.94L217.6,587.94L217.6,589.14L219.6,589.14L219.6,588.12L220.1,588.12L220.1,587.91L220.6,587.91L220.6,587.47L221.1,587.47L221.1,589.14L221.6,589.14L221.6,587.57L222.1,587.57L222.1,589.14L223.6,589.14L223.6,587.90L224.1,587.90L224.1,587.50L224.6,587.50L224.6,589.14L229.1,589.14L229.1,587.74L229.6,587.74L229.6,587.94L230.1,587.94L230.1,589.14L230.6,589.14L230.6,588.15L231.1,588.15L231.1,589.14L232.1,589.14L232.1,587.63L232.6,587.63L232.6,589.14L234.1,589.14L234.1,588.02L234.6,588.02L234.6,589.14L239.6,589.14L239.6,587.78L240.1,587.78L240.1,588.02L240.6,588.02L240.6,587.67L241.1,587.67L241.1,589.14L246.6,589.14L246.6,588.19L247.1,588.19L247.1,589.14L247.6,589.14L247.6,587.99L248.1,587.99L248.1,587.68L248.6,587.68L248.6,589.14L249.1,589.14L249.1,587.48L249.6,587.48L249.6,589.14L250.1,589.14L250.1,587.58L250.6,587.58L250.6,589.14L251.6,589.14L251.6,587.98L252.1,587.98L252.1,589.14L253.6,589.14L253.6,587.88L254.1,587.88L254.1,587.79L254.6,587.79L254.6,589.14L256.1,589.14L256.1,587.39L256.6,587.39L256.6,588.08L257.1,588.08L257.1,589.14L258.1,589.14L258.1,587.53L258.6,587.53L258.6,589.14L259.6,589.14L259.6,588.14L260.1,588.14L260.1,587.48L260.6,587.48L260.6,588.14L261.1,588.14L261.1,589.14L262.1,589.14L262.1,587.90L262.6,587.90L262.6,587.91L263.1,587.91L263.1,589.14L264.1,589.14L264.1,587.64L264.6,587.64L264.6,589.14L265.1,589.14L265.1,587.96L265.6,587.96L265.6,587.51L266.1,587.51L266.1,589.14L266.6,589.14L266.6,587.35L267.1,587.35L267.1,589.14L268.1,589.14L268.1,587.59L268.6,587.59L268.6,589.14L270.6,589.14L270.6,588.22L271.1,588.22L271.1,589.14L273.1,589.14L273.1,588.15L273.6,588.15L273.6,589.14L276.6,589.14L276.6,587.52L277.1,587.52L277.1,587.87L277.6,587.87L277.6,589.14L279.6,589.14L279.6,587.78L280.1,587.78L280.1,587.48L280.6,587.48L280.6,589.14L281.1,589.14L281.1,587.60L281.6,587.60L281.6,589.14L285.6,589.14L285.6,587.77L286.1,587.77L286.1,589.14L288.1,589.14L288.1,587.97L288.6,587.97L288.6,588.17L289.1,588.17L289.1,589.14L289.5,589.14L289.5,589.1Z" fill="#2020ee"/>
<path d="M100.6,605.9L100.6,605.91L100.6,604.49L101.1,604.49L101.1,604.29L101.6,604.29L101.6,604.89L102.1,604.89L102.1,605.91L102.6,605.91L102.6,604.84L103.1,604.84L103.1,604.63L103.6,604.63L103.6,604.32L104.1,604.32L104.1,605.91L105.1,605.91L105.1,604.26L105.6,604.26L105.6,604.64L106.1,604.64L106.1,604.62L106.6,604.62L106.6,604.77L107.1,604.77L107.1,604.65L107.6,604.65L107.6,605.91L108.1,605.91L108.1,604.38L108.6,604.38L108.6,604.34L109.1,604.34L109.1,604.49L109.6,604.49L109.6,604.88L110.1,604.88L110.1,604.40L110.6,604.40L110.6,604.23L111.1,604.23L111.1,604.21L111.6,604.21L111.6,604.90L112.1,604.90L112.1,604.61L112.6,604.61L112.6,604.52L113.1,604.52L113.1,604.41L113.6,604.41L113.6,604.28L114.1,604.28L114.1,604.90L114.6,604.90L114.6,604.19L115.1,604.19L115.1,604.57L115.6,604.57L115.6,604.14L116.1,604.14L116.1,604.28L116.6,604.28L116.6,604.60L117.1,604.60L117.1,604.15L117.6,604.15L117.6,604.54L118.1,604.54L118.1,604.83L118.6,604.83L118.6,604.76L119.1,604.76L119.1,605.91L120.1,605.91L120.1,604.67L120.6,604.67L120.6,604.16L121.1,604.16L121.1,605.91L121.6,605.91L121.6,604.13L122.1,604.13L122.1,604.39L122.6,604.39L122.6,605.91L123.1,605.91L123.1,604.61L123.6,604.61L123.6,605.91L124.1,605.91L124.1,604.63L124.6,604.63L124.6,605.91L125.1,605.91L125.1,604.24L125.6,604.24L125.6,605.91L126.1,605.91L126.1,604.25L126.6,604.25L126.6,604.59L127.1,604.59L127.1,604.68L127.6,604.68L127.6,604.44L128.1,604.44L128.1,604.15L128.6,604.15L128.6,604.35L129.1,604.35L129.1,604.73L129.6,604.73L129.6,604.28L130.1,604.28L130.1,604.20L130.6,604.20L130.6,604.32L131.1,604.32L131.1,604.33L131.6,604.33L131.6,604.37L132.1,604.37L132.1,604.46L132.6,604.46L132.6,604.60L133.1,604.60L133.1,604.34L133.6,604.34L133.6,604.58L134.1,604.58L134.1,604.78L134.6,604.78L134.6,604.19L135.1,604.19L135.1,603.68L135.6,603.68L135.6,603.95L136.1,603.95L136.1,603.80L136.6,603.80L136.6,602.75L137.1,602.75L137.1,602.66L137.6,602.66L137.6,602.92L138.1,602.92L138.1,603.34L138.6,603.34L138.6,602.95L139.1,602.95L139.1,602.44L139.6,602.44L139.6,601.64L140.1,601.64L140.1,602.20L140.6,602.20L140.6,601.25L141.1,601.25L141.1,602.02L141.6,602.02L141.6,601.28L142.1,601.28L142.1,600.73L142.6,600.73L142.6,601.45L143.1,601.45L143.1,601.16L143.6,601.16L143.6,602.21L144.1,602.21L144.1,601.92L144.6,601.92L144.6,600.05L145.1,600.05L145.1,601.73L145.6,601.73L145.6,601.31L146.1,601.31L146.1,600.19L146.6,600.19L146.6,598.52L147.1,598.52L147.1,598.08L147.6,598.08L147.6,598.68L148.1,598.68L148.1,600.04L148.6,600.04L148.6,600.59L149.1,600.59L149.1,599.57L149.6,599.57L149.6,592.91L150.6,592.91L150.6,598.18L151.1,598.18L151.1,596.13L151.6,596.13L151.6,599.48L152.1,599.48L152.1,596.74L152.6,596.74L152.6,599.26L153.1,599.26L153.1,597.76L153.6,597.76L153.6,596.36L154.1,596.36L154.1,598.39L154.6,598.39L154.6,594.91L155.6,594.91L155.6,597.05L156.1,597.05L156.1,597.40L156.6,597.40L156.6,597.59L157.1,597.59L157.1,599.45L157.6,599.45L157.6,597.01L158.1,597.01L158.1,596.64L158.6,596.64L158.6,598.33L159.1,598.33L159.1,599.17L159.6,599.17L159.6,597.68L160.1,597.68L160.1,596.87L160.6,596.87L160.6,598.36L161.1,598.36L161.1,597.89L161.6,597.89L161.6,597.04L162.1,597.04L162.1,596.28L162.6,596.28L162.6,593.41L163.6,593.41L163.6,600.12L164.1,600.12L164.1,599.20L164.6,599.20L164.6,597.34L165.1,597.34L165.1,599.62L165.6,599.62L165.6,597.42L166.1,597.42L166.1,596.89L166.6,596.89L166.6,597.34L167.1,597.34L167.1,596.70L167.6,596.70L167.6,594.91L168.6,594.91L168.6,595.97L169.1,595.97L169.1,598.88L169.6,598.88L169.6,599.64L170.1,599.64L170.1,598.18L170.6,598.18L170.6,597.77L171.1,597.77L171.1,598.78L171.6,598.78L171.6,596.12L172.1,596.12L172.1,598.92L172.6,598.92L172.6,595.91L173.6,595.91L173.6,599.41L174.1,599.41L174.1,597.58L174.6,597.58L174.6,599.10L175.1,599.10L175.1,598.76L175.6,598.76L175.6,597.32L176.1,597.32L176.1,597.35L176.6,597.35L176.6,600.20L177.1,600.20L177.1,597.87L177.6,597.87L177.6,597.86L178.1,597.86L178.1,598.79L178.6,598.79L178.6,598.74L179.1,598.74L179.1,597.68L179.6,597.68L179.6,596.89L180.1,596.89L180.1,596.90L180.6,596.90L180.6,596.61L181.1,596.61L181.1,598.02L181.6,598.02L181.6,599.25L182.1,599.25L182.1,601.15L182.6,601.15L182.6,601.33L183.1,601.33L183.1,599.86L183.6,599.86L183.6,600.10L184.1,600.10L184.1,601.84L184.6,601.84L184.6,602.25L185.1,602.25L185.1,600.21L185.6,600.21L185.6,605.91L186.1,605.91L186.1,601.51L186.6,601.51L186.6,602.35L187.1,602.35L187.1,601.76L187.6,601.76L187.6,600.61L188.1,600.61L188.1,600.65L188.6,600.65L188.6,602.48L189.1,602.48L189.1,601.45L189.6,601.45L189.6,602.70L190.1,602.70L190.1,601.91L190.6,601.91L190.6,601.33L191.1,601.33L191.1,602.59L191.6,602.59L191.6,601.92L192.1,601.92L192.1,602.84L192.6,602.84L192.6,602.71L193.1,602.71L193.1,602.01L193.6,602.01L193.6,602.71L194.1,602.71L194.1,603.01L194.6,603.01L194.6,602.85L195.1,602.85L195.1,602.06L195.6,602.06L195.6,602.79L196.1,602.79L196.1,602.51L196.6,602.51L196.6,603.20L197.1,603.20L197.1,602.60L197.6,602.60L197.6,603.69L198.1,603.69L198.1,603.71L198.6,603.71L198.6,603.49L199.1,603.49L199.1,602.61L199.6,602.61L199.6,605.91L200.1,605.91L200.1,602.83L200.6,602.83L200.6,605.91L201.1,605.91L201.1,603.50L201.6,603.50L201.6,602.55L202.1,602.55L202.1,603.70L202.6,603.70L202.6,602.95L203.1,602.95L203.1,603.87L203.6,603.87L203.6,602.84L204.1,602.84L204.1,603.77L204.6,603.77L204.6,602.90L205.1,602.90L205.1,605.91L205.6,605.91L205.6,603.05L206.1,603.05L206.1,603.41L206.6,603.41L206.6,604.15L207.1,604.15L207.1,603.79L207.6,603.79L207.6,603.07L208.1,603.07L208.1,604.20L208.6,604.20L208.6,603.71L209.1,603.71L209.1,603.76L209.6,603.76L209.6,603.89L210.1,603.89L210.1,604.11L210.6,604.11L210.6,604.11L211.1,604.11L211.1,604.26L211.6,604.26L211.6,604.22L212.1,604.22L212.1,604.34L212.6,604.34L212.6,605.91L213.6,605.91L213.6,604.64L214.1,604.64L214.1,604.23L214.6,604.23L214.6,604.61L215.1,604.61L215.1,604.50L215.6,604.50L215.6,604.25L216.1,604.25L216.1,604.41L216.6,604.41L216.6,604.18L217.1,604.18L217.1,605.91L219.6,605.91L219.6,604.62L220.1,604.62L220.1,604.26L220.6,604.26L220.6,604.53L221.1,604.53L221.1,604.74L221.6,604.74L221.6,604.36L222.1,604.36L222.1,605.91L222.6,605.91L222.6,604.59L223.1,604.59L223.1,604.81L223.6,604.81L223.6,604.32L224.1,604.32L224.1,604.36L224.6,604.36L224.6,605.91L225.1,605.91L225.1,604.91L225.6,604.91L225.6,604.82L226.1,604.82L226.1,604.14L226.6,604.14L226.6,604.47L227.1,604.47L227.1,604.71L227.6,604.71L227.6,604.88L228.1,604.88L228.1,604.53L228.6,604.53L228.6,604.66L229.1,604.66L229.1,604.79L229.6,604.79L229.6,605.91L230.1,605.91L230.1,604.77L230.6,604.77L230.6,604.15L231.1,604.15L231.1,605.91L231.6,605.91L231.6,604.20L232.1,604.20L232.1,604.63L232.6,604.63L232.6,605.91L233.1,605.91L233.1,604.31L233.6,604.31L233.6,604.51L234.1,604.51L234.1,605.91L234.6,605.91L234.6,604.24L235.1,604.24L235.1,604.47L235.6,604.47L235.6,605.91L236.1,605.91L236.1,604.61L236.6,604.61L236.6,605.91L237.1,605.91L237.1,604.42L237.6,604.42L237.6,605.91L238.1,605.91L238.1,604.20L238.6,604.20L238.6,604.46L239.1,604.46L239.1,604.70L239.6,604.70L239.6,605.91L240.1,605.91L240.1,604.89L240.6,604.89L240.6,604.82L241.1,604.82L241.1,604.71L241.6,604.71L241.6,604.49L242.1,604.49L242.1,604.74L242.6,604.74L242.6,604.28L243.1,604.28L243.1,604.49L243.6,604.49L243.6,604.57L244.1,604.57L244.1,604.57L244.6,604.57L244.6,605.91L245.1,605.91L245.1,604.48L245.6,604.48L245.6,604.73L246.1,604.73L246.1,604.66L246.6,604.66L246.6,604.51L247.1,604.51L247.1,605.91L247.6,605.91L247.6,604.65L248.1,604.65L248.1,604.34L248.6,604.34L248.6,604.63L249.1,604.63L249.1,604.18L249.6,604.18L249.6,605.91L250.1,605.91L250.1,604.45L250.6,604.45L250.6,604.63L251.1,604.63L251.1,604.55L251.6,604.55L251.6,604.83L252.1,604.83L252.1,604.65L252.6,604.65L252.6,604.77L253.1,604.77L253.1,605.91L253.6,605.91L253.6,604.29L254.1,604.29L254.1,605.91L255.1,605.91L255.1,604.61L255.6,604.61L255.6,604.40L256.1,604.40L256.1,604.15L256.6,604.15L256.6,604.52L257.1,604.52L257.1,604.50L257.6,604.50L257.6,604.39L258.1,604.39L258.1,604.90L258.6,604.90L258.6,604.23L259.1,604.23L259.1,604.58L259.6,604.58L259.6,604.31L260.1,604.31L260.1,605.91L260.6,605.91L260.6,604.52L261.1,604.52L261.1,604.46L261.6,604.46L261.6,604.29L262.1,604.29L262.1,605.91L262.6,605.91L262.6,604.42L263.1,604.42L263.1,604.17L263.6,604.17L263.6,605.91L264.1,605.91L264.1,604.56L264.6,604.56L264.6,604.21L265.1,604.21L265.1,604.55L265.6,604.55L265.6,604.44L266.1,604.44L266.1,604.51L266.6,604.51L266.6,605.91L267.1,605.91L267.1,604.37L267.6,604.37L267.6,605.91L268.1,605.91L268.1,604.89L268.6,604.89L268.6,604.60L269.1,604.60L269.1,604.31L269.6,604.31L269.6,604.78L270.1,604.78L270.1,604.29L270.6,604.29L270.6,604.17L271.1,604.17L271.1,604.30L271.6,604.30L271.6,605.91L272.1,605.91L272.1,604.70L272.6,604.70L272.6,605.91L273.1,605.91L273.1,604.16L273.6,604.16L273.6,604.58L274.1,604.58L274.1,604.19L274.6,604.19L274.6,605.91L275.1,605.91L275.1,604.17L275.6,604.17L275.6,605.91L276.1,605.91L276.1,604.27L276.6,604.27L276.6,604.32L277.1,604.32L277.1,604.46L277.6,604.46L277.6,604.79L278.1,604.79L278.1,604.76L278.6,604.76L278.6,605.91L279.1,605.91L279.1,604.60L279.6,604.60L279.6,605.91L280.6,605.91L280.6,604.74L281.1,604.74L281.1,604.87L281.6,604.87L281.6,605.91L282.1,605.91L282.1,604.57L282.6,604.57L282.6,605.91L283.1,605.91L283.1,604.27L283.6,604.27L283.6,604.44L284.1,604.44L284.1,604.92L284.6,604.92L284.6,605.91L285.1,605.91L285.1,604.80L285.6,604.80L285.6,604.79L286.1,604.79L286.1,604.81L286.6,604.81L286.6,605.91L287.1,605.91L287.1,604.51L287.6,604.51L287.6,604.64L288.1,604.64L288.1,604.63L288.6,604.63L288.6,605.91L289.1,605.91L289.1,604.28L289.5,604.28L289.5,605.9Z" fill="#dc2b5e"/>
<path d="M317.3,589.2L317.3,589.20L317.3,589.20L320.3,589.20L320.3,586.86L320.8,586.86L320.8,584.20L321.8,584.20L321.8,586.17L322.3,586.17L322.3,586.22L322.8,586.22L322.8,586.44L323.3,586.44L323.3,586.00L323.8,586.00L323.8,582.20L324.8,582.20L324.8,589.20L325.8,589.20L325.8,586.24L326.3,586.24L326.3,586.53L326.8,586.53L326.8,583.20L327.8,583.20L327.8,589.20L328.3,589.20L328.3,586.47L328.8,586.47L328.8,585.54L329.3,585.54L329.3,589.20L329.8,589.20L329.8,581.20L330.8,581.20L330.8,585.52L331.3,585.52L331.3,585.80L331.8,585.80L331.8,589.20L332.3,589.20L332.3,586.55L332.8,586.55L332.8,582.70L333.8,582.70L333.8,586.71L334.3,586.71L334.3,589.20L334.8,589.20L334.8,586.48L335.3,586.48L335.3,585.83L335.8,585.83L335.8,581.70L336.8,581.70L336.8,585.46L337.3,585.46L337.3,589.20L337.8,589.20L337.8,580.20L338.8,580.20L338.8,589.20L339.8,589.20L339.8,586.19L340.3,586.19L340.3,585.73L340.8,585.73L340.8,579.70L341.8,579.70L341.8,585.74L342.3,585.74L342.3,589.20L342.8,589.20L342.8,586.99L343.3,586.99L343.3,585.81L343.8,585.81L343.8,581.20L344.8,581.20L344.8,585.80L345.3,585.80L345.3,589.20L346.3,589.20L346.3,585.96L346.8,585.96L346.8,577.20L347.8,577.20L347.8,586.95L348.3,586.95L348.3,585.27L348.8,585.27L348.8,586.67L349.3,586.67L349.3,589.20L349.8,589.20L349.8,580.70L350.8,580.70L350.8,589.20L351.3,589.20L351.3,586.61L351.8,586.61L351.8,580.20L352.8,580.20L352.8,586.87L353.3,586.87L353.3,586.68L353.8,586.68L353.8,586.88L354.3,586.88L354.3,586.01L354.8,586.01L354.8,582.20L355.8,582.20L355.8,589.20L356.3,589.20L356.3,580.20L357.3,580.20L357.3,589.20L357.8,589.20L357.8,586.34L358.3,586.34L358.3,585.24L358.8,585.24L358.8,582.70L359.8,582.70L359.8,585.74L360.3,585.74L360.3,589.20L360.8,589.20L360.8,582.20L361.8,582.20L361.8,586.91L362.3,586.91L362.3,585.98L362.8,585.98L362.8,581.20L363.8,581.20L363.8,585.24L364.3,585.24L364.3,585.98L364.8,585.98L364.8,585.90L365.3,585.90L365.3,586.77L365.8,586.77L365.8,583.20L366.8,583.20L366.8,589.20L367.3,589.20L367.3,586.23L367.8,586.23L367.8,581.20L368.8,581.20L368.8,589.20L369.3,589.20L369.3,585.77L369.8,585.77L369.8,589.20L370.3,589.20L370.3,583.20L371.3,583.20L371.3,586.08L371.8,586.08L371.8,582.20L372.8,582.20L372.8,589.20L373.3,589.20L373.3,586.17L373.8,586.17L373.8,586.25L374.3,586.25L374.3,586.24L374.8,586.24L374.8,582.70L375.8,582.70L375.8,585.71L376.3,585.71L376.3,586.95L376.8,586.95L376.8,585.31L377.3,585.31L377.3,586.36L377.8,586.36L377.8,583.70L378.8,583.70L378.8,585.37L379.3,585.37L379.3,586.93L379.8,586.93L379.8,589.20L380.8,589.20L380.8,583.20L381.8,583.20L381.8,586.04L382.3,586.04L382.3,585.74L382.8,585.74L382.8,586.19L383.3,586.19L383.3,585.33L383.8,585.33L383.8,584.20L384.8,584.20L384.8,585.37L385.3,585.37L385.3,589.20L385.8,589.20L385.8,583.70L386.8,583.70L386.8,586.75L387.3,586.75L387.3,585.75L387.8,585.75L387.8,589.20L388.3,589.20L388.3,586.14L388.8,586.14L388.8,584.70L389.8,584.70L389.8,585.77L390.3,585.77L390.3,589.20L397.3,589.20L397.3,586.79L397.8,586.79L397.8,589.20L398.8,589.20L398.8,586.53L399.3,586.53L399.3,586.46L399.8,586.46L399.8,584.20L400.8,584.20L400.8,586.69L401.3,586.69L401.3,586.26L401.8,586.26L401.8,587.06L402.3,587.06L402.3,586.36L402.8,586.36L402.8,587.46L403.3,587.46L403.3,586.81L403.8,586.81L403.8,583.70L404.8,583.70L404.8,589.20L406.8,589.20L406.8,586.56L407.3,586.56L407.3,589.20L407.8,589.20L407.8,584.70L408.8,584.70L408.8,586.94L409.3,586.94L409.3,589.20L409.8,589.20L409.8,587.33L410.3,587.33L410.3,589.20L411.8,589.20L411.8,586.83L412.3,586.83L412.3,589.20L413.8,589.20L413.8,587.26L414.3,587.26L414.3,589.20L415.3,589.20L415.3,587.82L415.8,587.82L415.8,589.20L420.8,589.20L420.8,588.07L421.3,588.07L421.3,589.20L424.8,589.20L424.8,587.42L425.3,587.42L425.3,589.20L429.8,589.20L429.8,586.70L430.8,586.70L430.8,589.20L433.8,589.20L433.8,587.10L434.3,587.10L434.3,589.20L450.3,589.20L450.3,587.12L450.8,587.12L450.8,589.20L451.8,589.20L451.8,586.20L452.8,586.20L452.8,589.20L461.8,589.20L461.8,586.70L462.8,586.70L462.8,589.20L465.8,589.20L465.8,587.13L466.3,587.13L466.3,589.20L468.3,589.20L468.3,587.88L468.8,587.88L468.8,589.20L474.8,589.20L474.8,586.20L475.8,586.20L475.8,589.20L476.8,589.20L476.8,587.13L477.3,587.13L477.3,589.20L479.8,589.20L479.8,586.70L480.8,586.70L480.8,589.20L485.8,589.20L485.8,585.70L486.8,585.70L486.8,589.20L489.4,589.20L489.4,589.2Z" fill="#2020ee"/>
<path d="M317.3,605.9L317.3,605.92L317.3,605.92L322.3,605.92L322.3,603.08L322.8,603.08L322.8,603.52L323.3,603.52L323.3,605.92L323.8,605.92L323.8,602.16L324.3,602.16L324.3,605.92L326.3,605.92L326.3,603.56L326.8,603.56L326.8,602.56L327.3,602.56L327.3,602.76L327.8,602.76L327.8,602.60L328.3,602.60L328.3,602.39L328.8,602.39L328.8,602.33L329.3,602.33L329.3,605.92L330.3,605.92L330.3,602.15L330.8,602.15L330.8,600.92L331.8,600.92L331.8,603.16L332.3,603.16L332.3,603.01L332.8,603.01L332.8,605.92L333.8,605.92L333.8,603.16L334.3,603.16L334.3,605.92L334.8,605.92L334.8,602.96L335.3,602.96L335.3,602.69L335.8,602.69L335.8,602.64L336.3,602.64L336.3,605.92L336.8,605.92L336.8,603.81L337.3,603.81L337.3,603.18L337.8,603.18L337.8,601.42L338.8,601.42L338.8,605.92L339.3,605.92L339.3,602.19L339.8,602.19L339.8,602.95L340.3,602.95L340.3,605.92L340.8,605.92L340.8,603.47L341.3,603.47L341.3,605.92L341.8,605.92L341.8,602.25L342.3,602.25L342.3,605.92L342.8,605.92L342.8,602.96L343.3,602.96L343.3,603.12L343.8,603.12L343.8,605.92L344.3,605.92L344.3,603.09L344.8,603.09L344.8,599.92L345.8,599.92L345.8,603.74L346.3,603.74L346.3,605.92L346.8,605.92L346.8,602.66L347.3,602.66L347.3,605.92L347.8,605.92L347.8,602.60L348.3,602.60L348.3,602.38L348.8,602.38L348.8,602.43L349.3,602.43L349.3,603.28L349.8,603.28L349.8,603.46L350.3,603.46L350.3,605.92L350.8,605.92L350.8,603.74L351.3,603.74L351.3,605.92L351.8,605.92L351.8,599.92L352.8,599.92L352.8,602.37L353.3,602.37L353.3,603.72L353.8,603.72L353.8,605.92L355.3,605.92L355.3,603.77L355.8,603.77L355.8,602.60L356.3,602.60L356.3,602.83L356.8,602.83L356.8,605.92L357.3,605.92L357.3,603.12L357.8,603.12L357.8,602.81L358.3,602.81L358.3,602.79L358.8,602.79L358.8,603.49L359.3,603.49L359.3,603.81L359.8,603.81L359.8,600.42L360.8,600.42L360.8,603.29L361.3,603.29L361.3,605.92L361.8,605.92L361.8,603.25L362.3,603.25L362.3,603.66L362.8,603.66L362.8,605.92L364.3,605.92L364.3,603.18L364.8,603.18L364.8,602.35L365.3,602.35L365.3,602.48L365.8,602.48L365.8,605.92L366.3,605.92L366.3,603.66L366.8,603.66L366.8,600.92L367.8,600.92L367.8,605.92L368.3,605.92L368.3,603.19L368.8,603.19L368.8,602.15L369.3,602.15L369.3,603.20L369.8,603.20L369.8,602.91L370.3,602.91L370.3,603.72L370.8,603.72L370.8,603.54L371.3,603.54L371.3,603.52L371.8,603.52L371.8,602.22L372.3,602.22L372.3,602.13L372.8,602.13L372.8,602.74L373.3,602.74L373.3,602.76L373.8,602.76L373.8,601.42L374.8,601.42L374.8,602.23L375.3,602.23L375.3,603.43L375.8,603.43L375.8,605.92L376.8,605.92L376.8,602.82L377.3,602.82L377.3,602.78L377.8,602.78L377.8,602.53L378.3,602.53L378.3,603.52L378.8,603.52L378.8,603.24L379.3,603.24L379.3,605.92L380.3,605.92L380.3,603.32L380.8,603.32L380.8,602.84L381.3,602.84L381.3,602.14L381.8,602.14L381.8,603.26L382.3,603.26L382.3,603.54L382.8,603.54L382.8,601.92L383.8,601.92L383.8,603.39L384.3,603.39L384.3,602.56L384.8,602.56L384.8,603.71L385.3,603.71L385.3,603.10L385.8,603.10L385.8,605.92L386.3,605.92L386.3,602.57L386.8,602.57L386.8,602.75L387.3,602.75L387.3,605.92L388.8,605.92L388.8,603.04L389.3,603.04L389.3,603.29L389.8,603.29L389.8,603.58L390.3,603.58L390.3,605.92L398.8,605.92L398.8,604.52L399.3,604.52L399.3,604.68L399.8,604.68L399.8,603.73L400.3,603.73L400.3,604.45L400.8,604.45L400.8,605.92L401.3,605.92L401.3,604.45L401.8,604.45L401.8,605.92L402.3,605.92L402.3,603.74L402.8,603.74L402.8,604.45L403.3,604.45L403.3,603.90L403.8,603.90L403.8,603.88L404.3,603.88L404.3,604.32L404.8,604.32L404.8,605.92L408.8,605.92L408.8,604.04L409.3,604.04L409.3,604.45L409.8,604.45L409.8,605.92L410.3,605.92L410.3,604.00L410.8,604.00L410.8,603.74L411.3,603.74L411.3,604.28L411.8,604.28L411.8,604.37L412.3,604.37L412.3,605.92L412.8,605.92L412.8,604.16L413.3,604.16L413.3,604.40L413.8,604.40L413.8,604.31L414.3,604.31L414.3,605.92L414.8,605.92L414.8,603.98L415.3,603.98L415.3,605.92L416.3,605.92L416.3,604.38L416.8,604.38L416.8,605.92L417.3,605.92L417.3,604.42L417.8,604.42L417.8,605.92L418.8,605.92L418.8,604.68L419.3,604.68L419.3,605.92L421.8,605.92L421.8,604.37L422.3,604.37L422.3,605.92L426.3,605.92L426.3,604.54L426.8,604.54L426.8,604.76L427.3,604.76L427.3,605.92L431.3,605.92L431.3,604.71L431.8,604.71L431.8,605.92L432.8,605.92L432.8,604.25L433.3,604.25L433.3,605.92L437.8,605.92L437.8,604.03L438.3,604.03L438.3,604.48L438.8,604.48L438.8,605.92L439.8,605.92L439.8,604.45L440.3,604.45L440.3,605.92L443.3,605.92L443.3,604.01L443.8,604.01L443.8,605.92L446.8,605.92L446.8,604.41L447.3,604.41L447.3,604.31L447.8,604.31L447.8,605.92L448.3,605.92L448.3,604.02L448.8,604.02L448.8,605.92L449.3,605.92L449.3,604.38L449.8,604.38L449.8,605.92L451.8,605.92L451.8,604.15L452.3,604.15L452.3,605.92L453.3,605.92L453.3,604.58L453.8,604.58L453.8,604.25L454.3,604.25L454.3,605.92L454.8,605.92L454.8,604.46L455.3,604.46L455.3,605.92L456.8,605.92L456.8,604.77L457.3,604.77L457.3,605.92L458.3,605.92L458.3,604.42L458.8,604.42L458.8,604.28L459.3,604.28L459.3,604.72L459.8,604.72L459.8,605.92L465.3,605.92L465.3,604.20L465.8,604.20L465.8,605.92L466.8,605.92L466.8,604.69L467.3,604.69L467.3,605.92L467.8,605.92L467.8,604.49L468.3,604.49L468.3,605.92L469.3,605.92L469.3,604.14L469.8,604.14L469.8,605.92L470.3,605.92L470.3,604.50L470.8,604.50L470.8,605.92L472.8,605.92L472.8,604.30L473.3,604.30L473.3,605.92L474.8,605.92L474.8,604.25L475.3,604.25L475.3,605.92L480.8,605.92L480.8,604.76L481.3,604.76L481.3,605.92L483.8,605.92L483.8,604.28L484.3,604.28L484.3,605.92L486.3,605.92L486.3,604.03L486.8,604.03L486.8,604.78L487.3,604.78L487.3,602.42L488.3,602.42L488.3,605.92L489.4,605.92L489.4,605.9Z" fill="#dc2b5e"/>
<line x1="99.4" y1="442.9" x2="99.4" y2="606.0" stroke="#333" stroke-width="1"/>
<line x1="97.80000000000001" y1="443.3" x2="99.7" y2="443.3" stroke="#333" stroke-width="0.9"/>
<line x1="98.10000000000001" y1="458.3" x2="99.4" y2="458.3" stroke="#333" stroke-width="0.9"/>
<line x1="98.10000000000001" y1="475.15000000000003" x2="99.4" y2="475.15000000000003" stroke="#333" stroke-width="0.9"/>
<line x1="97.80000000000001" y1="476.1" x2="99.7" y2="476.1" stroke="#333" stroke-width="0.9"/>
<line x1="98.10000000000001" y1="491.16" x2="99.4" y2="491.16" stroke="#333" stroke-width="0.9"/>
<line x1="98.10000000000001" y1="507.99" x2="99.4" y2="507.99" stroke="#333" stroke-width="0.9"/>
<line x1="97.80000000000001" y1="508.9" x2="99.7" y2="508.9" stroke="#333" stroke-width="0.9"/>
<line x1="98.10000000000001" y1="524.02" x2="99.4" y2="524.02" stroke="#333" stroke-width="0.9"/>
<line x1="98.10000000000001" y1="540.83" x2="99.4" y2="540.83" stroke="#333" stroke-width="0.9"/>
<line x1="97.80000000000001" y1="541.7" x2="99.7" y2="541.7" stroke="#333" stroke-width="0.9"/>
<line x1="98.10000000000001" y1="556.88" x2="99.4" y2="556.88" stroke="#333" stroke-width="0.9"/>
<line x1="98.10000000000001" y1="573.6700000000001" x2="99.4" y2="573.6700000000001" stroke="#333" stroke-width="0.9"/>
<line x1="97.80000000000001" y1="574.5" x2="99.7" y2="574.5" stroke="#333" stroke-width="0.9"/>
<line x1="98.10000000000001" y1="589.74" x2="99.4" y2="589.74" stroke="#333" stroke-width="0.9"/>
<line x1="98.10000000000001" y1="606.5100000000001" x2="99.4" y2="606.5100000000001" stroke="#333" stroke-width="0.9"/>
<line x1="316.6" y1="442.9" x2="316.6" y2="606.0" stroke="#333" stroke-width="1"/>
<line x1="315.0" y1="443.3" x2="316.90000000000003" y2="443.3" stroke="#333" stroke-width="0.9"/>
<line x1="315.3" y1="458.3" x2="316.6" y2="458.3" stroke="#333" stroke-width="0.9"/>
<line x1="315.3" y1="475.15000000000003" x2="316.6" y2="475.15000000000003" stroke="#333" stroke-width="0.9"/>
<line x1="315.0" y1="476.1" x2="316.90000000000003" y2="476.1" stroke="#333" stroke-width="0.9"/>
<line x1="315.3" y1="491.16" x2="316.6" y2="491.16" stroke="#333" stroke-width="0.9"/>
<line x1="315.3" y1="507.99" x2="316.6" y2="507.99" stroke="#333" stroke-width="0.9"/>
<line x1="315.0" y1="508.9" x2="316.90000000000003" y2="508.9" stroke="#333" stroke-width="0.9"/>
<line x1="315.3" y1="524.02" x2="316.6" y2="524.02" stroke="#333" stroke-width="0.9"/>
<line x1="315.3" y1="540.83" x2="316.6" y2="540.83" stroke="#333" stroke-width="0.9"/>
<line x1="315.0" y1="541.7" x2="316.90000000000003" y2="541.7" stroke="#333" stroke-width="0.9"/>
<line x1="315.3" y1="556.88" x2="316.6" y2="556.88" stroke="#333" stroke-width="0.9"/>
<line x1="315.3" y1="573.6700000000001" x2="316.6" y2="573.6700000000001" stroke="#333" stroke-width="0.9"/>
<line x1="315.0" y1="574.5" x2="316.90000000000003" y2="574.5" stroke="#333" stroke-width="0.9"/>
<line x1="315.3" y1="589.74" x2="316.6" y2="589.74" stroke="#333" stroke-width="0.9"/>
<line x1="315.3" y1="606.5100000000001" x2="316.6" y2="606.5100000000001" stroke="#333" stroke-width="0.9"/>
<text x="96.4" y="448.8" font-size="6.6" text-anchor="end" fill="#222">2.58</text>
<text x="96.4" y="458.4" font-size="6.6" text-anchor="end" fill="#222">0</text>
<text x="96.4" y="464.8" font-size="6.6" text-anchor="end" fill="#222">2.58</text>
<text x="96.4" y="474.6" font-size="6.6" text-anchor="end" fill="#222">0</text>
<text x="313.9" y="448.8" font-size="6.6" text-anchor="end" fill="#222">6.25</text>
<text x="313.9" y="458.4" font-size="6.6" text-anchor="end" fill="#222">0</text>
<text x="313.9" y="464.8" font-size="6.6" text-anchor="end" fill="#222">6.25</text>
<text x="313.9" y="474.6" font-size="6.6" text-anchor="end" fill="#222">0</text>
<text x="96.4" y="481.6" font-size="6.6" text-anchor="end" fill="#222">3.57</text>
<text x="96.4" y="491.2" font-size="6.6" text-anchor="end" fill="#222">0</text>
<text x="96.4" y="497.6" font-size="6.6" text-anchor="end" fill="#222">3.57</text>
<text x="96.4" y="507.40000000000003" font-size="6.6" text-anchor="end" fill="#222">0</text>
<text x="313.9" y="481.6" font-size="6.6" text-anchor="end" fill="#222">5.08</text>
<text x="313.9" y="491.2" font-size="6.6" text-anchor="end" fill="#222">0</text>
<text x="313.9" y="497.6" font-size="6.6" text-anchor="end" fill="#222">5.08</text>
<text x="313.9" y="507.40000000000003" font-size="6.6" text-anchor="end" fill="#222">0</text>
<text x="96.4" y="514.4" font-size="6.6" text-anchor="end" fill="#222">1.87</text>
<text x="96.4" y="524.0" font-size="6.6" text-anchor="end" fill="#222">0</text>
<text x="96.4" y="530.4" font-size="6.6" text-anchor="end" fill="#222">1.87</text>
<text x="96.4" y="540.2" font-size="6.6" text-anchor="end" fill="#222">0</text>
<text x="313.9" y="514.4" font-size="6.6" text-anchor="end" fill="#222">3.7</text>
<text x="313.9" y="524.0" font-size="6.6" text-anchor="end" fill="#222">0</text>
<text x="313.9" y="530.4" font-size="6.6" text-anchor="end" fill="#222">3.7</text>
<text x="313.9" y="540.2" font-size="6.6" text-anchor="end" fill="#222">0</text>
<text x="96.4" y="547.2" font-size="6.6" text-anchor="end" fill="#222">0.97</text>
<text x="96.4" y="556.8" font-size="6.6" text-anchor="end" fill="#222">0</text>
<text x="96.4" y="563.2" font-size="6.6" text-anchor="end" fill="#222">0.97</text>
<text x="96.4" y="573.0" font-size="6.6" text-anchor="end" fill="#222">0</text>
<text x="313.9" y="547.2" font-size="6.6" text-anchor="end" fill="#222">2.05</text>
<text x="313.9" y="556.8" font-size="6.6" text-anchor="end" fill="#222">0</text>
<text x="313.9" y="563.2" font-size="6.6" text-anchor="end" fill="#222">2.05</text>
<text x="313.9" y="573.0" font-size="6.6" text-anchor="end" fill="#222">0</text>
<text x="96.4" y="580.0" font-size="6.6" text-anchor="end" fill="#222">1.25</text>
<text x="96.4" y="589.5999999999999" font-size="6.6" text-anchor="end" fill="#222">0</text>
<text x="96.4" y="596.0" font-size="6.6" text-anchor="end" fill="#222">1.25</text>
<text x="96.4" y="605.8" font-size="6.6" text-anchor="end" fill="#222">0</text>
<text x="313.9" y="580.0" font-size="6.6" text-anchor="end" fill="#222">0.35</text>
<text x="313.9" y="589.5999999999999" font-size="6.6" text-anchor="end" fill="#222">0</text>
<text x="313.9" y="596.0" font-size="6.6" text-anchor="end" fill="#222">0.35</text>
<text x="313.9" y="605.8" font-size="6.6" text-anchor="end" fill="#222">0</text>
<path d="M79.7,443.5 L77.7,443.5 L77.7,473.5 L79.7,473.5 M77.7,458.5 L75.3,458.5" fill="none" stroke="#222" stroke-width="1.1"/>
<text x="40.71" y="462.30" font-size="10.30" textLength="33.53" lengthAdjust="spacingAndGlyphs" fill="#1a1a1a">RUNX1</text>
<path d="M79.7,476.3 L77.7,476.3 L77.7,506.3 L79.7,506.3 M77.7,491.3 L75.3,491.3" fill="none" stroke="#222" stroke-width="1.1"/>
<text x="49.52" y="494.90" font-size="10.30" textLength="24.62" lengthAdjust="spacingAndGlyphs" fill="#1a1a1a">CBF&#946;</text>
<path d="M79.7,509.1 L77.7,509.1 L77.7,539.1 L79.7,539.1 M77.7,524.1 L75.3,524.1" fill="none" stroke="#222" stroke-width="1.1"/>
<text x="36.45" y="528.50" font-size="10.30" textLength="37.72" lengthAdjust="spacingAndGlyphs" fill="#1a1a1a">SMMHC</text>
<path d="M79.7,541.9 L77.7,541.9 L77.7,571.9 L79.7,571.9 M77.7,556.9 L75.3,556.9" fill="none" stroke="#222" stroke-width="1.1"/>
<text x="33.82" y="559.30" font-size="10.30" textLength="40.22" lengthAdjust="spacingAndGlyphs" fill="#1a1a1a">H3K27ac</text>
<path d="M79.7,574.7 L77.7,574.7 L77.7,604.7 L79.7,604.7 M77.7,589.7 L75.3,589.7" fill="none" stroke="#222" stroke-width="1.1"/>
<text x="24.61" y="593.00" font-size="10.30" textLength="49.62" lengthAdjust="spacingAndGlyphs" fill="#1a1a1a">H3K27me3</text>
<line x1="163.5" y1="613.8" x2="238.3" y2="613.8" stroke="#2a2ad6" stroke-width="0.9"/>
<path d="M165.8,611.3 L165.8,616.3 L164.2,616.3 Q162.6,613.8 164.2,611.3 Z" fill="#2a2ad6"/>
<rect x="176.7" y="611.3" width="4.3" height="5.2" fill="#2a2ad6"/>
<rect x="187.1" y="611.3" width="0.9" height="5.2" fill="#2a2ad6"/>
<rect x="237.6" y="611.3" width="1.2" height="5" fill="#2a2ad6"/>
<path d="M167.9,612.9 L169.1,613.8 L167.9,614.7" fill="none" stroke="#2a2ad6" stroke-width="0.7"/>
<path d="M184.1,612.9 L185.29999999999998,613.8 L184.1,614.7" fill="none" stroke="#2a2ad6" stroke-width="0.7"/>
<path d="M189.70000000000002,612.9 L190.9,613.8 L189.70000000000002,614.7" fill="none" stroke="#2a2ad6" stroke-width="0.7"/>
<path d="M196.6,612.9 L197.79999999999998,613.8 L196.6,614.7" fill="none" stroke="#2a2ad6" stroke-width="0.7"/>
<path d="M203.4,612.9 L204.6,613.8 L203.4,614.7" fill="none" stroke="#2a2ad6" stroke-width="0.7"/>
<path d="M210.4,612.9 L211.6,613.8 L210.4,614.7" fill="none" stroke="#2a2ad6" stroke-width="0.7"/>
<path d="M217.4,612.9 L218.6,613.8 L217.4,614.7" fill="none" stroke="#2a2ad6" stroke-width="0.7"/>
<path d="M224.4,612.9 L225.6,613.8 L224.4,614.7" fill="none" stroke="#2a2ad6" stroke-width="0.7"/>
<path d="M231.4,612.9 L232.6,613.8 L231.4,614.7" fill="none" stroke="#2a2ad6" stroke-width="0.7"/>
<line x1="374.6" y1="613.3" x2="485.5" y2="613.3" stroke="#2a2ad6" stroke-width="0.9"/>
<rect x="374.2" y="611.70" width="0.9" height="3.2" fill="#2a2ad6"/>
<rect x="393.1" y="611.40" width="1.4" height="3.8" fill="#2a2ad6"/>
<rect x="419.6" y="610.60" width="1.8" height="5.4" fill="#2a2ad6"/>
<rect x="424.2" y="610.80" width="2.2" height="5" fill="#2a2ad6"/>
<rect x="430" y="610.80" width="2.8" height="5" fill="#2a2ad6"/>
<rect x="438.1" y="610.80" width="1.3" height="5" fill="#2a2ad6"/>
<rect x="441.9" y="610.80" width="1.5" height="5" fill="#2a2ad6"/>
<rect x="455" y="610.30" width="1.9" height="6" fill="#2a2ad6"/>
<rect x="459.4" y="610.80" width="1.6" height="5" fill="#2a2ad6"/>
<rect x="461.8" y="610.80" width="1.6" height="5" fill="#2a2ad6"/>
<rect x="464.4" y="610.80" width="1.8" height="5" fill="#2a2ad6"/>
<rect x="467.5" y="610.80" width="2.2" height="5" fill="#2a2ad6"/>
<rect x="471.3" y="610.00" width="4.3" height="6.6" fill="#2a2ad6"/>
<rect x="475.5" y="611.2" width="10.1" height="4.3" fill="#2a2ad6"/>
<path d="M382.4,612.4 L383.6,613.3 L382.4,614.2" fill="none" stroke="#2a2ad6" stroke-width="0.7"/>
<path d="M397.4,612.4 L398.6,613.3 L397.4,614.2" fill="none" stroke="#2a2ad6" stroke-width="0.7"/>
<path d="M405.4,612.4 L406.6,613.3 L405.4,614.2" fill="none" stroke="#2a2ad6" stroke-width="0.7"/>
<path d="M413.4,612.4 L414.6,613.3 L413.4,614.2" fill="none" stroke="#2a2ad6" stroke-width="0.7"/>
<path d="M426.9,612.4 L428.1,613.3 L426.9,614.2" fill="none" stroke="#2a2ad6" stroke-width="0.7"/>
<path d="M435.4,612.4 L436.6,613.3 L435.4,614.2" fill="none" stroke="#2a2ad6" stroke-width="0.7"/>
<path d="M446.4,612.4 L447.6,613.3 L446.4,614.2" fill="none" stroke="#2a2ad6" stroke-width="0.7"/>
<path d="M450.4,612.4 L451.6,613.3 L450.4,614.2" fill="none" stroke="#2a2ad6" stroke-width="0.7"/>
<path d="M162,620.2 L180.3,620.2" stroke="#111" stroke-width="1.1"/>
<path d="M178.10000000000002,617.9000000000001 L183.3,620.2 L178.10000000000002,622.5 Z" fill="#111"/>
<path d="M374.4,620.3 L392.4,620.3" stroke="#111" stroke-width="1.1"/>
<path d="M390.2,618.0 L395.4,620.3 L390.2,622.5999999999999 Z" fill="#111"/>
<text x="58.09" y="616.10" font-size="10.10" textLength="98.59" lengthAdjust="spacingAndGlyphs" fill="#1a1a1a">Klf5 (Down-regulated)</text>
<text x="282.30" y="616.10" font-size="10.10" textLength="88.89" lengthAdjust="spacingAndGlyphs" fill="#1a1a1a">Furin (up-regulated)</text>
<rect x="0.5" y="0.5" width="519" height="629" fill="none" stroke="#000" stroke-width="1"/>
</svg>
</body></html>
